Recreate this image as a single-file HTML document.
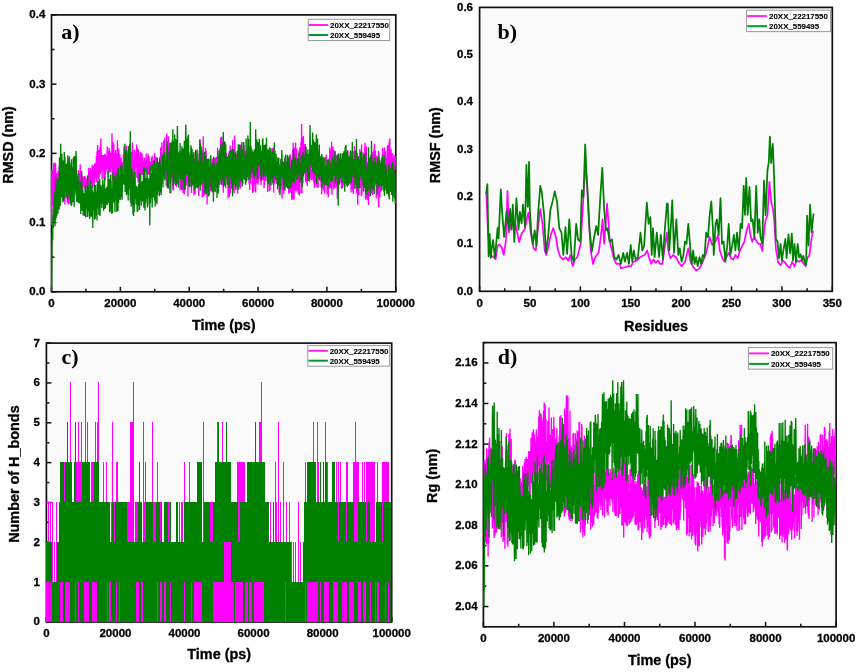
<!DOCTYPE html>
<html><head><meta charset="utf-8"><style>
html,body{margin:0;padding:0;background:#fff;width:858px;height:672px;overflow:hidden}
body{position:relative;font-family:"Liberation Sans",sans-serif}

</style></head><body>
<svg width="858" height="672" viewBox="0 0 858 672" style="position:absolute;left:0;top:0;filter:blur(0.45px)"><rect width="858" height="672" fill="#fff"/><rect x="51.50" y="14.90" width="344.30" height="276.90" fill="#fafafa"/><rect x="479.60" y="7.40" width="352.70" height="283.90" fill="#fafafa"/><rect x="46.40" y="343.10" width="345.30" height="278.90" fill="#fafafa"/><rect x="483.40" y="342.60" width="352.70" height="284.20" fill="#fafafa"/><line x1="51.50" y1="291.80" x2="51.50" y2="286.80" stroke="#111" stroke-width="1.5"/><line x1="120.36" y1="291.80" x2="120.36" y2="286.80" stroke="#111" stroke-width="1.5"/><line x1="189.22" y1="291.80" x2="189.22" y2="286.80" stroke="#111" stroke-width="1.5"/><line x1="258.08" y1="291.80" x2="258.08" y2="286.80" stroke="#111" stroke-width="1.5"/><line x1="326.94" y1="291.80" x2="326.94" y2="286.80" stroke="#111" stroke-width="1.5"/><line x1="395.80" y1="291.80" x2="395.80" y2="286.80" stroke="#111" stroke-width="1.5"/><line x1="85.93" y1="291.80" x2="85.93" y2="288.80" stroke="#111" stroke-width="1.5"/><line x1="154.79" y1="291.80" x2="154.79" y2="288.80" stroke="#111" stroke-width="1.5"/><line x1="223.65" y1="291.80" x2="223.65" y2="288.80" stroke="#111" stroke-width="1.5"/><line x1="292.51" y1="291.80" x2="292.51" y2="288.80" stroke="#111" stroke-width="1.5"/><line x1="361.37" y1="291.80" x2="361.37" y2="288.80" stroke="#111" stroke-width="1.5"/><line x1="51.50" y1="291.80" x2="56.50" y2="291.80" stroke="#111" stroke-width="1.5"/><line x1="51.50" y1="222.57" x2="56.50" y2="222.57" stroke="#111" stroke-width="1.5"/><line x1="51.50" y1="153.35" x2="56.50" y2="153.35" stroke="#111" stroke-width="1.5"/><line x1="51.50" y1="84.13" x2="56.50" y2="84.13" stroke="#111" stroke-width="1.5"/><line x1="51.50" y1="14.90" x2="56.50" y2="14.90" stroke="#111" stroke-width="1.5"/><line x1="51.50" y1="257.19" x2="54.50" y2="257.19" stroke="#111" stroke-width="1.5"/><line x1="51.50" y1="187.96" x2="54.50" y2="187.96" stroke="#111" stroke-width="1.5"/><line x1="51.50" y1="118.74" x2="54.50" y2="118.74" stroke="#111" stroke-width="1.5"/><line x1="51.50" y1="49.51" x2="54.50" y2="49.51" stroke="#111" stroke-width="1.5"/><text x="51.50" y="306.80" text-anchor="middle" font-size="11.5" style="font-family:'Liberation Sans',sans-serif;font-weight:bold;stroke:#000;stroke-width:0.3px">0</text><text x="120.36" y="306.80" text-anchor="middle" font-size="11.5" style="font-family:'Liberation Sans',sans-serif;font-weight:bold;stroke:#000;stroke-width:0.3px">20000</text><text x="189.22" y="306.80" text-anchor="middle" font-size="11.5" style="font-family:'Liberation Sans',sans-serif;font-weight:bold;stroke:#000;stroke-width:0.3px">40000</text><text x="258.08" y="306.80" text-anchor="middle" font-size="11.5" style="font-family:'Liberation Sans',sans-serif;font-weight:bold;stroke:#000;stroke-width:0.3px">60000</text><text x="326.94" y="306.80" text-anchor="middle" font-size="11.5" style="font-family:'Liberation Sans',sans-serif;font-weight:bold;stroke:#000;stroke-width:0.3px">80000</text><text x="395.80" y="306.80" text-anchor="middle" font-size="11.5" style="font-family:'Liberation Sans',sans-serif;font-weight:bold;stroke:#000;stroke-width:0.3px">100000</text><text x="45.30" y="295.20" text-anchor="end" font-size="11.5" style="font-family:'Liberation Sans',sans-serif;font-weight:bold;stroke:#000;stroke-width:0.3px">0.0</text><text x="45.30" y="225.97" text-anchor="end" font-size="11.5" style="font-family:'Liberation Sans',sans-serif;font-weight:bold;stroke:#000;stroke-width:0.3px">0.1</text><text x="45.30" y="156.75" text-anchor="end" font-size="11.5" style="font-family:'Liberation Sans',sans-serif;font-weight:bold;stroke:#000;stroke-width:0.3px">0.2</text><text x="45.30" y="87.53" text-anchor="end" font-size="11.5" style="font-family:'Liberation Sans',sans-serif;font-weight:bold;stroke:#000;stroke-width:0.3px">0.3</text><text x="45.30" y="18.30" text-anchor="end" font-size="11.5" style="font-family:'Liberation Sans',sans-serif;font-weight:bold;stroke:#000;stroke-width:0.3px">0.4</text><text x="223.80" y="329.60" text-anchor="middle" font-size="14.4" style="font-family:'Liberation Sans',sans-serif;font-weight:bold;stroke:#000;stroke-width:0.3px">Time (ps)</text><text transform="translate(13.40,145.00) rotate(-90)" text-anchor="middle" font-size="14.4" style="font-family:'Liberation Sans',sans-serif;font-weight:bold;stroke:#000;stroke-width:0.3px">RMSD (nm)</text><text x="61.30" y="38.60" font-size="22" style="font-family:'Liberation Serif',serif;font-weight:bold">a)</text><rect x="51.50" y="14.90" width="344.30" height="276.90" fill="none" stroke="#111" stroke-width="1.7"/><path d="M51.60 225.0 L51.80 175.0 L52.00 169.2 L52.30 206.0 L52.60 170.9 L52.90 190.3 L53.20 174.2 L53.50 188.9 L53.80 162.9 L54.10 222.3 L54.40 182.6 L54.70 200.9 L55.00 162.5 L55.30 189.0 L55.60 163.5 L55.90 196.9 L56.20 174.2 L56.50 198.0 L56.80 173.3 L57.10 207.7 L57.40 181.3 L57.70 194.2 L58.00 171.0 L58.30 202.6 L58.60 181.8 L58.90 205.9 L59.20 166.0 L59.50 204.7 L59.80 184.0 L60.10 189.1 L60.40 180.2 L60.70 189.2 L61.00 183.4 L61.30 189.5 L61.60 162.4 L61.90 190.4 L62.20 174.0 L62.50 200.0 L62.80 177.6 L63.10 194.6 L63.40 171.3 L63.70 201.3 L64.00 182.2 L64.30 194.3 L64.60 178.2 L64.90 204.5 L65.20 171.9 L65.50 193.3 L65.80 169.1 L66.10 197.6 L66.40 178.2 L66.70 195.5 L67.00 176.2 L67.30 202.7 L67.60 170.4 L67.90 202.2 L68.20 170.7 L68.50 204.6 L68.80 183.9 L69.10 198.9 L69.40 156.3 L69.70 192.5 L70.00 171.1 L70.30 199.2 L70.60 169.3 L70.90 189.5 L71.20 176.2 L71.50 199.1 L71.80 182.5 L72.10 187.6 L72.40 167.2 L72.70 193.5 L73.00 167.3 L73.30 202.5 L73.60 176.5 L73.90 196.3 L74.20 157.4 L74.50 197.9 L74.80 164.5 L75.10 193.3 L75.40 169.2 L75.70 185.2 L76.00 175.7 L76.30 195.5 L76.60 175.9 L76.90 187.9 L77.20 176.8 L77.50 187.9 L77.80 175.4 L78.10 190.2 L78.40 170.1 L78.70 180.5 L79.00 175.8 L79.30 189.8 L79.60 172.2 L79.90 185.5 L80.20 164.2 L80.50 180.1 L80.80 170.8 L81.10 188.8 L81.40 173.6 L81.70 191.8 L82.00 175.4 L82.30 183.0 L82.60 176.2 L82.90 190.2 L83.20 177.2 L83.50 186.0 L83.80 180.2 L84.10 186.1 L84.40 175.9 L84.70 187.4 L85.00 181.0 L85.30 191.4 L85.60 176.5 L85.90 186.6 L86.20 179.1 L86.50 188.6 L86.80 182.9 L87.10 188.8 L87.40 178.2 L87.70 185.9 L88.00 180.3 L88.30 191.5 L88.60 167.7 L88.90 184.9 L89.20 171.4 L89.50 185.7 L89.80 175.1 L90.10 190.2 L90.40 168.1 L90.70 191.0 L91.00 172.0 L91.30 180.6 L91.60 169.9 L91.90 184.1 L92.20 164.7 L92.50 187.4 L92.80 171.1 L93.10 176.0 L93.40 165.8 L93.70 178.7 L94.00 168.4 L94.30 186.3 L94.60 164.0 L94.90 182.4 L95.20 162.9 L95.50 174.0 L95.80 167.0 L96.10 178.2 L96.40 156.0 L96.70 182.6 L97.00 151.3 L97.30 177.1 L97.60 144.9 L97.90 168.7 L98.20 151.0 L98.50 179.7 L98.80 149.7 L99.10 178.0 L99.40 157.6 L99.70 173.6 L100.00 146.8 L100.30 173.9 L100.60 157.7 L100.90 138.5 L101.20 155.2 L101.50 171.6 L101.80 160.9 L102.10 179.2 L102.40 155.1 L102.70 168.9 L103.00 155.0 L103.30 166.3 L103.60 155.4 L103.90 178.4 L104.20 155.2 L104.50 167.0 L104.80 153.8 L105.10 180.3 L105.40 154.5 L105.70 172.6 L106.00 161.0 L106.30 170.6 L106.60 156.3 L106.90 167.5 L107.20 146.4 L107.50 169.0 L107.80 151.0 L108.10 175.4 L108.40 157.4 L108.70 173.3 L109.00 147.7 L109.30 171.6 L109.60 150.5 L109.90 166.4 L110.20 153.5 L110.50 172.4 L110.80 152.5 L111.10 166.7 L111.40 155.3 L111.70 167.7 L112.00 133.3 L112.30 180.0 L112.60 141.6 L112.90 175.0 L113.20 142.4 L113.50 170.0 L113.80 144.5 L114.10 178.8 L114.40 155.3 L114.70 180.1 L115.00 153.6 L115.30 173.0 L115.60 150.0 L115.90 182.0 L116.20 156.3 L116.50 168.9 L116.80 152.9 L117.10 181.6 L117.40 140.3 L117.70 174.5 L118.00 155.3 L118.30 175.9 L118.60 148.2 L118.90 181.3 L119.20 157.9 L119.50 175.3 L119.80 153.9 L120.10 169.9 L120.40 163.9 L120.70 183.4 L121.00 157.8 L121.30 177.8 L121.60 163.3 L121.90 184.4 L122.20 162.0 L122.50 175.7 L122.80 163.0 L123.10 181.9 L123.40 153.7 L123.70 168.9 L124.00 146.1 L124.30 179.3 L124.60 148.2 L124.90 179.7 L125.20 156.4 L125.50 178.3 L125.80 164.7 L126.10 183.1 L126.40 145.5 L126.70 185.4 L127.00 150.0 L127.30 179.7 L127.60 154.3 L127.90 184.6 L128.20 170.1 L128.50 195.0 L128.80 168.4 L129.10 188.6 L129.40 153.3 L129.70 178.5 L130.00 153.7 L130.30 202.5 L130.60 156.8 L130.90 184.2 L131.20 152.0 L131.50 181.8 L131.80 159.1 L132.10 168.5 L132.40 142.6 L132.70 182.9 L133.00 159.2 L133.30 165.8 L133.60 159.3 L133.90 184.3 L134.20 149.5 L134.50 169.9 L134.80 159.6 L135.10 174.6 L135.40 157.3 L135.70 167.3 L136.00 150.4 L136.30 166.1 L136.60 144.4 L136.90 178.1 L137.20 147.6 L137.50 173.2 L137.80 153.4 L138.10 182.8 L138.40 149.2 L138.70 181.4 L139.00 156.8 L139.30 170.9 L139.60 156.7 L139.90 176.7 L140.20 151.8 L140.50 181.7 L140.80 152.2 L141.10 171.4 L141.40 160.1 L141.70 175.1 L142.00 153.3 L142.30 174.9 L142.60 157.1 L142.90 170.3 L143.20 161.8 L143.50 168.4 L143.80 162.5 L144.10 176.9 L144.40 157.6 L144.70 177.2 L145.00 160.4 L145.30 170.9 L145.60 161.4 L145.90 171.9 L146.20 153.5 L146.50 167.5 L146.80 159.1 L147.10 174.5 L147.40 161.5 L147.70 168.7 L148.00 153.4 L148.30 174.4 L148.60 155.7 L148.90 170.0 L149.20 156.6 L149.50 173.7 L149.80 162.7 L150.10 175.8 L150.40 161.6 L150.70 169.5 L151.00 163.3 L151.30 169.0 L151.60 157.3 L151.90 170.9 L152.20 155.8 L152.50 175.7 L152.80 163.1 L153.10 169.1 L153.40 163.9 L153.70 167.7 L154.00 160.5 L154.30 178.4 L154.60 153.1 L154.90 176.8 L155.20 155.5 L155.50 178.3 L155.80 161.8 L156.10 176.9 L156.40 157.3 L156.70 177.4 L157.00 163.5 L157.30 172.6 L157.60 162.5 L157.90 175.2 L158.20 163.0 L158.50 174.2 L158.80 161.8 L159.10 181.6 L159.40 164.6 L159.70 181.0 L160.00 160.9 L160.30 178.5 L160.60 148.2 L160.90 192.6 L161.20 146.6 L161.50 181.3 L161.80 142.6 L162.10 174.3 L162.40 159.7 L162.70 173.1 L163.00 153.3 L163.30 171.8 L163.60 140.5 L163.90 177.3 L164.20 151.8 L164.50 175.4 L164.80 137.7 L165.10 178.9 L165.40 157.0 L165.70 176.9 L166.00 159.4 L166.30 186.0 L166.60 133.3 L166.90 169.6 L167.20 156.1 L167.50 185.1 L167.80 141.6 L168.10 188.8 L168.40 136.3 L168.70 180.6 L169.00 157.8 L169.30 175.1 L169.60 149.4 L169.90 193.1 L170.20 159.0 L170.50 178.6 L170.80 149.9 L171.10 172.9 L171.40 165.3 L171.70 174.4 L172.00 162.5 L172.30 182.5 L172.60 167.5 L172.90 189.8 L173.20 164.1 L173.50 190.4 L173.80 164.8 L174.10 182.4 L174.40 151.9 L174.70 177.6 L175.00 150.7 L175.30 180.3 L175.60 155.7 L175.90 173.4 L176.20 157.4 L176.50 187.1 L176.80 148.5 L177.10 184.8 L177.40 158.9 L177.70 171.2 L178.00 163.3 L178.30 182.9 L178.60 154.7 L178.90 176.6 L179.20 154.8 L179.50 176.0 L179.80 162.0 L180.10 190.4 L180.40 162.2 L180.70 188.6 L181.00 150.7 L181.30 186.1 L181.60 151.8 L181.90 190.0 L182.20 150.3 L182.50 176.5 L182.80 157.1 L183.10 192.9 L183.40 159.7 L183.70 190.1 L184.00 157.3 L184.30 194.2 L184.60 164.2 L184.90 191.2 L185.20 151.4 L185.50 182.1 L185.80 152.4 L186.10 185.9 L186.40 167.8 L186.70 178.9 L187.00 169.7 L187.30 183.2 L187.60 154.0 L187.90 196.4 L188.20 165.9 L188.50 179.7 L188.80 164.0 L189.10 177.2 L189.40 162.9 L189.70 182.0 L190.00 158.4 L190.30 177.7 L190.60 153.9 L190.90 185.9 L191.20 162.4 L191.50 193.0 L191.80 167.4 L192.10 177.4 L192.40 156.9 L192.70 179.9 L193.00 167.9 L193.30 186.4 L193.60 151.7 L193.90 195.6 L194.20 164.6 L194.50 189.4 L194.80 158.9 L195.10 194.3 L195.40 160.8 L195.70 184.0 L196.00 154.1 L196.30 180.8 L196.60 155.5 L196.90 174.8 L197.20 149.2 L197.50 187.0 L197.80 153.6 L198.10 188.7 L198.40 160.2 L198.70 196.0 L199.00 161.4 L199.30 181.0 L199.60 161.3 L199.90 139.6 L200.20 160.7 L200.50 170.3 L200.80 161.4 L201.10 185.5 L201.40 146.5 L201.70 172.1 L202.00 151.3 L202.30 197.6 L202.60 154.4 L202.90 179.4 L203.20 136.3 L203.50 196.3 L203.80 164.8 L204.10 192.7 L204.40 162.8 L204.70 195.3 L205.00 165.0 L205.30 187.1 L205.60 148.1 L205.90 182.3 L206.20 151.0 L206.50 194.2 L206.80 158.9 L207.10 204.4 L207.40 159.3 L207.70 197.3 L208.00 164.0 L208.30 184.8 L208.60 173.1 L208.90 195.0 L209.20 164.6 L209.50 195.3 L209.80 159.3 L210.10 181.6 L210.40 156.4 L210.70 191.2 L211.00 172.2 L211.30 190.4 L211.60 168.2 L211.90 185.0 L212.20 159.6 L212.50 189.2 L212.80 158.6 L213.10 187.8 L213.40 161.3 L213.70 191.1 L214.00 158.2 L214.30 191.2 L214.60 158.5 L214.90 175.9 L215.20 160.7 L215.50 192.3 L215.80 157.4 L216.10 187.3 L216.40 156.8 L216.70 176.8 L217.00 160.0 L217.30 187.9 L217.60 147.7 L217.90 184.5 L218.20 163.4 L218.50 171.8 L218.80 155.4 L219.10 181.2 L219.40 150.4 L219.70 184.9 L220.00 148.2 L220.30 167.9 L220.60 138.5 L220.90 137.5 L221.20 155.2 L221.50 185.1 L221.80 136.5 L222.10 181.3 L222.40 141.4 L222.70 185.7 L223.00 162.7 L223.30 192.7 L223.60 154.5 L223.90 178.1 L224.20 148.3 L224.50 185.8 L224.80 164.8 L225.10 177.1 L225.40 148.8 L225.70 188.2 L226.00 154.3 L226.30 177.0 L226.60 152.9 L226.90 179.2 L227.20 168.0 L227.50 177.6 L227.80 158.3 L228.10 198.3 L228.40 167.5 L228.70 179.9 L229.00 151.1 L229.30 196.8 L229.60 156.2 L229.90 185.4 L230.20 145.6 L230.50 193.6 L230.80 148.8 L231.10 188.0 L231.40 153.3 L231.70 182.5 L232.00 166.3 L232.30 172.9 L232.60 140.3 L232.90 191.3 L233.20 155.8 L233.50 185.0 L233.80 163.8 L234.10 193.3 L234.40 152.3 L234.70 135.4 L235.00 150.4 L235.30 185.5 L235.60 157.8 L235.90 190.3 L236.20 153.9 L236.50 177.3 L236.80 158.4 L237.10 175.6 L237.40 155.1 L237.70 193.8 L238.00 154.0 L238.30 176.4 L238.60 154.8 L238.90 187.7 L239.20 146.3 L239.50 179.4 L239.80 163.9 L240.10 186.9 L240.40 144.6 L240.70 188.4 L241.00 144.5 L241.30 177.9 L241.60 146.3 L241.90 174.1 L242.20 157.8 L242.50 172.7 L242.80 159.0 L243.10 176.1 L243.40 149.9 L243.70 175.0 L244.00 145.0 L244.30 178.8 L244.60 164.5 L244.90 180.3 L245.20 151.1 L245.50 180.5 L245.80 162.7 L246.10 180.4 L246.40 154.5 L246.70 170.0 L247.00 152.4 L247.30 174.5 L247.60 153.7 L247.90 172.6 L248.20 150.2 L248.50 176.5 L248.80 148.1 L249.10 184.3 L249.40 146.3 L249.70 190.1 L250.00 147.2 L250.30 183.2 L250.60 153.7 L250.90 172.3 L251.20 166.1 L251.50 177.9 L251.80 152.6 L252.10 185.7 L252.40 157.0 L252.70 192.9 L253.00 163.2 L253.30 182.9 L253.60 156.6 L253.90 191.7 L254.20 153.6 L254.50 183.9 L254.80 158.2 L255.10 176.7 L255.40 155.6 L255.70 192.4 L256.00 158.7 L256.30 182.2 L256.60 161.4 L256.90 182.9 L257.20 168.7 L257.50 178.6 L257.80 157.0 L258.10 184.8 L258.40 168.5 L258.70 175.3 L259.00 160.2 L259.30 179.0 L259.60 164.7 L259.90 176.7 L260.20 157.2 L260.50 181.6 L260.80 153.7 L261.10 185.0 L261.40 159.5 L261.70 181.0 L262.00 166.9 L262.30 173.6 L262.60 160.6 L262.90 179.9 L263.20 156.0 L263.50 178.9 L263.80 165.3 L264.10 188.3 L264.40 159.1 L264.70 184.8 L265.00 166.2 L265.30 180.5 L265.60 155.7 L265.90 173.9 L266.20 169.1 L266.50 176.4 L266.80 159.3 L267.10 181.6 L267.40 149.2 L267.70 191.9 L268.00 165.4 L268.30 176.7 L268.60 151.7 L268.90 183.9 L269.20 157.3 L269.50 191.2 L269.80 158.9 L270.10 190.0 L270.40 158.4 L270.70 185.5 L271.00 152.6 L271.30 176.2 L271.60 153.9 L271.90 176.1 L272.20 148.0 L272.50 176.2 L272.80 152.7 L273.10 183.5 L273.40 148.8 L273.70 192.7 L274.00 146.5 L274.30 183.3 L274.60 150.4 L274.90 183.6 L275.20 165.2 L275.50 175.0 L275.80 163.2 L276.10 180.2 L276.40 168.6 L276.70 183.9 L277.00 167.1 L277.30 176.7 L277.60 157.6 L277.90 183.2 L278.20 162.7 L278.50 178.0 L278.80 157.7 L279.10 192.5 L279.40 171.1 L279.70 193.6 L280.00 172.3 L280.30 182.0 L280.60 166.2 L280.90 185.7 L281.20 159.4 L281.50 186.1 L281.80 166.4 L282.10 198.5 L282.40 172.1 L282.70 188.6 L283.00 165.7 L283.30 189.7 L283.60 163.2 L283.90 193.9 L284.20 162.2 L284.50 185.6 L284.80 158.6 L285.10 190.8 L285.40 169.0 L285.70 186.6 L286.00 164.3 L286.30 184.5 L286.60 166.3 L286.90 186.5 L287.20 171.3 L287.50 187.0 L287.80 175.7 L288.10 184.3 L288.40 175.8 L288.70 193.4 L289.00 167.6 L289.30 192.3 L289.60 171.4 L289.90 189.3 L290.20 154.3 L290.50 192.7 L290.80 165.6 L291.10 185.4 L291.40 163.0 L291.70 199.8 L292.00 158.2 L292.30 189.7 L292.60 149.8 L292.90 199.4 L293.20 142.7 L293.50 199.4 L293.80 165.4 L294.10 199.6 L294.40 147.5 L294.70 190.4 L295.00 162.5 L295.30 186.6 L295.60 142.6 L295.90 192.2 L296.20 163.4 L296.50 187.7 L296.80 148.5 L297.10 190.6 L297.40 158.7 L297.70 187.0 L298.00 165.6 L298.30 193.9 L298.60 168.9 L298.90 179.5 L299.20 150.2 L299.50 195.7 L299.80 147.1 L300.10 182.6 L300.40 156.4 L300.70 172.4 L301.00 141.7 L301.30 193.4 L301.60 124.0 L301.90 193.4 L302.20 137.5 L302.50 172.6 L302.80 146.3 L303.10 165.7 L303.40 136.1 L303.70 165.2 L304.00 143.8 L304.30 168.8 L304.60 149.0 L304.90 174.3 L305.20 144.0 L305.50 181.8 L305.80 157.4 L306.10 177.7 L306.40 162.4 L306.70 183.2 L307.00 157.3 L307.30 186.1 L307.60 164.7 L307.90 178.5 L308.20 157.8 L308.50 180.9 L308.80 154.0 L309.10 176.0 L309.40 168.6 L309.70 182.1 L310.00 159.6 L310.30 174.5 L310.60 161.1 L310.90 177.5 L311.20 169.6 L311.50 180.0 L311.80 170.8 L312.10 178.4 L312.40 169.3 L312.70 178.7 L313.00 159.2 L313.30 180.6 L313.60 167.1 L313.90 183.5 L314.20 173.4 L314.50 187.9 L314.80 172.1 L315.10 185.0 L315.40 163.4 L315.70 181.9 L316.00 165.3 L316.30 180.0 L316.60 164.1 L316.90 187.2 L317.20 164.1 L317.50 186.1 L317.80 165.0 L318.10 188.1 L318.40 162.9 L318.70 178.3 L319.00 174.6 L319.30 178.7 L319.60 168.5 L319.90 180.2 L320.20 164.7 L320.50 180.6 L320.80 161.4 L321.10 187.2 L321.40 171.7 L321.70 194.3 L322.00 165.8 L322.30 187.0 L322.60 159.1 L322.90 181.7 L323.20 166.4 L323.50 190.6 L323.80 174.5 L324.10 179.2 L324.40 171.5 L324.70 193.6 L325.00 157.0 L325.30 185.4 L325.60 167.4 L325.90 180.1 L326.20 154.7 L326.50 181.7 L326.80 159.7 L327.10 194.3 L327.40 173.6 L327.70 191.1 L328.00 160.3 L328.30 197.3 L328.60 158.7 L328.90 189.5 L329.20 158.4 L329.50 177.4 L329.80 147.6 L330.10 188.1 L330.40 149.7 L330.70 182.2 L331.00 154.5 L331.30 190.1 L331.60 141.7 L331.90 194.7 L332.20 163.1 L332.50 183.2 L332.80 146.6 L333.10 183.1 L333.40 153.3 L333.70 189.4 L334.00 149.9 L334.30 187.6 L334.60 164.5 L334.90 177.3 L335.20 151.2 L335.50 187.8 L335.80 157.8 L336.10 186.8 L336.40 155.8 L336.70 175.1 L337.00 164.7 L337.30 198.4 L337.60 168.0 L337.90 174.7 L338.20 163.1 L338.50 189.5 L338.80 158.3 L339.10 181.4 L339.40 163.0 L339.70 181.5 L340.00 162.5 L340.30 176.2 L340.60 170.1 L340.90 183.2 L341.20 159.8 L341.50 189.0 L341.80 171.2 L342.10 181.1 L342.40 169.8 L342.70 187.9 L343.00 157.5 L343.30 180.4 L343.60 170.8 L343.90 185.1 L344.20 168.3 L344.50 185.9 L344.80 165.1 L345.10 179.8 L345.40 161.2 L345.70 182.6 L346.00 164.6 L346.30 180.2 L346.60 162.9 L346.90 179.9 L347.20 158.6 L347.50 186.8 L347.80 150.0 L348.10 181.0 L348.40 161.5 L348.70 184.3 L349.00 169.7 L349.30 183.2 L349.60 166.4 L349.90 179.8 L350.20 152.0 L350.50 184.8 L350.80 156.6 L351.10 192.6 L351.40 165.3 L351.70 189.5 L352.00 151.6 L352.30 185.9 L352.60 163.0 L352.90 192.6 L353.20 160.6 L353.50 194.1 L353.80 151.6 L354.10 189.2 L354.40 145.9 L354.70 178.8 L355.00 151.9 L355.30 184.4 L355.60 153.2 L355.90 185.3 L356.20 151.0 L356.50 193.4 L356.80 160.1 L357.10 186.6 L357.40 169.0 L357.70 204.7 L358.00 156.3 L358.30 179.6 L358.60 155.9 L358.90 195.2 L359.20 159.7 L359.50 178.8 L359.80 148.9 L360.10 188.1 L360.40 166.3 L360.70 185.6 L361.00 167.9 L361.30 196.2 L361.60 144.6 L361.90 195.1 L362.20 164.5 L362.50 185.1 L362.80 157.0 L363.10 186.0 L363.40 156.5 L363.70 191.1 L364.00 156.3 L364.30 186.5 L364.60 168.9 L364.90 142.7 L365.20 152.7 L365.50 199.8 L365.80 169.1 L366.10 198.2 L366.40 146.3 L366.70 191.4 L367.00 162.8 L367.30 200.0 L367.60 161.9 L367.90 178.9 L368.20 171.3 L368.50 205.0 L368.80 168.5 L369.10 192.2 L369.40 158.3 L369.70 196.8 L370.00 174.0 L370.30 187.3 L370.60 155.5 L370.90 185.0 L371.20 164.4 L371.50 193.3 L371.80 156.0 L372.10 181.2 L372.40 154.4 L372.70 195.0 L373.00 152.1 L373.30 181.5 L373.60 150.5 L373.90 178.6 L374.20 149.9 L374.50 143.8 L374.80 163.7 L375.10 176.5 L375.40 150.7 L375.70 185.6 L376.00 155.0 L376.30 198.4 L376.60 156.5 L376.90 195.8 L377.20 156.4 L377.50 186.3 L377.80 163.5 L378.10 189.1 L378.40 150.9 L378.70 207.2 L379.00 153.3 L379.30 197.1 L379.60 170.7 L379.90 197.4 L380.20 165.1 L380.50 179.8 L380.80 163.6 L381.10 191.0 L381.40 157.9 L381.70 176.6 L382.00 168.0 L382.30 177.3 L382.60 147.7 L382.90 176.6 L383.20 157.9 L383.50 184.5 L383.80 157.5 L384.10 173.4 L384.40 147.4 L384.70 187.6 L385.00 156.3 L385.30 177.8 L385.60 151.5 L385.90 190.9 L386.20 157.7 L386.50 179.6 L386.80 164.4 L387.10 169.7 L387.40 146.1 L387.70 172.1 L388.00 144.9 L388.30 184.8 L388.60 155.8 L388.90 186.7 L389.20 141.7 L389.50 179.7 L389.80 138.5 L390.10 172.4 L390.40 158.4 L390.70 173.9 L391.00 148.9 L391.30 184.7 L391.60 160.3 L391.90 184.0 L392.20 152.9 L392.50 172.4 L392.80 158.4 L393.10 178.4 L393.40 163.7 L393.70 170.2 L394.00 154.5 L394.30 177.5 L394.60 158.8 L394.90 170.1 L395.20 156.0" fill="none" stroke="#ff00ff" stroke-width="1.35" stroke-linejoin="miter" stroke-miterlimit="2"/>
<path d="M51.60 291.0 L51.90 250.0 L52.30 232.0 L52.70 240.0 L53.00 215.0 L53.30 228.0 L53.50 209.3 L53.80 211.8 L54.10 190.8 L54.40 221.1 L54.70 202.5 L55.00 226.5 L55.30 195.7 L55.60 220.5 L55.90 176.7 L56.20 218.0 L56.50 184.6 L56.80 216.1 L57.10 191.5 L57.40 210.2 L57.70 181.0 L58.00 213.8 L58.30 178.2 L58.60 203.0 L58.90 177.7 L59.20 209.6 L59.50 157.3 L59.80 197.1 L60.10 165.2 L60.40 205.8 L60.70 143.8 L61.00 189.6 L61.30 166.1 L61.60 197.5 L61.90 153.8 L62.20 188.6 L62.50 160.3 L62.80 202.5 L63.10 160.5 L63.40 201.1 L63.70 164.3 L64.00 187.6 L64.30 152.0 L64.60 198.7 L64.90 156.6 L65.20 181.2 L65.50 171.6 L65.80 190.9 L66.10 164.1 L66.40 193.8 L66.70 170.0 L67.00 197.5 L67.30 161.9 L67.60 200.3 L67.90 155.3 L68.20 196.6 L68.50 159.5 L68.80 192.8 L69.10 157.4 L69.40 191.6 L69.70 162.3 L70.00 203.7 L70.30 164.5 L70.60 195.5 L70.90 166.7 L71.20 205.9 L71.50 159.3 L71.80 205.1 L72.10 168.9 L72.40 201.9 L72.70 167.9 L73.00 189.8 L73.30 158.0 L73.60 187.9 L73.90 156.7 L74.20 206.8 L74.50 155.9 L74.80 183.7 L75.10 179.0 L75.40 190.3 L75.70 161.6 L76.00 151.0 L76.30 161.7 L76.60 202.1 L76.90 181.4 L77.20 201.5 L77.50 184.5 L77.80 195.7 L78.10 174.0 L78.40 203.2 L78.70 188.4 L79.00 199.1 L79.30 191.3 L79.60 203.2 L79.90 181.0 L80.20 198.4 L80.50 182.5 L80.80 214.0 L81.10 188.6 L81.40 208.6 L81.70 171.1 L82.00 210.7 L82.30 194.5 L82.60 201.6 L82.90 190.3 L83.20 215.4 L83.50 192.8 L83.80 206.8 L84.10 198.0 L84.40 215.9 L84.70 193.8 L85.00 206.6 L85.30 185.0 L85.60 217.2 L85.90 186.0 L86.20 208.0 L86.50 192.0 L86.80 208.7 L87.10 189.7 L87.40 217.1 L87.70 175.4 L88.00 211.5 L88.30 186.7 L88.60 208.4 L88.90 185.2 L89.20 216.6 L89.50 191.9 L89.80 218.9 L90.10 190.0 L90.40 213.0 L90.70 181.3 L91.00 216.8 L91.30 189.2 L91.60 203.4 L91.90 185.4 L92.20 216.6 L92.50 190.6 L92.80 228.1 L93.10 192.4 L93.40 207.3 L93.70 198.4 L94.00 210.2 L94.30 184.5 L94.60 219.7 L94.90 196.2 L95.20 219.0 L95.50 184.9 L95.80 215.6 L96.10 191.7 L96.40 212.9 L96.70 195.0 L97.00 220.6 L97.30 184.0 L97.60 204.3 L97.90 180.3 L98.20 207.4 L98.50 181.5 L98.80 214.7 L99.10 181.3 L99.40 213.2 L99.70 178.7 L100.00 215.9 L100.30 195.9 L100.60 203.4 L100.90 184.9 L101.20 203.4 L101.50 187.1 L101.80 208.2 L102.10 190.5 L102.40 203.8 L102.70 179.4 L103.00 200.5 L103.30 186.9 L103.60 210.7 L103.90 184.5 L104.20 203.0 L104.50 177.3 L104.80 209.0 L105.10 193.0 L105.40 207.9 L105.70 188.6 L106.00 201.0 L106.30 192.7 L106.60 205.1 L106.90 186.8 L107.20 205.0 L107.50 186.4 L107.80 200.6 L108.10 170.4 L108.40 203.2 L108.70 182.8 L109.00 197.3 L109.30 178.7 L109.60 212.2 L109.90 179.4 L110.20 210.8 L110.50 174.6 L110.80 200.6 L111.10 180.4 L111.40 213.7 L111.70 190.2 L112.00 196.0 L112.30 188.2 L112.60 213.2 L112.90 172.3 L113.20 201.4 L113.50 188.0 L113.80 201.9 L114.10 175.7 L114.40 202.9 L114.70 184.0 L115.00 212.1 L115.30 179.1 L115.60 200.9 L115.90 172.7 L116.20 198.4 L116.50 177.1 L116.80 211.7 L117.10 177.1 L117.40 196.6 L117.70 171.5 L118.00 211.3 L118.30 167.8 L118.60 203.1 L118.90 175.0 L119.20 190.5 L119.50 179.7 L119.80 199.8 L120.10 175.4 L120.40 199.7 L120.70 166.2 L121.00 189.2 L121.30 167.1 L121.60 197.3 L121.90 163.0 L122.20 199.8 L122.50 169.5 L122.80 184.2 L123.10 174.3 L123.40 184.5 L123.70 173.4 L124.00 183.2 L124.30 172.7 L124.60 184.9 L124.90 143.8 L125.20 191.9 L125.50 169.6 L125.80 183.4 L126.10 150.1 L126.40 195.2 L126.70 152.1 L127.00 194.1 L127.30 164.1 L127.60 193.8 L127.90 161.5 L128.20 200.4 L128.50 146.0 L128.80 174.6 L129.10 160.9 L129.40 187.5 L129.70 143.9 L130.00 189.1 L130.30 131.2 L130.60 200.0 L130.90 168.1 L131.20 206.8 L131.50 169.8 L131.80 195.6 L132.10 168.7 L132.40 205.3 L132.70 180.2 L133.00 214.5 L133.30 185.0 L133.60 216.1 L133.90 175.5 L134.20 211.9 L134.50 172.1 L134.80 198.4 L135.10 172.5 L135.40 195.9 L135.70 189.7 L136.00 204.6 L136.30 185.8 L136.60 195.7 L136.90 187.4 L137.20 211.8 L137.50 189.6 L137.80 211.7 L138.10 186.3 L138.40 204.4 L138.70 184.1 L139.00 205.5 L139.30 172.7 L139.60 210.0 L139.90 175.9 L140.20 200.6 L140.50 173.9 L140.80 197.7 L141.10 182.0 L141.40 205.8 L141.70 181.6 L142.00 201.0 L142.30 183.1 L142.60 194.2 L142.90 180.9 L143.20 201.5 L143.50 167.4 L143.80 207.8 L144.10 177.5 L144.40 203.6 L144.70 167.9 L145.00 210.6 L145.30 187.0 L145.60 203.7 L145.90 177.6 L146.20 198.2 L146.50 184.6 L146.80 198.9 L147.10 167.0 L147.40 207.6 L147.70 179.7 L148.00 197.5 L148.30 185.5 L148.60 194.1 L148.90 178.0 L149.20 205.3 L149.50 185.1 L149.80 225.5 L150.10 165.6 L150.40 202.9 L150.70 166.4 L151.00 193.7 L151.30 177.9 L151.60 198.2 L151.90 173.3 L152.20 207.6 L152.50 164.5 L152.80 189.8 L153.10 169.1 L153.40 197.5 L153.70 160.3 L154.00 195.5 L154.30 161.3 L154.60 200.8 L154.90 168.1 L155.20 206.4 L155.50 176.2 L155.80 202.5 L156.10 163.6 L156.40 202.3 L156.70 167.0 L157.00 204.3 L157.30 157.5 L157.60 194.9 L157.90 166.8 L158.20 185.8 L158.50 162.3 L158.80 191.6 L159.10 163.0 L159.40 196.2 L159.70 157.5 L160.00 192.6 L160.30 163.9 L160.60 189.4 L160.90 170.3 L161.20 195.0 L161.50 166.1 L161.80 180.1 L162.10 169.0 L162.40 183.8 L162.70 154.8 L163.00 187.6 L163.30 160.8 L163.60 177.5 L163.90 155.6 L164.20 174.0 L164.50 152.1 L164.80 180.6 L165.10 161.4 L165.40 173.5 L165.70 161.1 L166.00 169.6 L166.30 160.1 L166.60 170.3 L166.90 141.5 L167.20 187.7 L167.50 145.6 L167.80 186.1 L168.10 160.4 L168.40 188.2 L168.70 159.2 L169.00 167.9 L169.30 151.4 L169.60 170.6 L169.90 142.5 L170.20 183.9 L170.50 159.3 L170.80 193.5 L171.10 142.6 L171.40 178.3 L171.70 143.1 L172.00 167.3 L172.30 139.7 L172.60 173.3 L172.90 129.2 L173.20 186.5 L173.50 146.3 L173.80 181.6 L174.10 141.2 L174.40 169.8 L174.70 134.6 L175.00 184.3 L175.30 138.8 L175.60 185.6 L175.90 139.6 L176.20 183.6 L176.50 152.4 L176.80 171.0 L177.10 146.8 L177.40 126.0 L177.70 155.2 L178.00 183.4 L178.30 152.6 L178.60 187.5 L178.90 154.9 L179.20 169.4 L179.50 151.6 L179.80 173.8 L180.10 143.0 L180.40 178.9 L180.70 156.7 L181.00 179.8 L181.30 153.1 L181.60 189.7 L181.90 146.3 L182.20 179.2 L182.50 159.8 L182.80 179.3 L183.10 148.6 L183.40 172.9 L183.70 151.8 L184.00 188.6 L184.30 140.7 L184.60 180.5 L184.90 147.7 L185.20 189.6 L185.50 140.8 L185.80 124.6 L186.10 149.8 L186.40 174.4 L186.70 138.6 L187.00 172.2 L187.30 139.7 L187.60 175.3 L187.90 135.7 L188.20 168.4 L188.50 134.4 L188.80 186.2 L189.10 152.5 L189.40 187.2 L189.70 156.3 L190.00 175.0 L190.30 155.9 L190.60 177.2 L190.90 145.3 L191.20 187.2 L191.50 147.3 L191.80 185.0 L192.10 149.0 L192.40 182.2 L192.70 163.0 L193.00 184.9 L193.30 154.8 L193.60 183.0 L193.90 166.0 L194.20 170.9 L194.50 161.1 L194.80 190.5 L195.10 152.5 L195.40 175.7 L195.70 149.8 L196.00 188.1 L196.30 151.3 L196.60 187.4 L196.90 165.5 L197.20 178.8 L197.50 160.7 L197.80 187.8 L198.10 160.7 L198.40 186.8 L198.70 162.2 L199.00 185.2 L199.30 150.9 L199.60 176.7 L199.90 139.6 L200.20 190.7 L200.50 143.5 L200.80 183.9 L201.10 161.1 L201.40 177.0 L201.70 149.4 L202.00 179.9 L202.30 166.7 L202.60 184.0 L202.90 162.1 L203.20 176.5 L203.50 169.3 L203.80 176.7 L204.10 153.7 L204.40 182.5 L204.70 151.8 L205.00 193.7 L205.30 159.7 L205.60 180.8 L205.90 155.9 L206.20 194.0 L206.50 169.8 L206.80 188.8 L207.10 160.4 L207.40 188.2 L207.70 159.0 L208.00 188.0 L208.30 158.5 L208.60 196.5 L208.90 170.5 L209.20 179.6 L209.50 167.9 L209.80 186.9 L210.10 166.3 L210.40 177.8 L210.70 155.3 L211.00 177.5 L211.30 167.0 L211.60 189.7 L211.90 170.4 L212.20 192.2 L212.50 163.1 L212.80 189.2 L213.10 171.4 L213.40 201.8 L213.70 156.7 L214.00 181.6 L214.30 164.7 L214.60 191.5 L214.90 169.0 L215.20 187.4 L215.50 169.5 L215.80 182.8 L216.10 163.2 L216.40 180.6 L216.70 162.6 L217.00 198.1 L217.30 173.5 L217.60 177.5 L217.90 165.3 L218.20 193.5 L218.50 155.6 L218.80 187.7 L219.10 150.7 L219.40 174.4 L219.70 161.0 L220.00 175.6 L220.30 153.3 L220.60 180.4 L220.90 145.8 L221.20 184.0 L221.50 143.7 L221.80 177.2 L222.10 158.5 L222.40 167.9 L222.70 145.2 L223.00 180.9 L223.30 132.0 L223.60 187.0 L223.90 147.7 L224.20 178.4 L224.50 141.2 L224.80 185.4 L225.10 142.2 L225.40 166.4 L225.70 144.2 L226.00 175.4 L226.30 156.8 L226.60 167.7 L226.90 158.2 L227.20 184.6 L227.50 156.4 L227.80 185.0 L228.10 158.4 L228.40 178.4 L228.70 154.4 L229.00 188.0 L229.30 160.7 L229.60 174.5 L229.90 153.8 L230.20 177.4 L230.50 150.6 L230.80 173.6 L231.10 156.2 L231.40 184.3 L231.70 150.4 L232.00 189.2 L232.30 148.7 L232.60 196.6 L232.90 151.9 L233.20 171.4 L233.50 149.0 L233.80 185.0 L234.10 153.5 L234.40 179.7 L234.70 154.5 L235.00 183.0 L235.30 152.2 L235.60 189.2 L235.90 159.1 L236.20 171.4 L236.50 167.5 L236.80 186.6 L237.10 150.7 L237.40 180.4 L237.70 150.2 L238.00 182.5 L238.30 144.3 L238.60 189.8 L238.90 165.4 L239.20 177.6 L239.50 144.4 L239.80 180.2 L240.10 147.1 L240.40 173.2 L240.70 157.0 L241.00 181.8 L241.30 154.4 L241.60 176.0 L241.90 142.1 L242.20 186.4 L242.50 161.1 L242.80 184.1 L243.10 149.7 L243.40 178.8 L243.70 141.9 L244.00 167.0 L244.30 156.1 L244.60 179.6 L244.90 155.0 L245.20 179.9 L245.50 157.5 L245.80 184.7 L246.10 138.4 L246.40 182.1 L246.70 156.4 L247.00 177.2 L247.30 157.8 L247.60 167.1 L247.90 135.6 L248.20 179.9 L248.50 139.1 L248.80 164.5 L249.10 150.9 L249.40 175.5 L249.70 151.0 L250.00 179.8 L250.30 121.9 L250.60 166.6 L250.90 145.5 L251.20 172.8 L251.50 148.0 L251.80 166.1 L252.10 150.0 L252.40 166.5 L252.70 152.7 L253.00 172.8 L253.30 151.9 L253.60 175.1 L253.90 150.6 L254.20 177.8 L254.50 149.3 L254.80 161.9 L255.10 154.2 L255.40 175.9 L255.70 129.2 L256.00 162.1 L256.30 149.4 L256.60 171.8 L256.90 139.6 L257.20 179.5 L257.50 145.8 L257.80 166.2 L258.10 141.9 L258.40 165.7 L258.70 147.5 L259.00 163.1 L259.30 139.0 L259.60 162.1 L259.90 147.4 L260.20 167.1 L260.50 145.5 L260.80 176.5 L261.10 150.7 L261.40 179.7 L261.70 156.5 L262.00 163.7 L262.30 156.6 L262.60 138.5 L262.90 139.2 L263.20 177.2 L263.50 153.8 L263.80 176.5 L264.10 144.9 L264.40 175.9 L264.70 155.3 L265.00 168.2 L265.30 144.5 L265.60 169.9 L265.90 147.0 L266.20 175.6 L266.50 137.7 L266.80 176.6 L267.10 159.2 L267.40 181.5 L267.70 161.5 L268.00 184.5 L268.30 149.4 L268.60 184.3 L268.90 157.7 L269.20 169.4 L269.50 147.2 L269.80 176.3 L270.10 158.6 L270.40 182.0 L270.70 148.2 L271.00 185.4 L271.30 163.1 L271.60 172.2 L271.90 164.5 L272.20 178.8 L272.50 151.2 L272.80 182.8 L273.10 165.6 L273.40 184.9 L273.70 158.8 L274.00 174.6 L274.30 142.5 L274.60 175.0 L274.90 151.0 L275.20 175.0 L275.50 166.6 L275.80 178.1 L276.10 154.0 L276.40 180.7 L276.70 166.4 L277.00 177.0 L277.30 161.4 L277.60 189.2 L277.90 162.8 L278.20 184.3 L278.50 157.7 L278.80 186.1 L279.10 164.3 L279.40 175.3 L279.70 166.5 L280.00 195.3 L280.30 169.8 L280.60 188.8 L280.90 158.7 L281.20 175.9 L281.50 171.8 L281.80 150.0 L282.10 156.7 L282.40 178.6 L282.70 166.8 L283.00 178.0 L283.30 161.7 L283.60 185.1 L283.90 166.8 L284.20 190.0 L284.50 164.4 L284.80 179.8 L285.10 156.4 L285.40 184.3 L285.70 154.4 L286.00 186.7 L286.30 168.2 L286.60 183.6 L286.90 161.3 L287.20 188.3 L287.50 154.9 L287.80 188.0 L288.10 166.0 L288.40 188.8 L288.70 158.1 L289.00 188.2 L289.30 155.7 L289.60 176.3 L289.90 170.6 L290.20 187.8 L290.50 169.0 L290.80 179.1 L291.10 167.3 L291.40 187.6 L291.70 159.9 L292.00 176.3 L292.30 165.1 L292.60 181.6 L292.90 158.9 L293.20 182.0 L293.50 149.0 L293.80 175.2 L294.10 156.2 L294.40 183.6 L294.70 164.3 L295.00 178.8 L295.30 158.0 L295.60 174.2 L295.90 164.8 L296.20 174.9 L296.50 166.2 L296.80 180.1 L297.10 158.7 L297.40 174.5 L297.70 158.3 L298.00 172.3 L298.30 165.4 L298.60 172.9 L298.90 152.6 L299.20 179.5 L299.50 164.7 L299.80 182.7 L300.10 162.4 L300.40 171.2 L300.70 166.0 L301.00 171.4 L301.30 154.7 L301.60 180.5 L301.90 155.3 L302.20 187.5 L302.50 161.7 L302.80 183.6 L303.10 152.0 L303.40 176.4 L303.70 154.0 L304.00 172.4 L304.30 158.1 L304.60 168.9 L304.90 162.5 L305.20 173.2 L305.50 146.1 L305.80 167.3 L306.10 146.9 L306.40 165.1 L306.70 154.0 L307.00 172.5 L307.30 154.6 L307.60 176.9 L307.90 149.4 L308.20 181.0 L308.50 154.8 L308.80 172.7 L309.10 154.0 L309.40 179.0 L309.70 156.0 L310.00 125.0 L310.30 141.3 L310.60 163.9 L310.90 144.6 L311.20 165.7 L311.50 144.9 L311.80 168.3 L312.10 154.1 L312.40 171.7 L312.70 132.4 L313.00 160.8 L313.30 139.7 L313.60 173.2 L313.90 146.4 L314.20 164.2 L314.50 141.7 L314.80 173.8 L315.10 147.1 L315.40 160.6 L315.70 142.9 L316.00 175.7 L316.30 134.4 L316.60 184.1 L316.90 154.3 L317.20 174.3 L317.50 138.5 L317.80 175.8 L318.10 152.3 L318.40 178.0 L318.70 150.8 L319.00 163.7 L319.30 144.6 L319.60 180.4 L319.90 156.5 L320.20 170.5 L320.50 156.3 L320.80 175.2 L321.10 158.5 L321.40 182.6 L321.70 154.0 L322.00 188.1 L322.30 165.3 L322.60 174.1 L322.90 156.5 L323.20 182.0 L323.50 163.4 L323.80 184.2 L324.10 157.9 L324.40 181.9 L324.70 167.0 L325.00 185.2 L325.30 166.4 L325.60 181.6 L325.90 166.0 L326.20 180.2 L326.50 164.9 L326.80 185.7 L327.10 159.4 L327.40 178.5 L327.70 166.5 L328.00 181.7 L328.30 160.0 L328.60 186.4 L328.90 168.8 L329.20 174.9 L329.50 167.9 L329.80 177.0 L330.10 161.5 L330.40 181.5 L330.70 171.2 L331.00 181.8 L331.30 170.9 L331.60 179.2 L331.90 164.1 L332.20 181.3 L332.50 158.6 L332.80 176.4 L333.10 156.4 L333.40 175.1 L333.70 168.5 L334.00 175.5 L334.30 159.4 L334.60 173.4 L334.90 151.4 L335.20 183.3 L335.50 165.5 L335.80 175.8 L336.10 161.8 L336.40 174.9 L336.70 166.9 L337.00 181.7 L337.30 154.5 L337.60 184.2 L337.90 158.7 L338.20 205.7 L338.50 153.6 L338.80 178.1 L339.10 165.1 L339.40 184.6 L339.70 157.8 L340.00 175.3 L340.30 153.2 L340.60 178.3 L340.90 162.2 L341.20 170.7 L341.50 158.5 L341.80 176.9 L342.10 153.5 L342.40 182.4 L342.70 162.8 L343.00 179.8 L343.30 152.9 L343.60 178.5 L343.90 151.3 L344.20 182.9 L344.50 162.2 L344.80 191.8 L345.10 147.0 L345.40 183.6 L345.70 147.0 L346.00 144.8 L346.30 163.5 L346.60 184.8 L346.90 154.6 L347.20 186.5 L347.50 151.5 L347.80 175.8 L348.10 155.4 L348.40 185.6 L348.70 157.4 L349.00 180.3 L349.30 163.0 L349.60 178.0 L349.90 156.3 L350.20 183.5 L350.50 150.6 L350.80 171.1 L351.10 162.9 L351.40 182.7 L351.70 158.9 L352.00 171.4 L352.30 141.9 L352.60 175.3 L352.90 164.1 L353.20 177.4 L353.50 159.2 L353.80 171.6 L354.10 159.2 L354.40 173.4 L354.70 161.0 L355.00 188.7 L355.30 150.4 L355.60 172.3 L355.90 166.0 L356.20 179.0 L356.50 138.9 L356.80 188.1 L357.10 152.9 L357.40 181.8 L357.70 160.7 L358.00 190.9 L358.30 158.1 L358.60 185.6 L358.90 160.6 L359.20 188.0 L359.50 168.2 L359.80 180.4 L360.10 159.4 L360.40 175.9 L360.70 151.6 L361.00 175.5 L361.30 151.6 L361.60 174.2 L361.90 163.9 L362.20 180.3 L362.50 160.1 L362.80 181.2 L363.10 152.4 L363.40 191.5 L363.70 166.6 L364.00 182.7 L364.30 154.8 L364.60 187.9 L364.90 171.4 L365.20 186.7 L365.50 152.4 L365.80 192.0 L366.10 171.8 L366.40 194.7 L366.70 170.8 L367.00 191.8 L367.30 164.9 L367.60 190.7 L367.90 169.7 L368.20 190.4 L368.50 147.2 L368.80 179.4 L369.10 158.6 L369.40 180.8 L369.70 157.7 L370.00 189.2 L370.30 159.1 L370.60 195.9 L370.90 155.4 L371.20 188.4 L371.50 141.1 L371.80 179.0 L372.10 164.1 L372.40 185.6 L372.70 160.9 L373.00 190.5 L373.30 161.9 L373.60 179.0 L373.90 170.4 L374.20 194.1 L374.50 157.6 L374.80 183.0 L375.10 171.0 L375.40 183.2 L375.70 161.9 L376.00 178.8 L376.30 167.4 L376.60 182.7 L376.90 168.8 L377.20 194.6 L377.50 159.0 L377.80 185.7 L378.10 157.6 L378.40 183.2 L378.70 155.9 L379.00 188.0 L379.30 168.9 L379.60 185.4 L379.90 160.3 L380.20 179.2 L380.50 173.6 L380.80 185.3 L381.10 163.2 L381.40 186.9 L381.70 164.6 L382.00 190.0 L382.30 155.5 L382.60 186.3 L382.90 170.4 L383.20 183.1 L383.50 160.9 L383.80 191.8 L384.10 154.8 L384.40 195.8 L384.70 165.9 L385.00 189.0 L385.30 166.2 L385.60 184.2 L385.90 164.8 L386.20 180.0 L386.50 173.8 L386.80 194.3 L387.10 175.0 L387.40 181.7 L387.70 175.4 L388.00 193.3 L388.30 169.8 L388.60 196.6 L388.90 163.9 L389.20 199.5 L389.50 174.9 L389.80 192.0 L390.10 167.8 L390.40 192.0 L390.70 168.5 L391.00 189.0 L391.30 177.6 L391.60 195.0 L391.90 162.7 L392.20 186.3 L392.50 161.5 L392.80 201.7 L393.10 163.7 L393.40 196.7 L393.70 165.4 L394.00 192.8 L394.30 178.8 L394.60 198.7 L394.90 171.0 L395.20 203.7" fill="none" stroke="#008000" stroke-width="1.35" stroke-linejoin="miter" stroke-miterlimit="2"/><line x1="479.60" y1="291.30" x2="479.60" y2="286.30" stroke="#111" stroke-width="1.5"/><line x1="529.99" y1="291.30" x2="529.99" y2="286.30" stroke="#111" stroke-width="1.5"/><line x1="580.37" y1="291.30" x2="580.37" y2="286.30" stroke="#111" stroke-width="1.5"/><line x1="630.76" y1="291.30" x2="630.76" y2="286.30" stroke="#111" stroke-width="1.5"/><line x1="681.14" y1="291.30" x2="681.14" y2="286.30" stroke="#111" stroke-width="1.5"/><line x1="731.53" y1="291.30" x2="731.53" y2="286.30" stroke="#111" stroke-width="1.5"/><line x1="781.91" y1="291.30" x2="781.91" y2="286.30" stroke="#111" stroke-width="1.5"/><line x1="832.30" y1="291.30" x2="832.30" y2="286.30" stroke="#111" stroke-width="1.5"/><line x1="504.79" y1="291.30" x2="504.79" y2="288.30" stroke="#111" stroke-width="1.5"/><line x1="555.18" y1="291.30" x2="555.18" y2="288.30" stroke="#111" stroke-width="1.5"/><line x1="605.56" y1="291.30" x2="605.56" y2="288.30" stroke="#111" stroke-width="1.5"/><line x1="655.95" y1="291.30" x2="655.95" y2="288.30" stroke="#111" stroke-width="1.5"/><line x1="706.34" y1="291.30" x2="706.34" y2="288.30" stroke="#111" stroke-width="1.5"/><line x1="756.72" y1="291.30" x2="756.72" y2="288.30" stroke="#111" stroke-width="1.5"/><line x1="807.11" y1="291.30" x2="807.11" y2="288.30" stroke="#111" stroke-width="1.5"/><text x="479.60" y="306.80" text-anchor="middle" font-size="11.5" style="font-family:'Liberation Sans',sans-serif;font-weight:bold;stroke:#000;stroke-width:0.3px">0</text><text x="529.99" y="306.80" text-anchor="middle" font-size="11.5" style="font-family:'Liberation Sans',sans-serif;font-weight:bold;stroke:#000;stroke-width:0.3px">50</text><text x="580.37" y="306.80" text-anchor="middle" font-size="11.5" style="font-family:'Liberation Sans',sans-serif;font-weight:bold;stroke:#000;stroke-width:0.3px">100</text><text x="630.76" y="306.80" text-anchor="middle" font-size="11.5" style="font-family:'Liberation Sans',sans-serif;font-weight:bold;stroke:#000;stroke-width:0.3px">150</text><text x="681.14" y="306.80" text-anchor="middle" font-size="11.5" style="font-family:'Liberation Sans',sans-serif;font-weight:bold;stroke:#000;stroke-width:0.3px">200</text><text x="731.53" y="306.80" text-anchor="middle" font-size="11.5" style="font-family:'Liberation Sans',sans-serif;font-weight:bold;stroke:#000;stroke-width:0.3px">250</text><text x="781.91" y="306.80" text-anchor="middle" font-size="11.5" style="font-family:'Liberation Sans',sans-serif;font-weight:bold;stroke:#000;stroke-width:0.3px">300</text><text x="832.30" y="306.80" text-anchor="middle" font-size="11.5" style="font-family:'Liberation Sans',sans-serif;font-weight:bold;stroke:#000;stroke-width:0.3px">350</text><text x="473.00" y="294.70" text-anchor="end" font-size="11.5" style="font-family:'Liberation Sans',sans-serif;font-weight:bold;stroke:#000;stroke-width:0.3px">0.0</text><text x="473.00" y="247.38" text-anchor="end" font-size="11.5" style="font-family:'Liberation Sans',sans-serif;font-weight:bold;stroke:#000;stroke-width:0.3px">0.1</text><text x="473.00" y="200.07" text-anchor="end" font-size="11.5" style="font-family:'Liberation Sans',sans-serif;font-weight:bold;stroke:#000;stroke-width:0.3px">0.2</text><text x="473.00" y="152.75" text-anchor="end" font-size="11.5" style="font-family:'Liberation Sans',sans-serif;font-weight:bold;stroke:#000;stroke-width:0.3px">0.3</text><text x="473.00" y="105.43" text-anchor="end" font-size="11.5" style="font-family:'Liberation Sans',sans-serif;font-weight:bold;stroke:#000;stroke-width:0.3px">0.4</text><text x="473.00" y="58.12" text-anchor="end" font-size="11.5" style="font-family:'Liberation Sans',sans-serif;font-weight:bold;stroke:#000;stroke-width:0.3px">0.5</text><text x="473.00" y="10.80" text-anchor="end" font-size="11.5" style="font-family:'Liberation Sans',sans-serif;font-weight:bold;stroke:#000;stroke-width:0.3px">0.6</text><text x="656.00" y="330.60" text-anchor="middle" font-size="14.4" style="font-family:'Liberation Sans',sans-serif;font-weight:bold;stroke:#000;stroke-width:0.3px">Residues</text><text transform="translate(439.60,145.20) rotate(-90)" text-anchor="middle" font-size="14.4" style="font-family:'Liberation Sans',sans-serif;font-weight:bold;stroke:#000;stroke-width:0.3px">RMSF (nm)</text><text x="497.60" y="38.60" font-size="22" style="font-family:'Liberation Serif',serif;font-weight:bold">b)</text><rect x="479.60" y="7.40" width="352.70" height="283.90" fill="none" stroke="#111" stroke-width="1.7"/><path d="M486.25 192.3 L488.20 237.0 L490.40 253.3 L491.40 256.7 L493.40 256.3 L495.60 259.3 L497.60 245.9 L499.30 244.4 L501.60 247.3 L503.80 254.8 L506.00 240.0 L507.50 190.8 L509.00 232.5 L512.20 219.2 L515.30 223.3 L519.10 242.0 L521.60 233.8 L524.70 229.6 L527.80 215.0 L528.50 212.6 L530.70 232.7 L533.60 248.3 L535.80 250.5 L538.00 228.2 L540.30 209.2 L542.50 223.8 L544.70 250.5 L546.30 255.0 L548.50 246.0 L550.80 234.9 L553.20 228.2 L555.90 237.1 L558.10 250.5 L560.40 257.2 L563.30 259.5 L565.90 257.2 L568.20 260.6 L570.40 255.0 L572.60 266.2 L575.00 259.5 L577.30 257.2 L580.70 243.8 L582.90 205.9 L585.20 169.1 L586.70 176.9 L588.50 214.8 L590.70 250.5 L593.00 263.9 L595.20 257.2 L598.60 252.8 L600.80 237.1 L602.60 219.3 L604.10 243.8 L605.70 223.8 L607.00 203.7 L608.60 223.8 L609.70 241.6 L612.00 250.5 L614.20 259.5 L616.40 263.9 L619.80 263.9 L621.00 268.5 L624.50 267.3 L627.80 266.2 L631.20 266.2 L633.40 261.7 L636.70 260.6 L640.10 257.2 L642.30 256.1 L644.60 255.0 L647.20 250.5 L649.00 257.2 L651.25 263.9 L653.50 259.5 L655.70 262.8 L657.90 260.6 L660.20 263.9 L662.40 263.9 L664.60 248.3 L666.90 232.7 L668.20 250.5 L670.50 258.3 L673.10 255.0 L676.00 257.2 L678.30 261.7 L681.60 266.2 L685.00 261.7 L688.30 248.3 L690.60 261.7 L692.80 266.2 L696.10 270.6 L699.50 268.4 L702.80 261.7 L706.20 252.8 L709.50 237.1 L712.20 245.0 L715.30 241.6 L718.25 234.9 L719.80 250.5 L722.00 257.2 L724.30 261.7 L726.50 257.2 L728.70 252.8 L731.00 258.3 L733.20 259.5 L735.40 255.0 L737.70 258.3 L739.90 250.5 L742.10 246.0 L744.40 241.6 L746.60 230.4 L748.80 223.8 L750.40 234.9 L752.20 241.6 L754.40 237.1 L756.60 241.6 L758.90 243.8 L760.40 243.8 L762.30 251.0 L764.00 231.9 L765.60 220.0 L767.50 215.2 L769.40 181.9 L771.10 201.0 L772.80 208.1 L774.20 220.0 L775.90 248.6 L778.20 262.9 L780.60 265.2 L783.00 260.5 L785.40 262.9 L787.80 266.4 L790.00 267.8 L792.20 261.8 L794.50 266.3 L796.70 260.4 L798.90 261.8 L801.20 260.4 L803.40 263.3 L805.60 266.3 L807.60 257.4 L809.30 255.9 L811.60 238.0 L813.10 230.6" fill="none" stroke="#ff00ff" stroke-width="1.7" stroke-linejoin="round" stroke-miterlimit="2"/>
<path d="M486.25 193.8 L487.40 184.1 L488.60 256.3 L489.70 234.0 L490.70 257.8 L491.90 247.4 L493.10 240.0 L494.10 250.4 L494.90 257.8 L496.40 241.4 L497.60 228.0 L498.60 238.5 L500.80 189.3 L502.30 214.6 L504.10 237.0 L505.60 222.1 L506.60 210.8 L508.70 229.6 L510.10 208.8 L511.60 229.6 L512.80 204.6 L514.30 242.0 L516.40 198.3 L518.50 229.6 L519.90 211.9 L521.60 223.3 L523.00 204.6 L525.10 227.5 L526.40 165.0 L527.80 206.7 L529.10 161.9 L529.80 208.0 L531.30 232.7 L532.90 243.8 L534.70 230.4 L536.50 246.0 L538.00 214.8 L540.30 185.8 L541.80 192.5 L544.10 214.8 L545.90 252.8 L548.10 237.1 L550.30 210.4 L552.60 201.4 L554.80 191.4 L557.00 201.4 L559.25 228.2 L561.50 232.7 L563.30 255.0 L565.50 227.1 L567.10 253.9 L569.30 219.3 L571.50 255.0 L573.80 261.7 L576.20 223.8 L578.00 239.4 L580.25 241.6 L581.80 190.3 L583.40 197.0 L585.20 144.5 L586.70 179.1 L587.80 194.7 L589.60 230.4 L591.90 251.7 L594.10 237.1 L596.30 226.0 L598.10 234.9 L600.30 197.0 L602.30 167.9 L604.10 208.1 L605.90 230.4 L607.50 228.2 L609.70 241.6 L612.00 239.4 L614.20 257.2 L616.40 259.5 L618.60 255.0 L620.90 263.9 L623.30 252.8 L624.90 261.7 L627.10 252.8 L628.90 263.9 L630.70 245.0 L632.30 261.7 L633.80 250.5 L635.60 259.5 L637.90 257.2 L640.50 232.7 L642.30 250.5 L644.10 246.0 L646.80 202.5 L648.60 223.8 L650.40 217.0 L651.70 255.0 L653.00 228.2 L654.60 257.2 L656.80 232.7 L659.10 257.2 L660.80 234.9 L662.90 259.5 L664.60 232.7 L666.90 203.7 L667.80 203.7 L669.30 250.5 L670.90 226.0 L672.25 200.3 L674.00 252.8 L676.30 219.3 L678.30 255.0 L679.80 248.3 L681.60 261.7 L683.40 255.0 L685.00 241.6 L686.50 243.8 L688.30 223.8 L690.10 246.0 L691.70 263.9 L693.20 250.5 L694.60 263.9 L696.10 257.2 L697.70 266.2 L699.50 257.2 L701.30 263.9 L702.80 255.0 L704.40 257.2 L706.20 232.7 L708.00 237.1 L709.50 217.0 L711.30 201.4 L712.90 228.2 L713.80 255.0 L715.60 223.8 L716.90 219.3 L718.70 234.9 L720.50 198.1 L722.00 243.8 L723.60 241.6 L725.40 261.7 L727.20 246.0 L728.70 223.8 L730.30 255.0 L732.10 246.0 L733.90 234.9 L735.40 250.5 L737.00 232.7 L738.80 250.5 L740.60 223.8 L742.10 228.2 L743.70 185.8 L745.00 214.8 L746.20 178.0 L747.70 214.8 L749.50 186.9 L751.10 221.5 L752.60 219.3 L754.40 237.1 L756.20 185.8 L757.80 232.7 L759.30 219.3 L760.40 236.7 L762.30 243.8 L764.00 180.7 L765.60 215.2 L767.50 170.0 L768.70 162.9 L769.90 136.7 L771.10 162.9 L772.80 143.8 L774.20 179.5 L775.90 239.0 L777.50 241.4 L779.00 258.1 L780.60 243.8 L781.80 260.5 L783.70 248.6 L785.40 239.0 L786.60 258.1 L788.50 234.3 L790.10 253.3 L791.80 233.6 L793.00 260.4 L794.50 244.0 L796.00 261.8 L797.70 244.0 L799.20 257.4 L800.70 254.4 L801.90 260.4 L803.40 255.9 L804.90 263.3 L806.10 264.8 L807.10 215.7 L808.60 245.5 L810.10 204.6 L811.60 232.1 L813.50 213.5" fill="none" stroke="#008000" stroke-width="1.75" stroke-linejoin="round" stroke-miterlimit="2"/><line x1="46.40" y1="622.00" x2="46.40" y2="617.00" stroke="#111" stroke-width="1.5"/><line x1="115.46" y1="622.00" x2="115.46" y2="617.00" stroke="#111" stroke-width="1.5"/><line x1="184.52" y1="622.00" x2="184.52" y2="617.00" stroke="#111" stroke-width="1.5"/><line x1="253.58" y1="622.00" x2="253.58" y2="617.00" stroke="#111" stroke-width="1.5"/><line x1="322.64" y1="622.00" x2="322.64" y2="617.00" stroke="#111" stroke-width="1.5"/><line x1="391.70" y1="622.00" x2="391.70" y2="617.00" stroke="#111" stroke-width="1.5"/><line x1="80.93" y1="622.00" x2="80.93" y2="619.00" stroke="#111" stroke-width="1.5"/><line x1="149.99" y1="622.00" x2="149.99" y2="619.00" stroke="#111" stroke-width="1.5"/><line x1="219.05" y1="622.00" x2="219.05" y2="619.00" stroke="#111" stroke-width="1.5"/><line x1="288.11" y1="622.00" x2="288.11" y2="619.00" stroke="#111" stroke-width="1.5"/><line x1="357.17" y1="622.00" x2="357.17" y2="619.00" stroke="#111" stroke-width="1.5"/><line x1="46.40" y1="622.00" x2="51.40" y2="622.00" stroke="#111" stroke-width="1.5"/><line x1="46.40" y1="582.16" x2="51.40" y2="582.16" stroke="#111" stroke-width="1.5"/><line x1="46.40" y1="542.31" x2="51.40" y2="542.31" stroke="#111" stroke-width="1.5"/><line x1="46.40" y1="502.47" x2="51.40" y2="502.47" stroke="#111" stroke-width="1.5"/><line x1="46.40" y1="462.63" x2="51.40" y2="462.63" stroke="#111" stroke-width="1.5"/><line x1="46.40" y1="422.79" x2="51.40" y2="422.79" stroke="#111" stroke-width="1.5"/><line x1="46.40" y1="382.94" x2="51.40" y2="382.94" stroke="#111" stroke-width="1.5"/><line x1="46.40" y1="343.10" x2="51.40" y2="343.10" stroke="#111" stroke-width="1.5"/><line x1="46.40" y1="602.08" x2="49.40" y2="602.08" stroke="#111" stroke-width="1.5"/><line x1="46.40" y1="562.24" x2="49.40" y2="562.24" stroke="#111" stroke-width="1.5"/><line x1="46.40" y1="522.39" x2="49.40" y2="522.39" stroke="#111" stroke-width="1.5"/><line x1="46.40" y1="482.55" x2="49.40" y2="482.55" stroke="#111" stroke-width="1.5"/><line x1="46.40" y1="442.71" x2="49.40" y2="442.71" stroke="#111" stroke-width="1.5"/><line x1="46.40" y1="402.86" x2="49.40" y2="402.86" stroke="#111" stroke-width="1.5"/><line x1="46.40" y1="363.02" x2="49.40" y2="363.02" stroke="#111" stroke-width="1.5"/><text x="46.40" y="636.60" text-anchor="middle" font-size="11.5" style="font-family:'Liberation Sans',sans-serif;font-weight:bold;stroke:#000;stroke-width:0.3px">0</text><text x="115.46" y="636.60" text-anchor="middle" font-size="11.5" style="font-family:'Liberation Sans',sans-serif;font-weight:bold;stroke:#000;stroke-width:0.3px">20000</text><text x="184.52" y="636.60" text-anchor="middle" font-size="11.5" style="font-family:'Liberation Sans',sans-serif;font-weight:bold;stroke:#000;stroke-width:0.3px">40000</text><text x="253.58" y="636.60" text-anchor="middle" font-size="11.5" style="font-family:'Liberation Sans',sans-serif;font-weight:bold;stroke:#000;stroke-width:0.3px">60000</text><text x="322.64" y="636.60" text-anchor="middle" font-size="11.5" style="font-family:'Liberation Sans',sans-serif;font-weight:bold;stroke:#000;stroke-width:0.3px">80000</text><text x="391.70" y="636.60" text-anchor="middle" font-size="11.5" style="font-family:'Liberation Sans',sans-serif;font-weight:bold;stroke:#000;stroke-width:0.3px">100000</text><text x="40.00" y="625.40" text-anchor="end" font-size="11.5" style="font-family:'Liberation Sans',sans-serif;font-weight:bold;stroke:#000;stroke-width:0.3px">0</text><text x="40.00" y="585.56" text-anchor="end" font-size="11.5" style="font-family:'Liberation Sans',sans-serif;font-weight:bold;stroke:#000;stroke-width:0.3px">1</text><text x="40.00" y="545.71" text-anchor="end" font-size="11.5" style="font-family:'Liberation Sans',sans-serif;font-weight:bold;stroke:#000;stroke-width:0.3px">2</text><text x="40.00" y="505.87" text-anchor="end" font-size="11.5" style="font-family:'Liberation Sans',sans-serif;font-weight:bold;stroke:#000;stroke-width:0.3px">3</text><text x="40.00" y="466.03" text-anchor="end" font-size="11.5" style="font-family:'Liberation Sans',sans-serif;font-weight:bold;stroke:#000;stroke-width:0.3px">4</text><text x="40.00" y="426.19" text-anchor="end" font-size="11.5" style="font-family:'Liberation Sans',sans-serif;font-weight:bold;stroke:#000;stroke-width:0.3px">5</text><text x="40.00" y="386.34" text-anchor="end" font-size="11.5" style="font-family:'Liberation Sans',sans-serif;font-weight:bold;stroke:#000;stroke-width:0.3px">6</text><text x="40.00" y="346.50" text-anchor="end" font-size="11.5" style="font-family:'Liberation Sans',sans-serif;font-weight:bold;stroke:#000;stroke-width:0.3px">7</text><text x="219.20" y="659.40" text-anchor="middle" font-size="14.4" style="font-family:'Liberation Sans',sans-serif;font-weight:bold;stroke:#000;stroke-width:0.3px">Time (ps)</text><text transform="translate(19.20,474.10) rotate(-90)" text-anchor="middle" font-size="14.4" style="font-family:'Liberation Sans',sans-serif;font-weight:bold;stroke:#000;stroke-width:0.3px">Number of H_bonds</text><text x="61.50" y="363.50" font-size="22" style="font-family:'Liberation Serif',serif;font-weight:bold">c)</text><rect x="46.40" y="343.10" width="345.30" height="278.90" fill="none" stroke="#111" stroke-width="1.7"/><g shape-rendering="crispEdges"><rect x="46.40" y="581.66" width="1.00" height="40.34" fill="#ff00ff"/>
<rect x="47.40" y="581.66" width="1.00" height="40.34" fill="#ff00ff"/>
<rect x="48.40" y="581.66" width="1.00" height="40.34" fill="#ff00ff"/>
<rect x="49.40" y="581.66" width="1.00" height="40.34" fill="#ff00ff"/>
<rect x="50.40" y="581.66" width="1.00" height="40.34" fill="#ff00ff"/>
<rect x="51.40" y="581.66" width="1.00" height="40.34" fill="#ff00ff"/>
<rect x="52.40" y="581.66" width="1.00" height="40.34" fill="#ff00ff"/>
<rect x="53.40" y="581.66" width="1.00" height="40.34" fill="#ff00ff"/>
<rect x="54.40" y="581.66" width="1.00" height="40.34" fill="#ff00ff"/>
<rect x="55.40" y="581.66" width="1.00" height="40.34" fill="#ff00ff"/>
<rect x="56.40" y="581.66" width="1.00" height="40.34" fill="#ff00ff"/>
<rect x="57.40" y="581.66" width="1.00" height="40.34" fill="#ff00ff"/>
<rect x="58.40" y="581.66" width="1.00" height="40.34" fill="#ff00ff"/>
<rect x="59.40" y="541.81" width="1.00" height="80.19" fill="#ff00ff"/>
<rect x="60.40" y="541.81" width="1.00" height="80.19" fill="#ff00ff"/>
<rect x="61.40" y="541.81" width="1.00" height="80.19" fill="#ff00ff"/>
<rect x="62.40" y="541.81" width="1.00" height="80.19" fill="#ff00ff"/>
<rect x="63.40" y="541.81" width="1.00" height="80.19" fill="#ff00ff"/>
<rect x="64.40" y="541.81" width="1.00" height="80.19" fill="#ff00ff"/>
<rect x="65.40" y="541.81" width="1.00" height="80.19" fill="#ff00ff"/>
<rect x="66.40" y="541.81" width="1.00" height="80.19" fill="#ff00ff"/>
<rect x="67.40" y="541.81" width="1.00" height="80.19" fill="#ff00ff"/>
<rect x="68.40" y="541.81" width="1.00" height="80.19" fill="#ff00ff"/>
<rect x="69.40" y="541.81" width="1.00" height="80.19" fill="#ff00ff"/>
<rect x="70.40" y="541.81" width="1.00" height="80.19" fill="#ff00ff"/>
<rect x="71.40" y="541.81" width="1.00" height="80.19" fill="#ff00ff"/>
<rect x="72.40" y="541.81" width="1.00" height="80.19" fill="#ff00ff"/>
<rect x="73.40" y="541.81" width="1.00" height="80.19" fill="#ff00ff"/>
<rect x="74.40" y="541.81" width="1.00" height="80.19" fill="#ff00ff"/>
<rect x="75.40" y="541.81" width="1.00" height="80.19" fill="#ff00ff"/>
<rect x="76.40" y="541.81" width="1.00" height="80.19" fill="#ff00ff"/>
<rect x="77.40" y="541.81" width="1.00" height="80.19" fill="#ff00ff"/>
<rect x="78.40" y="541.81" width="1.00" height="80.19" fill="#ff00ff"/>
<rect x="79.40" y="541.81" width="1.00" height="80.19" fill="#ff00ff"/>
<rect x="80.40" y="541.81" width="1.00" height="80.19" fill="#ff00ff"/>
<rect x="81.40" y="541.81" width="1.00" height="80.19" fill="#ff00ff"/>
<rect x="82.40" y="541.81" width="1.00" height="80.19" fill="#ff00ff"/>
<rect x="83.40" y="541.81" width="1.00" height="80.19" fill="#ff00ff"/>
<rect x="84.40" y="541.81" width="1.00" height="80.19" fill="#ff00ff"/>
<rect x="85.40" y="541.81" width="1.00" height="80.19" fill="#ff00ff"/>
<rect x="86.40" y="541.81" width="1.00" height="80.19" fill="#ff00ff"/>
<rect x="87.40" y="541.81" width="1.00" height="80.19" fill="#ff00ff"/>
<rect x="88.40" y="541.81" width="1.00" height="80.19" fill="#ff00ff"/>
<rect x="89.40" y="541.81" width="1.00" height="80.19" fill="#ff00ff"/>
<rect x="90.40" y="541.81" width="1.00" height="80.19" fill="#ff00ff"/>
<rect x="91.40" y="541.81" width="1.00" height="80.19" fill="#ff00ff"/>
<rect x="92.40" y="541.81" width="1.00" height="80.19" fill="#ff00ff"/>
<rect x="93.40" y="541.81" width="1.00" height="80.19" fill="#ff00ff"/>
<rect x="94.40" y="541.81" width="1.00" height="80.19" fill="#ff00ff"/>
<rect x="95.40" y="541.81" width="1.00" height="80.19" fill="#ff00ff"/>
<rect x="96.40" y="541.81" width="1.00" height="80.19" fill="#ff00ff"/>
<rect x="97.40" y="541.81" width="1.00" height="80.19" fill="#ff00ff"/>
<rect x="98.40" y="541.81" width="1.00" height="80.19" fill="#ff00ff"/>
<rect x="99.40" y="541.81" width="1.00" height="80.19" fill="#ff00ff"/>
<rect x="100.40" y="501.97" width="1.00" height="120.03" fill="#ff00ff"/>
<rect x="101.40" y="501.97" width="1.00" height="120.03" fill="#ff00ff"/>
<rect x="102.40" y="501.97" width="1.00" height="120.03" fill="#ff00ff"/>
<rect x="103.40" y="501.97" width="1.00" height="120.03" fill="#ff00ff"/>
<rect x="104.40" y="501.97" width="1.00" height="120.03" fill="#ff00ff"/>
<rect x="105.40" y="501.97" width="1.00" height="120.03" fill="#ff00ff"/>
<rect x="106.40" y="501.97" width="1.00" height="120.03" fill="#ff00ff"/>
<rect x="107.40" y="501.97" width="1.00" height="120.03" fill="#ff00ff"/>
<rect x="108.40" y="501.97" width="1.00" height="120.03" fill="#ff00ff"/>
<rect x="109.40" y="501.97" width="1.00" height="120.03" fill="#ff00ff"/>
<rect x="110.40" y="541.81" width="1.00" height="80.19" fill="#ff00ff"/>
<rect x="111.40" y="501.97" width="1.00" height="120.03" fill="#ff00ff"/>
<rect x="112.40" y="501.97" width="1.00" height="120.03" fill="#ff00ff"/>
<rect x="113.40" y="501.97" width="1.00" height="120.03" fill="#ff00ff"/>
<rect x="114.40" y="501.97" width="1.00" height="120.03" fill="#ff00ff"/>
<rect x="115.40" y="501.97" width="1.00" height="120.03" fill="#ff00ff"/>
<rect x="116.40" y="501.97" width="1.00" height="120.03" fill="#ff00ff"/>
<rect x="117.40" y="501.97" width="1.00" height="120.03" fill="#ff00ff"/>
<rect x="118.40" y="501.97" width="1.00" height="120.03" fill="#ff00ff"/>
<rect x="119.40" y="541.81" width="1.00" height="80.19" fill="#ff00ff"/>
<rect x="120.40" y="541.81" width="1.00" height="80.19" fill="#ff00ff"/>
<rect x="121.40" y="541.81" width="1.00" height="80.19" fill="#ff00ff"/>
<rect x="122.40" y="541.81" width="1.00" height="80.19" fill="#ff00ff"/>
<rect x="123.40" y="501.97" width="1.00" height="120.03" fill="#ff00ff"/>
<rect x="124.40" y="501.97" width="1.00" height="120.03" fill="#ff00ff"/>
<rect x="125.40" y="501.97" width="1.00" height="120.03" fill="#ff00ff"/>
<rect x="126.40" y="501.97" width="1.00" height="120.03" fill="#ff00ff"/>
<rect x="127.40" y="501.97" width="1.00" height="120.03" fill="#ff00ff"/>
<rect x="128.40" y="501.97" width="1.00" height="120.03" fill="#ff00ff"/>
<rect x="129.40" y="501.97" width="1.00" height="120.03" fill="#ff00ff"/>
<rect x="130.40" y="501.97" width="1.00" height="120.03" fill="#ff00ff"/>
<rect x="131.40" y="501.97" width="1.00" height="120.03" fill="#ff00ff"/>
<rect x="132.40" y="501.97" width="1.00" height="120.03" fill="#ff00ff"/>
<rect x="133.40" y="501.97" width="1.00" height="120.03" fill="#ff00ff"/>
<rect x="134.40" y="541.81" width="1.00" height="80.19" fill="#ff00ff"/>
<rect x="135.40" y="501.97" width="1.00" height="120.03" fill="#ff00ff"/>
<rect x="136.40" y="501.97" width="1.00" height="120.03" fill="#ff00ff"/>
<rect x="137.40" y="501.97" width="1.00" height="120.03" fill="#ff00ff"/>
<rect x="138.40" y="501.97" width="1.00" height="120.03" fill="#ff00ff"/>
<rect x="139.40" y="501.97" width="1.00" height="120.03" fill="#ff00ff"/>
<rect x="140.40" y="501.97" width="1.00" height="120.03" fill="#ff00ff"/>
<rect x="141.40" y="501.97" width="1.00" height="120.03" fill="#ff00ff"/>
<rect x="142.40" y="541.81" width="1.00" height="80.19" fill="#ff00ff"/>
<rect x="143.40" y="501.97" width="1.00" height="120.03" fill="#ff00ff"/>
<rect x="144.40" y="501.97" width="1.00" height="120.03" fill="#ff00ff"/>
<rect x="145.40" y="501.97" width="1.00" height="120.03" fill="#ff00ff"/>
<rect x="146.40" y="501.97" width="1.00" height="120.03" fill="#ff00ff"/>
<rect x="147.40" y="501.97" width="1.00" height="120.03" fill="#ff00ff"/>
<rect x="148.40" y="501.97" width="1.00" height="120.03" fill="#ff00ff"/>
<rect x="149.40" y="501.97" width="1.00" height="120.03" fill="#ff00ff"/>
<rect x="150.40" y="501.97" width="1.00" height="120.03" fill="#ff00ff"/>
<rect x="151.40" y="501.97" width="1.00" height="120.03" fill="#ff00ff"/>
<rect x="152.40" y="501.97" width="1.00" height="120.03" fill="#ff00ff"/>
<rect x="153.40" y="501.97" width="1.00" height="120.03" fill="#ff00ff"/>
<rect x="154.40" y="501.97" width="1.00" height="120.03" fill="#ff00ff"/>
<rect x="155.40" y="501.97" width="1.00" height="120.03" fill="#ff00ff"/>
<rect x="156.40" y="501.97" width="1.00" height="120.03" fill="#ff00ff"/>
<rect x="157.40" y="501.97" width="1.00" height="120.03" fill="#ff00ff"/>
<rect x="158.40" y="501.97" width="1.00" height="120.03" fill="#ff00ff"/>
<rect x="159.40" y="501.97" width="1.00" height="120.03" fill="#ff00ff"/>
<rect x="160.40" y="501.97" width="1.00" height="120.03" fill="#ff00ff"/>
<rect x="161.40" y="501.97" width="1.00" height="120.03" fill="#ff00ff"/>
<rect x="162.40" y="541.81" width="1.00" height="80.19" fill="#ff00ff"/>
<rect x="163.40" y="541.81" width="1.00" height="80.19" fill="#ff00ff"/>
<rect x="164.40" y="541.81" width="1.00" height="80.19" fill="#ff00ff"/>
<rect x="165.40" y="541.81" width="1.00" height="80.19" fill="#ff00ff"/>
<rect x="166.40" y="541.81" width="1.00" height="80.19" fill="#ff00ff"/>
<rect x="167.40" y="501.97" width="1.00" height="120.03" fill="#ff00ff"/>
<rect x="168.40" y="501.97" width="1.00" height="120.03" fill="#ff00ff"/>
<rect x="169.40" y="501.97" width="1.00" height="120.03" fill="#ff00ff"/>
<rect x="170.40" y="541.81" width="1.00" height="80.19" fill="#ff00ff"/>
<rect x="171.40" y="541.81" width="1.00" height="80.19" fill="#ff00ff"/>
<rect x="172.40" y="541.81" width="1.00" height="80.19" fill="#ff00ff"/>
<rect x="173.40" y="541.81" width="1.00" height="80.19" fill="#ff00ff"/>
<rect x="174.40" y="541.81" width="1.00" height="80.19" fill="#ff00ff"/>
<rect x="175.40" y="541.81" width="1.00" height="80.19" fill="#ff00ff"/>
<rect x="176.40" y="541.81" width="1.00" height="80.19" fill="#ff00ff"/>
<rect x="177.40" y="541.81" width="1.00" height="80.19" fill="#ff00ff"/>
<rect x="178.40" y="541.81" width="1.00" height="80.19" fill="#ff00ff"/>
<rect x="179.40" y="541.81" width="1.00" height="80.19" fill="#ff00ff"/>
<rect x="180.40" y="541.81" width="1.00" height="80.19" fill="#ff00ff"/>
<rect x="181.40" y="501.97" width="1.00" height="120.03" fill="#ff00ff"/>
<rect x="182.40" y="501.97" width="1.00" height="120.03" fill="#ff00ff"/>
<rect x="183.40" y="541.81" width="1.00" height="80.19" fill="#ff00ff"/>
<rect x="184.40" y="541.81" width="1.00" height="80.19" fill="#ff00ff"/>
<rect x="185.40" y="541.81" width="1.00" height="80.19" fill="#ff00ff"/>
<rect x="186.40" y="541.81" width="1.00" height="80.19" fill="#ff00ff"/>
<rect x="187.40" y="541.81" width="1.00" height="80.19" fill="#ff00ff"/>
<rect x="188.40" y="541.81" width="1.00" height="80.19" fill="#ff00ff"/>
<rect x="189.40" y="541.81" width="1.00" height="80.19" fill="#ff00ff"/>
<rect x="190.40" y="541.81" width="1.00" height="80.19" fill="#ff00ff"/>
<rect x="191.40" y="541.81" width="1.00" height="80.19" fill="#ff00ff"/>
<rect x="192.40" y="541.81" width="1.00" height="80.19" fill="#ff00ff"/>
<rect x="193.40" y="541.81" width="1.00" height="80.19" fill="#ff00ff"/>
<rect x="194.40" y="541.81" width="1.00" height="80.19" fill="#ff00ff"/>
<rect x="195.40" y="541.81" width="1.00" height="80.19" fill="#ff00ff"/>
<rect x="196.40" y="541.81" width="1.00" height="80.19" fill="#ff00ff"/>
<rect x="197.40" y="541.81" width="1.00" height="80.19" fill="#ff00ff"/>
<rect x="198.40" y="541.81" width="1.00" height="80.19" fill="#ff00ff"/>
<rect x="199.40" y="541.81" width="1.00" height="80.19" fill="#ff00ff"/>
<rect x="200.40" y="541.81" width="1.00" height="80.19" fill="#ff00ff"/>
<rect x="201.40" y="541.81" width="1.00" height="80.19" fill="#ff00ff"/>
<rect x="202.40" y="541.81" width="1.00" height="80.19" fill="#ff00ff"/>
<rect x="203.40" y="541.81" width="1.00" height="80.19" fill="#ff00ff"/>
<rect x="204.40" y="541.81" width="1.00" height="80.19" fill="#ff00ff"/>
<rect x="205.40" y="541.81" width="1.00" height="80.19" fill="#ff00ff"/>
<rect x="206.40" y="541.81" width="1.00" height="80.19" fill="#ff00ff"/>
<rect x="207.40" y="541.81" width="1.00" height="80.19" fill="#ff00ff"/>
<rect x="208.40" y="541.81" width="1.00" height="80.19" fill="#ff00ff"/>
<rect x="209.40" y="501.97" width="1.00" height="120.03" fill="#ff00ff"/>
<rect x="210.40" y="501.97" width="1.00" height="120.03" fill="#ff00ff"/>
<rect x="211.40" y="501.97" width="1.00" height="120.03" fill="#ff00ff"/>
<rect x="212.40" y="501.97" width="1.00" height="120.03" fill="#ff00ff"/>
<rect x="213.40" y="541.81" width="1.00" height="80.19" fill="#ff00ff"/>
<rect x="214.40" y="541.81" width="1.00" height="80.19" fill="#ff00ff"/>
<rect x="215.40" y="541.81" width="1.00" height="80.19" fill="#ff00ff"/>
<rect x="216.40" y="541.81" width="1.00" height="80.19" fill="#ff00ff"/>
<rect x="217.40" y="541.81" width="1.00" height="80.19" fill="#ff00ff"/>
<rect x="218.40" y="541.81" width="1.00" height="80.19" fill="#ff00ff"/>
<rect x="219.40" y="541.81" width="1.00" height="80.19" fill="#ff00ff"/>
<rect x="220.40" y="541.81" width="1.00" height="80.19" fill="#ff00ff"/>
<rect x="221.40" y="541.81" width="1.00" height="80.19" fill="#ff00ff"/>
<rect x="222.40" y="541.81" width="1.00" height="80.19" fill="#ff00ff"/>
<rect x="223.40" y="541.81" width="1.00" height="80.19" fill="#ff00ff"/>
<rect x="224.40" y="541.81" width="1.00" height="80.19" fill="#ff00ff"/>
<rect x="225.40" y="541.81" width="1.00" height="80.19" fill="#ff00ff"/>
<rect x="226.40" y="541.81" width="1.00" height="80.19" fill="#ff00ff"/>
<rect x="227.40" y="541.81" width="1.00" height="80.19" fill="#ff00ff"/>
<rect x="228.40" y="541.81" width="1.00" height="80.19" fill="#ff00ff"/>
<rect x="229.40" y="541.81" width="1.00" height="80.19" fill="#ff00ff"/>
<rect x="230.40" y="541.81" width="1.00" height="80.19" fill="#ff00ff"/>
<rect x="231.40" y="541.81" width="1.00" height="80.19" fill="#ff00ff"/>
<rect x="232.40" y="541.81" width="1.00" height="80.19" fill="#ff00ff"/>
<rect x="233.40" y="541.81" width="1.00" height="80.19" fill="#ff00ff"/>
<rect x="234.40" y="541.81" width="1.00" height="80.19" fill="#ff00ff"/>
<rect x="235.40" y="541.81" width="1.00" height="80.19" fill="#ff00ff"/>
<rect x="236.40" y="541.81" width="1.00" height="80.19" fill="#ff00ff"/>
<rect x="237.40" y="462.13" width="1.00" height="159.87" fill="#ff00ff"/>
<rect x="238.40" y="462.13" width="1.00" height="159.87" fill="#ff00ff"/>
<rect x="239.40" y="462.13" width="1.00" height="159.87" fill="#ff00ff"/>
<rect x="240.40" y="462.13" width="1.00" height="159.87" fill="#ff00ff"/>
<rect x="241.40" y="462.13" width="1.00" height="159.87" fill="#ff00ff"/>
<rect x="242.40" y="462.13" width="1.00" height="159.87" fill="#ff00ff"/>
<rect x="243.40" y="462.13" width="1.00" height="159.87" fill="#ff00ff"/>
<rect x="244.40" y="462.13" width="1.00" height="159.87" fill="#ff00ff"/>
<rect x="245.40" y="541.81" width="1.00" height="80.19" fill="#ff00ff"/>
<rect x="246.40" y="541.81" width="1.00" height="80.19" fill="#ff00ff"/>
<rect x="247.40" y="541.81" width="1.00" height="80.19" fill="#ff00ff"/>
<rect x="248.40" y="541.81" width="1.00" height="80.19" fill="#ff00ff"/>
<rect x="249.40" y="541.81" width="1.00" height="80.19" fill="#ff00ff"/>
<rect x="250.40" y="541.81" width="1.00" height="80.19" fill="#ff00ff"/>
<rect x="251.40" y="541.81" width="1.00" height="80.19" fill="#ff00ff"/>
<rect x="252.40" y="541.81" width="1.00" height="80.19" fill="#ff00ff"/>
<rect x="253.40" y="541.81" width="1.00" height="80.19" fill="#ff00ff"/>
<rect x="254.40" y="541.81" width="1.00" height="80.19" fill="#ff00ff"/>
<rect x="255.40" y="541.81" width="1.00" height="80.19" fill="#ff00ff"/>
<rect x="256.40" y="541.81" width="1.00" height="80.19" fill="#ff00ff"/>
<rect x="257.40" y="541.81" width="1.00" height="80.19" fill="#ff00ff"/>
<rect x="258.40" y="541.81" width="1.00" height="80.19" fill="#ff00ff"/>
<rect x="259.40" y="541.81" width="1.00" height="80.19" fill="#ff00ff"/>
<rect x="260.40" y="541.81" width="1.00" height="80.19" fill="#ff00ff"/>
<rect x="261.40" y="541.81" width="1.00" height="80.19" fill="#ff00ff"/>
<rect x="262.40" y="541.81" width="1.00" height="80.19" fill="#ff00ff"/>
<rect x="263.40" y="541.81" width="1.00" height="80.19" fill="#ff00ff"/>
<rect x="264.40" y="541.81" width="1.00" height="80.19" fill="#ff00ff"/>
<rect x="265.40" y="541.81" width="1.00" height="80.19" fill="#ff00ff"/>
<rect x="266.40" y="541.81" width="1.00" height="80.19" fill="#ff00ff"/>
<rect x="267.40" y="541.81" width="1.00" height="80.19" fill="#ff00ff"/>
<rect x="268.40" y="541.81" width="1.00" height="80.19" fill="#ff00ff"/>
<rect x="269.40" y="541.81" width="1.00" height="80.19" fill="#ff00ff"/>
<rect x="270.40" y="541.81" width="1.00" height="80.19" fill="#ff00ff"/>
<rect x="271.40" y="541.81" width="1.00" height="80.19" fill="#ff00ff"/>
<rect x="272.40" y="541.81" width="1.00" height="80.19" fill="#ff00ff"/>
<rect x="273.40" y="541.81" width="1.00" height="80.19" fill="#ff00ff"/>
<rect x="274.40" y="541.81" width="1.00" height="80.19" fill="#ff00ff"/>
<rect x="275.40" y="541.81" width="1.00" height="80.19" fill="#ff00ff"/>
<rect x="276.40" y="541.81" width="1.00" height="80.19" fill="#ff00ff"/>
<rect x="277.40" y="541.81" width="1.00" height="80.19" fill="#ff00ff"/>
<rect x="278.40" y="541.81" width="1.00" height="80.19" fill="#ff00ff"/>
<rect x="279.40" y="541.81" width="1.00" height="80.19" fill="#ff00ff"/>
<rect x="280.40" y="541.81" width="1.00" height="80.19" fill="#ff00ff"/>
<rect x="281.40" y="541.81" width="1.00" height="80.19" fill="#ff00ff"/>
<rect x="282.40" y="541.81" width="1.00" height="80.19" fill="#ff00ff"/>
<rect x="283.40" y="541.81" width="1.00" height="80.19" fill="#ff00ff"/>
<rect x="284.40" y="541.81" width="1.00" height="80.19" fill="#ff00ff"/>
<rect x="285.40" y="541.81" width="1.00" height="80.19" fill="#ff00ff"/>
<rect x="286.40" y="541.81" width="1.00" height="80.19" fill="#ff00ff"/>
<rect x="287.40" y="541.81" width="1.00" height="80.19" fill="#ff00ff"/>
<rect x="288.40" y="541.81" width="1.00" height="80.19" fill="#ff00ff"/>
<rect x="289.40" y="541.81" width="1.00" height="80.19" fill="#ff00ff"/>
<rect x="290.40" y="541.81" width="1.00" height="80.19" fill="#ff00ff"/>
<rect x="291.40" y="541.81" width="1.00" height="80.19" fill="#ff00ff"/>
<rect x="292.40" y="581.66" width="1.00" height="40.34" fill="#ff00ff"/>
<rect x="293.40" y="581.66" width="1.00" height="40.34" fill="#ff00ff"/>
<rect x="294.40" y="581.66" width="1.00" height="40.34" fill="#ff00ff"/>
<rect x="295.40" y="581.66" width="1.00" height="40.34" fill="#ff00ff"/>
<rect x="296.40" y="581.66" width="1.00" height="40.34" fill="#ff00ff"/>
<rect x="297.40" y="581.66" width="1.00" height="40.34" fill="#ff00ff"/>
<rect x="298.40" y="581.66" width="1.00" height="40.34" fill="#ff00ff"/>
<rect x="299.40" y="581.66" width="1.00" height="40.34" fill="#ff00ff"/>
<rect x="300.40" y="581.66" width="1.00" height="40.34" fill="#ff00ff"/>
<rect x="301.40" y="581.66" width="1.00" height="40.34" fill="#ff00ff"/>
<rect x="302.40" y="581.66" width="1.00" height="40.34" fill="#ff00ff"/>
<rect x="303.40" y="541.81" width="1.00" height="80.19" fill="#ff00ff"/>
<rect x="304.40" y="541.81" width="1.00" height="80.19" fill="#ff00ff"/>
<rect x="305.40" y="541.81" width="1.00" height="80.19" fill="#ff00ff"/>
<rect x="306.40" y="541.81" width="1.00" height="80.19" fill="#ff00ff"/>
<rect x="307.40" y="541.81" width="1.00" height="80.19" fill="#ff00ff"/>
<rect x="308.40" y="541.81" width="1.00" height="80.19" fill="#ff00ff"/>
<rect x="309.40" y="541.81" width="1.00" height="80.19" fill="#ff00ff"/>
<rect x="310.40" y="541.81" width="1.00" height="80.19" fill="#ff00ff"/>
<rect x="311.40" y="541.81" width="1.00" height="80.19" fill="#ff00ff"/>
<rect x="312.40" y="541.81" width="1.00" height="80.19" fill="#ff00ff"/>
<rect x="313.40" y="541.81" width="1.00" height="80.19" fill="#ff00ff"/>
<rect x="314.40" y="541.81" width="1.00" height="80.19" fill="#ff00ff"/>
<rect x="315.40" y="541.81" width="1.00" height="80.19" fill="#ff00ff"/>
<rect x="316.40" y="541.81" width="1.00" height="80.19" fill="#ff00ff"/>
<rect x="317.40" y="541.81" width="1.00" height="80.19" fill="#ff00ff"/>
<rect x="318.40" y="541.81" width="1.00" height="80.19" fill="#ff00ff"/>
<rect x="319.40" y="541.81" width="1.00" height="80.19" fill="#ff00ff"/>
<rect x="320.40" y="541.81" width="1.00" height="80.19" fill="#ff00ff"/>
<rect x="321.40" y="541.81" width="1.00" height="80.19" fill="#ff00ff"/>
<rect x="322.40" y="541.81" width="1.00" height="80.19" fill="#ff00ff"/>
<rect x="323.40" y="541.81" width="1.00" height="80.19" fill="#ff00ff"/>
<rect x="324.40" y="541.81" width="1.00" height="80.19" fill="#ff00ff"/>
<rect x="325.40" y="541.81" width="1.00" height="80.19" fill="#ff00ff"/>
<rect x="326.40" y="541.81" width="1.00" height="80.19" fill="#ff00ff"/>
<rect x="327.40" y="541.81" width="1.00" height="80.19" fill="#ff00ff"/>
<rect x="328.40" y="541.81" width="1.00" height="80.19" fill="#ff00ff"/>
<rect x="329.40" y="541.81" width="1.00" height="80.19" fill="#ff00ff"/>
<rect x="330.40" y="541.81" width="1.00" height="80.19" fill="#ff00ff"/>
<rect x="331.40" y="541.81" width="1.00" height="80.19" fill="#ff00ff"/>
<rect x="332.40" y="541.81" width="1.00" height="80.19" fill="#ff00ff"/>
<rect x="333.40" y="541.81" width="1.00" height="80.19" fill="#ff00ff"/>
<rect x="334.40" y="541.81" width="1.00" height="80.19" fill="#ff00ff"/>
<rect x="335.40" y="541.81" width="1.00" height="80.19" fill="#ff00ff"/>
<rect x="336.40" y="541.81" width="1.00" height="80.19" fill="#ff00ff"/>
<rect x="337.40" y="541.81" width="1.00" height="80.19" fill="#ff00ff"/>
<rect x="338.40" y="541.81" width="1.00" height="80.19" fill="#ff00ff"/>
<rect x="339.40" y="541.81" width="1.00" height="80.19" fill="#ff00ff"/>
<rect x="340.40" y="541.81" width="1.00" height="80.19" fill="#ff00ff"/>
<rect x="341.40" y="541.81" width="1.00" height="80.19" fill="#ff00ff"/>
<rect x="342.40" y="541.81" width="1.00" height="80.19" fill="#ff00ff"/>
<rect x="343.40" y="541.81" width="1.00" height="80.19" fill="#ff00ff"/>
<rect x="344.40" y="541.81" width="1.00" height="80.19" fill="#ff00ff"/>
<rect x="345.40" y="541.81" width="1.00" height="80.19" fill="#ff00ff"/>
<rect x="346.40" y="541.81" width="1.00" height="80.19" fill="#ff00ff"/>
<rect x="347.40" y="541.81" width="1.00" height="80.19" fill="#ff00ff"/>
<rect x="348.40" y="541.81" width="1.00" height="80.19" fill="#ff00ff"/>
<rect x="349.40" y="541.81" width="1.00" height="80.19" fill="#ff00ff"/>
<rect x="350.40" y="541.81" width="1.00" height="80.19" fill="#ff00ff"/>
<rect x="351.40" y="541.81" width="1.00" height="80.19" fill="#ff00ff"/>
<rect x="352.40" y="541.81" width="1.00" height="80.19" fill="#ff00ff"/>
<rect x="353.40" y="541.81" width="1.00" height="80.19" fill="#ff00ff"/>
<rect x="354.40" y="541.81" width="1.00" height="80.19" fill="#ff00ff"/>
<rect x="355.40" y="541.81" width="1.00" height="80.19" fill="#ff00ff"/>
<rect x="356.40" y="541.81" width="1.00" height="80.19" fill="#ff00ff"/>
<rect x="357.40" y="541.81" width="1.00" height="80.19" fill="#ff00ff"/>
<rect x="358.40" y="541.81" width="1.00" height="80.19" fill="#ff00ff"/>
<rect x="359.40" y="541.81" width="1.00" height="80.19" fill="#ff00ff"/>
<rect x="360.40" y="541.81" width="1.00" height="80.19" fill="#ff00ff"/>
<rect x="361.40" y="541.81" width="1.00" height="80.19" fill="#ff00ff"/>
<rect x="362.40" y="541.81" width="1.00" height="80.19" fill="#ff00ff"/>
<rect x="363.40" y="541.81" width="1.00" height="80.19" fill="#ff00ff"/>
<rect x="364.40" y="541.81" width="1.00" height="80.19" fill="#ff00ff"/>
<rect x="365.40" y="541.81" width="1.00" height="80.19" fill="#ff00ff"/>
<rect x="366.40" y="541.81" width="1.00" height="80.19" fill="#ff00ff"/>
<rect x="367.40" y="541.81" width="1.00" height="80.19" fill="#ff00ff"/>
<rect x="368.40" y="541.81" width="1.00" height="80.19" fill="#ff00ff"/>
<rect x="369.40" y="541.81" width="1.00" height="80.19" fill="#ff00ff"/>
<rect x="370.40" y="541.81" width="1.00" height="80.19" fill="#ff00ff"/>
<rect x="371.40" y="541.81" width="1.00" height="80.19" fill="#ff00ff"/>
<rect x="372.40" y="541.81" width="1.00" height="80.19" fill="#ff00ff"/>
<rect x="373.40" y="541.81" width="1.00" height="80.19" fill="#ff00ff"/>
<rect x="374.40" y="541.81" width="1.00" height="80.19" fill="#ff00ff"/>
<rect x="375.40" y="541.81" width="1.00" height="80.19" fill="#ff00ff"/>
<rect x="376.40" y="541.81" width="1.00" height="80.19" fill="#ff00ff"/>
<rect x="377.40" y="541.81" width="1.00" height="80.19" fill="#ff00ff"/>
<rect x="378.40" y="541.81" width="1.00" height="80.19" fill="#ff00ff"/>
<rect x="379.40" y="541.81" width="1.00" height="80.19" fill="#ff00ff"/>
<rect x="380.40" y="541.81" width="1.00" height="80.19" fill="#ff00ff"/>
<rect x="381.40" y="541.81" width="1.00" height="80.19" fill="#ff00ff"/>
<rect x="382.40" y="541.81" width="1.00" height="80.19" fill="#ff00ff"/>
<rect x="383.40" y="541.81" width="1.00" height="80.19" fill="#ff00ff"/>
<rect x="384.40" y="541.81" width="1.00" height="80.19" fill="#ff00ff"/>
<rect x="385.40" y="541.81" width="1.00" height="80.19" fill="#ff00ff"/>
<rect x="386.40" y="541.81" width="1.00" height="80.19" fill="#ff00ff"/>
<rect x="387.40" y="541.81" width="1.00" height="80.19" fill="#ff00ff"/>
<rect x="388.40" y="541.81" width="1.00" height="80.19" fill="#ff00ff"/>
<rect x="389.40" y="541.81" width="1.00" height="80.19" fill="#ff00ff"/>
<rect x="390.40" y="541.81" width="0.10" height="80.19" fill="#ff00ff"/>
<rect x="76.00" y="462.13" width="6.00" height="79.69" fill="#ff00ff"/>
<rect x="91.00" y="462.13" width="3.60" height="79.69" fill="#ff00ff"/>
<rect x="345.50" y="462.13" width="2.50" height="79.69" fill="#ff00ff"/>
<rect x="352.75" y="462.13" width="6.25" height="79.69" fill="#ff00ff"/>
<rect x="367.00" y="462.13" width="7.60" height="79.69" fill="#ff00ff"/>
<rect x="382.00" y="462.13" width="7.00" height="79.69" fill="#ff00ff"/>
<rect x="46.40" y="501.87" width="6" height="1.2" fill="#ff00ff"/>
<rect x="47.50" y="501.97" width="1" height="79.69" fill="#ff00ff"/>
<rect x="49.50" y="501.97" width="1" height="79.69" fill="#ff00ff"/>
<rect x="51.70" y="501.97" width="1" height="79.69" fill="#ff00ff"/>
<rect x="53.50" y="541.81" width="1" height="39.84" fill="#ff00ff"/>
<rect x="55.50" y="501.97" width="1" height="79.69" fill="#ff00ff"/>
<rect x="57.50" y="541.81" width="1" height="39.84" fill="#ff00ff"/>
<rect x="64.30" y="462.13" width="1" height="119.53" fill="#ff00ff"/>
<rect x="69.50" y="422.29" width="1" height="159.37" fill="#ff00ff"/>
<rect x="77.50" y="422.29" width="1" height="159.37" fill="#ff00ff"/>
<rect x="80.50" y="422.29" width="1" height="159.37" fill="#ff00ff"/>
<rect x="84.50" y="422.29" width="1" height="159.37" fill="#ff00ff"/>
<rect x="87.00" y="422.29" width="1" height="159.37" fill="#ff00ff"/>
<rect x="95.00" y="422.29" width="1" height="159.37" fill="#ff00ff"/>
<rect x="97.00" y="422.29" width="1" height="159.37" fill="#ff00ff"/>
<rect x="70.00" y="382.44" width="1" height="199.21" fill="#ff00ff"/>
<rect x="85.00" y="382.44" width="1" height="199.21" fill="#ff00ff"/>
<rect x="97.50" y="382.44" width="1" height="199.21" fill="#ff00ff"/>
<rect x="132.50" y="382.44" width="1" height="199.21" fill="#ff00ff"/>
<rect x="261.00" y="382.44" width="1" height="199.21" fill="#ff00ff"/>
<rect x="102.50" y="462.13" width="1" height="119.53" fill="#ff00ff"/>
<rect x="105.80" y="462.13" width="1" height="119.53" fill="#ff00ff"/>
<rect x="111.50" y="422.29" width="1" height="159.37" fill="#ff00ff"/>
<rect x="115.60" y="462.13" width="1" height="119.53" fill="#ff00ff"/>
<rect x="116.50" y="462.13" width="1" height="119.53" fill="#ff00ff"/>
<rect x="117.00" y="462.13" width="1" height="119.53" fill="#ff00ff"/>
<rect x="129.60" y="422.29" width="1" height="159.37" fill="#ff00ff"/>
<rect x="130.50" y="422.29" width="1" height="159.37" fill="#ff00ff"/>
<rect x="131.70" y="422.29" width="1" height="159.37" fill="#ff00ff"/>
<rect x="133.00" y="462.13" width="1" height="119.53" fill="#ff00ff"/>
<rect x="142.70" y="422.29" width="1" height="159.37" fill="#ff00ff"/>
<rect x="152.00" y="422.29" width="1" height="159.37" fill="#ff00ff"/>
<rect x="157.00" y="462.13" width="1" height="119.53" fill="#ff00ff"/>
<rect x="145.00" y="462.13" width="1" height="119.53" fill="#ff00ff"/>
<rect x="164.00" y="501.97" width="1" height="79.69" fill="#ff00ff"/>
<rect x="176.20" y="501.97" width="1" height="79.69" fill="#ff00ff"/>
<rect x="178.50" y="501.97" width="1" height="79.69" fill="#ff00ff"/>
<rect x="181.00" y="501.97" width="1" height="79.69" fill="#ff00ff"/>
<rect x="184.00" y="462.13" width="1" height="119.53" fill="#ff00ff"/>
<rect x="189.00" y="462.13" width="1" height="119.53" fill="#ff00ff"/>
<rect x="203.00" y="422.29" width="1" height="159.37" fill="#ff00ff"/>
<rect x="206.00" y="501.97" width="1" height="79.69" fill="#ff00ff"/>
<rect x="217.00" y="422.29" width="1" height="159.37" fill="#ff00ff"/>
<rect x="222.00" y="422.29" width="1" height="159.37" fill="#ff00ff"/>
<rect x="239.80" y="501.97" width="1" height="79.69" fill="#ff00ff"/>
<rect x="258.50" y="422.29" width="1" height="159.37" fill="#ff00ff"/>
<rect x="259.50" y="422.29" width="1" height="159.37" fill="#ff00ff"/>
<rect x="260.60" y="422.29" width="1" height="159.37" fill="#ff00ff"/>
<rect x="275.00" y="462.13" width="1" height="119.53" fill="#ff00ff"/>
<rect x="278.00" y="422.29" width="1" height="159.37" fill="#ff00ff"/>
<rect x="270.00" y="501.97" width="1" height="79.69" fill="#ff00ff"/>
<rect x="276.00" y="501.97" width="1" height="79.69" fill="#ff00ff"/>
<rect x="280.00" y="501.97" width="1" height="79.69" fill="#ff00ff"/>
<rect x="283.00" y="462.13" width="1" height="119.53" fill="#ff00ff"/>
<rect x="286.00" y="501.97" width="1" height="79.69" fill="#ff00ff"/>
<rect x="289.00" y="501.97" width="1" height="79.69" fill="#ff00ff"/>
<rect x="293.00" y="541.81" width="1" height="39.84" fill="#ff00ff"/>
<rect x="295.00" y="541.81" width="1" height="39.84" fill="#ff00ff"/>
<rect x="297.70" y="501.97" width="1" height="79.69" fill="#ff00ff"/>
<rect x="300.00" y="541.81" width="1" height="39.84" fill="#ff00ff"/>
<rect x="305.00" y="462.13" width="1" height="119.53" fill="#ff00ff"/>
<rect x="312.70" y="422.29" width="1" height="159.37" fill="#ff00ff"/>
<rect x="316.90" y="422.29" width="1" height="159.37" fill="#ff00ff"/>
<rect x="317.50" y="462.13" width="1" height="119.53" fill="#ff00ff"/>
<rect x="326.90" y="462.13" width="1" height="119.53" fill="#ff00ff"/>
<rect x="336.00" y="462.13" width="1" height="119.53" fill="#ff00ff"/>
<rect x="340.25" y="462.13" width="1" height="119.53" fill="#ff00ff"/>
<rect x="362.00" y="462.13" width="1" height="119.53" fill="#ff00ff"/>
<rect x="338.00" y="462.13" width="1" height="119.53" fill="#ff00ff"/>
<rect x="346.50" y="462.13" width="1" height="119.53" fill="#ff00ff"/>
<rect x="366.00" y="462.13" width="1" height="119.53" fill="#ff00ff"/>
<rect x="382.00" y="462.13" width="1" height="119.53" fill="#ff00ff"/>
<rect x="364.00" y="462.13" width="1" height="119.53" fill="#ff00ff"/>
<rect x="377.00" y="462.13" width="1" height="119.53" fill="#ff00ff"/>
<rect x="354.80" y="422.29" width="1" height="159.37" fill="#ff00ff"/>
<rect x="325.00" y="422.29" width="1" height="159.37" fill="#ff00ff"/>
<rect x="355.00" y="422.29" width="1" height="159.37" fill="#ff00ff"/>
<rect x="46.40" y="541.81" width="1.00" height="40.34" fill="#008000"/>
<rect x="47.40" y="541.81" width="1.00" height="40.34" fill="#008000"/>
<rect x="48.40" y="541.81" width="1.00" height="40.34" fill="#008000"/>
<rect x="49.40" y="541.81" width="1.00" height="80.19" fill="#008000"/>
<rect x="50.40" y="541.81" width="1.00" height="40.34" fill="#008000"/>
<rect x="51.40" y="541.81" width="1.00" height="40.34" fill="#008000"/>
<rect x="52.40" y="581.66" width="1.00" height="40.34" fill="#008000"/>
<rect x="53.40" y="581.66" width="1.00" height="40.34" fill="#008000"/>
<rect x="54.40" y="581.66" width="1.00" height="40.34" fill="#008000"/>
<rect x="55.40" y="581.66" width="1.00" height="40.34" fill="#008000"/>
<rect x="56.40" y="581.66" width="1.00" height="40.34" fill="#008000"/>
<rect x="57.40" y="541.81" width="1.00" height="80.19" fill="#008000"/>
<rect x="58.40" y="541.81" width="1.00" height="80.19" fill="#008000"/>
<rect x="59.40" y="501.97" width="1.00" height="120.03" fill="#008000"/>
<rect x="60.40" y="462.13" width="1.00" height="120.03" fill="#008000"/>
<rect x="61.40" y="462.13" width="1.00" height="120.03" fill="#008000"/>
<rect x="62.40" y="462.13" width="1.00" height="120.03" fill="#008000"/>
<rect x="63.40" y="462.13" width="1.00" height="159.87" fill="#008000"/>
<rect x="64.40" y="501.97" width="1.00" height="120.03" fill="#008000"/>
<rect x="65.40" y="462.13" width="1.00" height="120.03" fill="#008000"/>
<rect x="66.40" y="462.13" width="1.00" height="120.03" fill="#008000"/>
<rect x="67.40" y="462.13" width="1.00" height="120.03" fill="#008000"/>
<rect x="68.40" y="462.13" width="1.00" height="120.03" fill="#008000"/>
<rect x="69.40" y="462.13" width="1.00" height="120.03" fill="#008000"/>
<rect x="70.40" y="462.13" width="1.00" height="159.87" fill="#008000"/>
<rect x="71.40" y="462.13" width="1.00" height="159.87" fill="#008000"/>
<rect x="72.40" y="501.97" width="1.00" height="120.03" fill="#008000"/>
<rect x="73.40" y="501.97" width="1.00" height="120.03" fill="#008000"/>
<rect x="74.40" y="462.13" width="1.00" height="159.87" fill="#008000"/>
<rect x="75.40" y="462.13" width="1.00" height="120.03" fill="#008000"/>
<rect x="76.40" y="501.97" width="1.00" height="120.03" fill="#008000"/>
<rect x="77.40" y="501.97" width="1.00" height="120.03" fill="#008000"/>
<rect x="78.40" y="501.97" width="1.00" height="80.19" fill="#008000"/>
<rect x="79.40" y="501.97" width="1.00" height="120.03" fill="#008000"/>
<rect x="80.40" y="501.97" width="1.00" height="120.03" fill="#008000"/>
<rect x="81.40" y="501.97" width="1.00" height="120.03" fill="#008000"/>
<rect x="82.40" y="462.13" width="1.00" height="159.87" fill="#008000"/>
<rect x="83.40" y="462.13" width="1.00" height="159.87" fill="#008000"/>
<rect x="84.40" y="462.13" width="1.00" height="120.03" fill="#008000"/>
<rect x="85.40" y="462.13" width="1.00" height="120.03" fill="#008000"/>
<rect x="86.40" y="462.13" width="1.00" height="120.03" fill="#008000"/>
<rect x="87.40" y="462.13" width="1.00" height="120.03" fill="#008000"/>
<rect x="88.40" y="462.13" width="1.00" height="120.03" fill="#008000"/>
<rect x="89.40" y="462.13" width="1.00" height="159.87" fill="#008000"/>
<rect x="90.40" y="501.97" width="1.00" height="120.03" fill="#008000"/>
<rect x="91.40" y="501.97" width="1.00" height="120.03" fill="#008000"/>
<rect x="92.40" y="501.97" width="1.00" height="80.19" fill="#008000"/>
<rect x="93.40" y="501.97" width="1.00" height="80.19" fill="#008000"/>
<rect x="94.40" y="462.13" width="1.00" height="120.03" fill="#008000"/>
<rect x="95.40" y="462.13" width="1.00" height="120.03" fill="#008000"/>
<rect x="96.40" y="462.13" width="1.00" height="120.03" fill="#008000"/>
<rect x="97.40" y="462.13" width="1.00" height="159.87" fill="#008000"/>
<rect x="98.40" y="462.13" width="1.00" height="159.87" fill="#008000"/>
<rect x="99.40" y="501.97" width="1.00" height="120.03" fill="#008000"/>
<rect x="100.40" y="501.97" width="1.00" height="120.03" fill="#008000"/>
<rect x="101.40" y="501.97" width="1.00" height="120.03" fill="#008000"/>
<rect x="102.40" y="501.97" width="1.00" height="120.03" fill="#008000"/>
<rect x="103.40" y="501.97" width="1.00" height="120.03" fill="#008000"/>
<rect x="104.40" y="501.97" width="1.00" height="120.03" fill="#008000"/>
<rect x="105.40" y="501.97" width="1.00" height="120.03" fill="#008000"/>
<rect x="106.40" y="501.97" width="1.00" height="120.03" fill="#008000"/>
<rect x="107.40" y="501.97" width="1.00" height="80.19" fill="#008000"/>
<rect x="108.40" y="501.97" width="1.00" height="120.03" fill="#008000"/>
<rect x="109.40" y="501.97" width="1.00" height="80.19" fill="#008000"/>
<rect x="110.40" y="541.81" width="1.00" height="40.34" fill="#008000"/>
<rect x="111.40" y="541.81" width="1.00" height="80.19" fill="#008000"/>
<rect x="112.40" y="501.97" width="1.00" height="120.03" fill="#008000"/>
<rect x="113.40" y="501.97" width="1.00" height="120.03" fill="#008000"/>
<rect x="114.40" y="541.81" width="1.00" height="80.19" fill="#008000"/>
<rect x="115.40" y="501.97" width="1.00" height="120.03" fill="#008000"/>
<rect x="116.40" y="501.97" width="1.00" height="80.19" fill="#008000"/>
<rect x="117.40" y="501.97" width="1.00" height="120.03" fill="#008000"/>
<rect x="118.40" y="501.97" width="1.00" height="120.03" fill="#008000"/>
<rect x="119.40" y="501.97" width="1.00" height="80.19" fill="#008000"/>
<rect x="120.40" y="501.97" width="1.00" height="120.03" fill="#008000"/>
<rect x="121.40" y="501.97" width="1.00" height="120.03" fill="#008000"/>
<rect x="122.40" y="501.97" width="1.00" height="120.03" fill="#008000"/>
<rect x="123.40" y="501.97" width="1.00" height="120.03" fill="#008000"/>
<rect x="124.40" y="501.97" width="1.00" height="120.03" fill="#008000"/>
<rect x="125.40" y="501.97" width="1.00" height="120.03" fill="#008000"/>
<rect x="126.40" y="501.97" width="1.00" height="120.03" fill="#008000"/>
<rect x="127.40" y="541.81" width="1.00" height="80.19" fill="#008000"/>
<rect x="128.40" y="541.81" width="1.00" height="80.19" fill="#008000"/>
<rect x="129.40" y="541.81" width="1.00" height="80.19" fill="#008000"/>
<rect x="130.40" y="541.81" width="1.00" height="80.19" fill="#008000"/>
<rect x="131.40" y="541.81" width="1.00" height="80.19" fill="#008000"/>
<rect x="132.40" y="541.81" width="1.00" height="80.19" fill="#008000"/>
<rect x="133.40" y="541.81" width="1.00" height="80.19" fill="#008000"/>
<rect x="134.40" y="541.81" width="1.00" height="80.19" fill="#008000"/>
<rect x="135.40" y="541.81" width="1.00" height="80.19" fill="#008000"/>
<rect x="136.40" y="541.81" width="1.00" height="40.34" fill="#008000"/>
<rect x="137.40" y="541.81" width="1.00" height="40.34" fill="#008000"/>
<rect x="138.40" y="501.97" width="1.00" height="80.19" fill="#008000"/>
<rect x="139.40" y="501.97" width="1.00" height="120.03" fill="#008000"/>
<rect x="140.40" y="501.97" width="1.00" height="120.03" fill="#008000"/>
<rect x="141.40" y="501.97" width="1.00" height="80.19" fill="#008000"/>
<rect x="142.40" y="541.81" width="1.00" height="40.34" fill="#008000"/>
<rect x="143.40" y="541.81" width="1.00" height="80.19" fill="#008000"/>
<rect x="144.40" y="541.81" width="1.00" height="80.19" fill="#008000"/>
<rect x="145.40" y="541.81" width="1.00" height="80.19" fill="#008000"/>
<rect x="146.40" y="501.97" width="1.00" height="120.03" fill="#008000"/>
<rect x="147.40" y="501.97" width="1.00" height="120.03" fill="#008000"/>
<rect x="148.40" y="501.97" width="1.00" height="120.03" fill="#008000"/>
<rect x="149.40" y="501.97" width="1.00" height="120.03" fill="#008000"/>
<rect x="150.40" y="501.97" width="1.00" height="120.03" fill="#008000"/>
<rect x="151.40" y="501.97" width="1.00" height="120.03" fill="#008000"/>
<rect x="152.40" y="501.97" width="1.00" height="120.03" fill="#008000"/>
<rect x="153.40" y="541.81" width="1.00" height="80.19" fill="#008000"/>
<rect x="154.40" y="541.81" width="1.00" height="80.19" fill="#008000"/>
<rect x="155.40" y="541.81" width="1.00" height="80.19" fill="#008000"/>
<rect x="156.40" y="501.97" width="1.00" height="120.03" fill="#008000"/>
<rect x="157.40" y="501.97" width="1.00" height="80.19" fill="#008000"/>
<rect x="158.40" y="501.97" width="1.00" height="120.03" fill="#008000"/>
<rect x="159.40" y="501.97" width="1.00" height="120.03" fill="#008000"/>
<rect x="160.40" y="541.81" width="1.00" height="40.34" fill="#008000"/>
<rect x="161.40" y="541.81" width="1.00" height="40.34" fill="#008000"/>
<rect x="162.40" y="541.81" width="1.00" height="80.19" fill="#008000"/>
<rect x="163.40" y="541.81" width="1.00" height="80.19" fill="#008000"/>
<rect x="164.40" y="501.97" width="1.00" height="80.19" fill="#008000"/>
<rect x="165.40" y="501.97" width="1.00" height="80.19" fill="#008000"/>
<rect x="166.40" y="501.97" width="1.00" height="120.03" fill="#008000"/>
<rect x="167.40" y="501.97" width="1.00" height="120.03" fill="#008000"/>
<rect x="168.40" y="541.81" width="1.00" height="80.19" fill="#008000"/>
<rect x="169.40" y="541.81" width="1.00" height="80.19" fill="#008000"/>
<rect x="170.40" y="541.81" width="1.00" height="40.34" fill="#008000"/>
<rect x="171.40" y="541.81" width="1.00" height="80.19" fill="#008000"/>
<rect x="172.40" y="541.81" width="1.00" height="80.19" fill="#008000"/>
<rect x="173.40" y="541.81" width="1.00" height="80.19" fill="#008000"/>
<rect x="174.40" y="541.81" width="1.00" height="80.19" fill="#008000"/>
<rect x="175.40" y="541.81" width="1.00" height="80.19" fill="#008000"/>
<rect x="176.40" y="501.97" width="1.00" height="120.03" fill="#008000"/>
<rect x="177.40" y="501.97" width="1.00" height="120.03" fill="#008000"/>
<rect x="178.40" y="541.81" width="1.00" height="80.19" fill="#008000"/>
<rect x="179.40" y="541.81" width="1.00" height="80.19" fill="#008000"/>
<rect x="180.40" y="541.81" width="1.00" height="80.19" fill="#008000"/>
<rect x="181.40" y="541.81" width="1.00" height="80.19" fill="#008000"/>
<rect x="182.40" y="541.81" width="1.00" height="80.19" fill="#008000"/>
<rect x="183.40" y="541.81" width="1.00" height="80.19" fill="#008000"/>
<rect x="184.40" y="501.97" width="1.00" height="80.19" fill="#008000"/>
<rect x="185.40" y="501.97" width="1.00" height="120.03" fill="#008000"/>
<rect x="186.40" y="501.97" width="1.00" height="120.03" fill="#008000"/>
<rect x="187.40" y="501.97" width="1.00" height="120.03" fill="#008000"/>
<rect x="188.40" y="501.97" width="1.00" height="120.03" fill="#008000"/>
<rect x="189.40" y="501.97" width="1.00" height="120.03" fill="#008000"/>
<rect x="190.40" y="501.97" width="1.00" height="120.03" fill="#008000"/>
<rect x="191.40" y="501.97" width="1.00" height="80.19" fill="#008000"/>
<rect x="192.40" y="501.97" width="1.00" height="120.03" fill="#008000"/>
<rect x="193.40" y="501.97" width="1.00" height="120.03" fill="#008000"/>
<rect x="194.40" y="501.97" width="1.00" height="80.19" fill="#008000"/>
<rect x="195.40" y="501.97" width="1.00" height="80.19" fill="#008000"/>
<rect x="196.40" y="501.97" width="1.00" height="80.19" fill="#008000"/>
<rect x="197.40" y="462.13" width="1.00" height="120.03" fill="#008000"/>
<rect x="198.40" y="462.13" width="1.00" height="120.03" fill="#008000"/>
<rect x="199.40" y="462.13" width="1.00" height="120.03" fill="#008000"/>
<rect x="200.40" y="462.13" width="1.00" height="120.03" fill="#008000"/>
<rect x="201.40" y="462.13" width="1.00" height="120.03" fill="#008000"/>
<rect x="202.40" y="541.81" width="1.00" height="80.19" fill="#008000"/>
<rect x="203.40" y="541.81" width="1.00" height="80.19" fill="#008000"/>
<rect x="204.40" y="501.97" width="1.00" height="120.03" fill="#008000"/>
<rect x="205.40" y="501.97" width="1.00" height="120.03" fill="#008000"/>
<rect x="206.40" y="501.97" width="1.00" height="120.03" fill="#008000"/>
<rect x="207.40" y="501.97" width="1.00" height="120.03" fill="#008000"/>
<rect x="208.40" y="501.97" width="1.00" height="120.03" fill="#008000"/>
<rect x="209.40" y="501.97" width="1.00" height="120.03" fill="#008000"/>
<rect x="210.40" y="541.81" width="1.00" height="80.19" fill="#008000"/>
<rect x="211.40" y="541.81" width="1.00" height="80.19" fill="#008000"/>
<rect x="212.40" y="541.81" width="1.00" height="80.19" fill="#008000"/>
<rect x="213.40" y="501.97" width="1.00" height="80.19" fill="#008000"/>
<rect x="214.40" y="501.97" width="1.00" height="80.19" fill="#008000"/>
<rect x="215.40" y="462.13" width="1.00" height="120.03" fill="#008000"/>
<rect x="216.40" y="462.13" width="1.00" height="120.03" fill="#008000"/>
<rect x="217.40" y="462.13" width="1.00" height="120.03" fill="#008000"/>
<rect x="218.40" y="462.13" width="1.00" height="120.03" fill="#008000"/>
<rect x="219.40" y="462.13" width="1.00" height="120.03" fill="#008000"/>
<rect x="220.40" y="462.13" width="1.00" height="120.03" fill="#008000"/>
<rect x="221.40" y="462.13" width="1.00" height="120.03" fill="#008000"/>
<rect x="222.40" y="462.13" width="1.00" height="120.03" fill="#008000"/>
<rect x="223.40" y="462.13" width="1.00" height="120.03" fill="#008000"/>
<rect x="224.40" y="462.13" width="1.00" height="80.19" fill="#008000"/>
<rect x="225.40" y="462.13" width="1.00" height="80.19" fill="#008000"/>
<rect x="226.40" y="462.13" width="1.00" height="80.19" fill="#008000"/>
<rect x="227.40" y="462.13" width="1.00" height="80.19" fill="#008000"/>
<rect x="228.40" y="462.13" width="1.00" height="80.19" fill="#008000"/>
<rect x="229.40" y="462.13" width="1.00" height="80.19" fill="#008000"/>
<rect x="230.40" y="462.13" width="1.00" height="80.19" fill="#008000"/>
<rect x="231.40" y="501.97" width="1.00" height="80.19" fill="#008000"/>
<rect x="232.40" y="501.97" width="1.00" height="80.19" fill="#008000"/>
<rect x="233.40" y="501.97" width="1.00" height="80.19" fill="#008000"/>
<rect x="234.40" y="501.97" width="1.00" height="120.03" fill="#008000"/>
<rect x="235.40" y="501.97" width="1.00" height="80.19" fill="#008000"/>
<rect x="236.40" y="501.97" width="1.00" height="80.19" fill="#008000"/>
<rect x="237.40" y="501.97" width="1.00" height="80.19" fill="#008000"/>
<rect x="238.40" y="541.81" width="1.00" height="40.34" fill="#008000"/>
<rect x="239.40" y="541.81" width="1.00" height="40.34" fill="#008000"/>
<rect x="240.40" y="501.97" width="1.00" height="80.19" fill="#008000"/>
<rect x="241.40" y="501.97" width="1.00" height="80.19" fill="#008000"/>
<rect x="242.40" y="501.97" width="1.00" height="80.19" fill="#008000"/>
<rect x="243.40" y="501.97" width="1.00" height="120.03" fill="#008000"/>
<rect x="244.40" y="501.97" width="1.00" height="120.03" fill="#008000"/>
<rect x="245.40" y="501.97" width="1.00" height="80.19" fill="#008000"/>
<rect x="246.40" y="501.97" width="1.00" height="80.19" fill="#008000"/>
<rect x="247.40" y="462.13" width="1.00" height="120.03" fill="#008000"/>
<rect x="248.40" y="462.13" width="1.00" height="159.87" fill="#008000"/>
<rect x="249.40" y="462.13" width="1.00" height="120.03" fill="#008000"/>
<rect x="250.40" y="462.13" width="1.00" height="120.03" fill="#008000"/>
<rect x="251.40" y="462.13" width="1.00" height="120.03" fill="#008000"/>
<rect x="252.40" y="462.13" width="1.00" height="159.87" fill="#008000"/>
<rect x="253.40" y="462.13" width="1.00" height="159.87" fill="#008000"/>
<rect x="254.40" y="462.13" width="1.00" height="120.03" fill="#008000"/>
<rect x="255.40" y="462.13" width="1.00" height="120.03" fill="#008000"/>
<rect x="256.40" y="462.13" width="1.00" height="120.03" fill="#008000"/>
<rect x="257.40" y="462.13" width="1.00" height="120.03" fill="#008000"/>
<rect x="258.40" y="462.13" width="1.00" height="120.03" fill="#008000"/>
<rect x="259.40" y="462.13" width="1.00" height="120.03" fill="#008000"/>
<rect x="260.40" y="462.13" width="1.00" height="120.03" fill="#008000"/>
<rect x="261.40" y="462.13" width="1.00" height="120.03" fill="#008000"/>
<rect x="262.40" y="462.13" width="1.00" height="120.03" fill="#008000"/>
<rect x="263.40" y="462.13" width="1.00" height="120.03" fill="#008000"/>
<rect x="264.40" y="462.13" width="1.00" height="159.87" fill="#008000"/>
<rect x="265.40" y="501.97" width="1.00" height="120.03" fill="#008000"/>
<rect x="266.40" y="501.97" width="1.00" height="120.03" fill="#008000"/>
<rect x="267.40" y="501.97" width="1.00" height="120.03" fill="#008000"/>
<rect x="268.40" y="501.97" width="1.00" height="120.03" fill="#008000"/>
<rect x="269.40" y="541.81" width="1.00" height="80.19" fill="#008000"/>
<rect x="270.40" y="541.81" width="1.00" height="80.19" fill="#008000"/>
<rect x="271.40" y="541.81" width="1.00" height="80.19" fill="#008000"/>
<rect x="272.40" y="541.81" width="1.00" height="80.19" fill="#008000"/>
<rect x="273.40" y="541.81" width="1.00" height="80.19" fill="#008000"/>
<rect x="274.40" y="541.81" width="1.00" height="80.19" fill="#008000"/>
<rect x="275.40" y="541.81" width="1.00" height="80.19" fill="#008000"/>
<rect x="276.40" y="541.81" width="1.00" height="80.19" fill="#008000"/>
<rect x="277.40" y="541.81" width="1.00" height="80.19" fill="#008000"/>
<rect x="278.40" y="541.81" width="1.00" height="80.19" fill="#008000"/>
<rect x="279.40" y="541.81" width="1.00" height="80.19" fill="#008000"/>
<rect x="280.40" y="541.81" width="1.00" height="80.19" fill="#008000"/>
<rect x="281.40" y="541.81" width="1.00" height="80.19" fill="#008000"/>
<rect x="282.40" y="541.81" width="1.00" height="80.19" fill="#008000"/>
<rect x="283.40" y="541.81" width="1.00" height="80.19" fill="#008000"/>
<rect x="284.40" y="541.81" width="1.00" height="80.19" fill="#008000"/>
<rect x="285.40" y="541.81" width="1.00" height="40.34" fill="#008000"/>
<rect x="286.40" y="541.81" width="1.00" height="80.19" fill="#008000"/>
<rect x="287.40" y="541.81" width="1.00" height="80.19" fill="#008000"/>
<rect x="288.40" y="541.81" width="1.00" height="80.19" fill="#008000"/>
<rect x="289.40" y="541.81" width="1.00" height="80.19" fill="#008000"/>
<rect x="290.40" y="541.81" width="1.00" height="80.19" fill="#008000"/>
<rect x="291.40" y="581.66" width="1.00" height="40.34" fill="#008000"/>
<rect x="292.40" y="581.66" width="1.00" height="40.34" fill="#008000"/>
<rect x="293.40" y="581.66" width="1.00" height="40.34" fill="#008000"/>
<rect x="294.40" y="581.66" width="1.00" height="40.34" fill="#008000"/>
<rect x="295.40" y="581.66" width="1.00" height="40.34" fill="#008000"/>
<rect x="296.40" y="581.66" width="1.00" height="40.34" fill="#008000"/>
<rect x="297.40" y="581.66" width="1.00" height="40.34" fill="#008000"/>
<rect x="298.40" y="581.66" width="1.00" height="40.34" fill="#008000"/>
<rect x="299.40" y="581.66" width="1.00" height="40.34" fill="#008000"/>
<rect x="300.40" y="581.66" width="1.00" height="40.34" fill="#008000"/>
<rect x="301.40" y="581.66" width="1.00" height="40.34" fill="#008000"/>
<rect x="302.40" y="581.66" width="1.00" height="40.34" fill="#008000"/>
<rect x="303.40" y="541.81" width="1.00" height="80.19" fill="#008000"/>
<rect x="304.40" y="501.97" width="1.00" height="120.03" fill="#008000"/>
<rect x="305.40" y="501.97" width="1.00" height="80.19" fill="#008000"/>
<rect x="306.40" y="501.97" width="1.00" height="120.03" fill="#008000"/>
<rect x="307.40" y="462.13" width="1.00" height="120.03" fill="#008000"/>
<rect x="308.40" y="462.13" width="1.00" height="120.03" fill="#008000"/>
<rect x="309.40" y="462.13" width="1.00" height="120.03" fill="#008000"/>
<rect x="310.40" y="462.13" width="1.00" height="120.03" fill="#008000"/>
<rect x="311.40" y="462.13" width="1.00" height="120.03" fill="#008000"/>
<rect x="312.40" y="462.13" width="1.00" height="120.03" fill="#008000"/>
<rect x="313.40" y="462.13" width="1.00" height="120.03" fill="#008000"/>
<rect x="314.40" y="462.13" width="1.00" height="120.03" fill="#008000"/>
<rect x="315.40" y="462.13" width="1.00" height="120.03" fill="#008000"/>
<rect x="316.40" y="501.97" width="1.00" height="80.19" fill="#008000"/>
<rect x="317.40" y="501.97" width="1.00" height="80.19" fill="#008000"/>
<rect x="318.40" y="501.97" width="1.00" height="120.03" fill="#008000"/>
<rect x="319.40" y="501.97" width="1.00" height="120.03" fill="#008000"/>
<rect x="320.40" y="501.97" width="1.00" height="80.19" fill="#008000"/>
<rect x="321.40" y="501.97" width="1.00" height="120.03" fill="#008000"/>
<rect x="322.40" y="501.97" width="1.00" height="120.03" fill="#008000"/>
<rect x="323.40" y="501.97" width="1.00" height="120.03" fill="#008000"/>
<rect x="324.40" y="501.97" width="1.00" height="80.19" fill="#008000"/>
<rect x="325.40" y="462.13" width="1.00" height="120.03" fill="#008000"/>
<rect x="326.40" y="462.13" width="1.00" height="120.03" fill="#008000"/>
<rect x="327.40" y="501.97" width="1.00" height="80.19" fill="#008000"/>
<rect x="328.40" y="501.97" width="1.00" height="80.19" fill="#008000"/>
<rect x="329.40" y="501.97" width="1.00" height="120.03" fill="#008000"/>
<rect x="330.40" y="501.97" width="1.00" height="120.03" fill="#008000"/>
<rect x="331.40" y="501.97" width="1.00" height="120.03" fill="#008000"/>
<rect x="332.40" y="462.13" width="1.00" height="159.87" fill="#008000"/>
<rect x="333.40" y="462.13" width="1.00" height="120.03" fill="#008000"/>
<rect x="334.40" y="501.97" width="1.00" height="80.19" fill="#008000"/>
<rect x="335.40" y="501.97" width="1.00" height="80.19" fill="#008000"/>
<rect x="336.40" y="501.97" width="1.00" height="80.19" fill="#008000"/>
<rect x="337.40" y="501.97" width="1.00" height="80.19" fill="#008000"/>
<rect x="338.40" y="541.81" width="1.00" height="80.19" fill="#008000"/>
<rect x="339.40" y="501.97" width="1.00" height="120.03" fill="#008000"/>
<rect x="340.40" y="501.97" width="1.00" height="120.03" fill="#008000"/>
<rect x="341.40" y="501.97" width="1.00" height="120.03" fill="#008000"/>
<rect x="342.40" y="501.97" width="1.00" height="80.19" fill="#008000"/>
<rect x="343.40" y="501.97" width="1.00" height="120.03" fill="#008000"/>
<rect x="344.40" y="501.97" width="1.00" height="80.19" fill="#008000"/>
<rect x="345.40" y="501.97" width="1.00" height="80.19" fill="#008000"/>
<rect x="346.40" y="541.81" width="1.00" height="40.34" fill="#008000"/>
<rect x="347.40" y="501.97" width="1.00" height="120.03" fill="#008000"/>
<rect x="348.40" y="501.97" width="1.00" height="120.03" fill="#008000"/>
<rect x="349.40" y="501.97" width="1.00" height="80.19" fill="#008000"/>
<rect x="350.40" y="501.97" width="1.00" height="80.19" fill="#008000"/>
<rect x="351.40" y="501.97" width="1.00" height="80.19" fill="#008000"/>
<rect x="352.40" y="501.97" width="1.00" height="80.19" fill="#008000"/>
<rect x="353.40" y="501.97" width="1.00" height="80.19" fill="#008000"/>
<rect x="354.40" y="541.81" width="1.00" height="80.19" fill="#008000"/>
<rect x="355.40" y="541.81" width="1.00" height="80.19" fill="#008000"/>
<rect x="356.40" y="541.81" width="1.00" height="80.19" fill="#008000"/>
<rect x="357.40" y="541.81" width="1.00" height="80.19" fill="#008000"/>
<rect x="358.40" y="501.97" width="1.00" height="80.19" fill="#008000"/>
<rect x="359.40" y="501.97" width="1.00" height="80.19" fill="#008000"/>
<rect x="360.40" y="501.97" width="1.00" height="80.19" fill="#008000"/>
<rect x="361.40" y="501.97" width="1.00" height="120.03" fill="#008000"/>
<rect x="362.40" y="501.97" width="1.00" height="120.03" fill="#008000"/>
<rect x="363.40" y="501.97" width="1.00" height="80.19" fill="#008000"/>
<rect x="364.40" y="501.97" width="1.00" height="80.19" fill="#008000"/>
<rect x="365.40" y="501.97" width="1.00" height="80.19" fill="#008000"/>
<rect x="366.40" y="541.81" width="1.00" height="80.19" fill="#008000"/>
<rect x="367.40" y="501.97" width="1.00" height="120.03" fill="#008000"/>
<rect x="368.40" y="501.97" width="1.00" height="120.03" fill="#008000"/>
<rect x="369.40" y="501.97" width="1.00" height="120.03" fill="#008000"/>
<rect x="370.40" y="541.81" width="1.00" height="40.34" fill="#008000"/>
<rect x="371.40" y="541.81" width="1.00" height="80.19" fill="#008000"/>
<rect x="372.40" y="541.81" width="1.00" height="80.19" fill="#008000"/>
<rect x="373.40" y="541.81" width="1.00" height="80.19" fill="#008000"/>
<rect x="374.40" y="541.81" width="1.00" height="80.19" fill="#008000"/>
<rect x="375.40" y="541.81" width="1.00" height="40.34" fill="#008000"/>
<rect x="376.40" y="501.97" width="1.00" height="120.03" fill="#008000"/>
<rect x="377.40" y="501.97" width="1.00" height="80.19" fill="#008000"/>
<rect x="378.40" y="501.97" width="1.00" height="80.19" fill="#008000"/>
<rect x="379.40" y="501.97" width="1.00" height="120.03" fill="#008000"/>
<rect x="380.40" y="501.97" width="1.00" height="120.03" fill="#008000"/>
<rect x="381.40" y="501.97" width="1.00" height="120.03" fill="#008000"/>
<rect x="382.40" y="541.81" width="1.00" height="80.19" fill="#008000"/>
<rect x="383.40" y="501.97" width="1.00" height="120.03" fill="#008000"/>
<rect x="384.40" y="501.97" width="1.00" height="120.03" fill="#008000"/>
<rect x="385.40" y="501.97" width="1.00" height="80.19" fill="#008000"/>
<rect x="386.40" y="501.97" width="1.00" height="120.03" fill="#008000"/>
<rect x="387.40" y="501.97" width="1.00" height="120.03" fill="#008000"/>
<rect x="388.40" y="501.97" width="1.00" height="80.19" fill="#008000"/>
<rect x="389.40" y="501.97" width="1.00" height="120.03" fill="#008000"/>
<rect x="390.40" y="501.97" width="0.10" height="120.03" fill="#008000"/>
<rect x="67.00" y="422.29" width="1" height="119.53" fill="#008000"/>
<rect x="74.50" y="422.29" width="1" height="119.53" fill="#008000"/>
<rect x="138.50" y="462.13" width="1" height="79.69" fill="#008000"/>
<rect x="170.40" y="501.97" width="1" height="39.84" fill="#008000"/>
<rect x="160.50" y="501.97" width="1" height="39.84" fill="#008000"/>
<rect x="226.00" y="422.29" width="1" height="119.53" fill="#008000"/>
<rect x="255.40" y="422.29" width="1" height="119.53" fill="#008000"/>
<rect x="273.00" y="501.97" width="1" height="39.84" fill="#008000"/>
<rect x="319.60" y="462.13" width="1" height="79.69" fill="#008000"/>
<rect x="322.70" y="462.13" width="1" height="79.69" fill="#008000"/>
<rect x="334.20" y="462.13" width="1" height="79.69" fill="#008000"/>
<rect x="218.00" y="422.29" width="1" height="119.53" fill="#008000"/></g><line x1="483.40" y1="626.80" x2="483.40" y2="621.80" stroke="#111" stroke-width="1.5"/><line x1="553.94" y1="626.80" x2="553.94" y2="621.80" stroke="#111" stroke-width="1.5"/><line x1="624.48" y1="626.80" x2="624.48" y2="621.80" stroke="#111" stroke-width="1.5"/><line x1="695.02" y1="626.80" x2="695.02" y2="621.80" stroke="#111" stroke-width="1.5"/><line x1="765.56" y1="626.80" x2="765.56" y2="621.80" stroke="#111" stroke-width="1.5"/><line x1="836.10" y1="626.80" x2="836.10" y2="621.80" stroke="#111" stroke-width="1.5"/><line x1="518.67" y1="626.80" x2="518.67" y2="623.80" stroke="#111" stroke-width="1.5"/><line x1="589.21" y1="626.80" x2="589.21" y2="623.80" stroke="#111" stroke-width="1.5"/><line x1="659.75" y1="626.80" x2="659.75" y2="623.80" stroke="#111" stroke-width="1.5"/><line x1="730.29" y1="626.80" x2="730.29" y2="623.80" stroke="#111" stroke-width="1.5"/><line x1="800.83" y1="626.80" x2="800.83" y2="623.80" stroke="#111" stroke-width="1.5"/><line x1="483.40" y1="606.50" x2="488.40" y2="606.50" stroke="#111" stroke-width="1.5"/><line x1="483.40" y1="565.90" x2="488.40" y2="565.90" stroke="#111" stroke-width="1.5"/><line x1="483.40" y1="525.30" x2="488.40" y2="525.30" stroke="#111" stroke-width="1.5"/><line x1="483.40" y1="484.70" x2="488.40" y2="484.70" stroke="#111" stroke-width="1.5"/><line x1="483.40" y1="444.10" x2="488.40" y2="444.10" stroke="#111" stroke-width="1.5"/><line x1="483.40" y1="403.50" x2="488.40" y2="403.50" stroke="#111" stroke-width="1.5"/><line x1="483.40" y1="362.90" x2="488.40" y2="362.90" stroke="#111" stroke-width="1.5"/><line x1="483.40" y1="626.80" x2="486.40" y2="626.80" stroke="#111" stroke-width="1.5"/><line x1="483.40" y1="586.20" x2="486.40" y2="586.20" stroke="#111" stroke-width="1.5"/><line x1="483.40" y1="545.60" x2="486.40" y2="545.60" stroke="#111" stroke-width="1.5"/><line x1="483.40" y1="505.00" x2="486.40" y2="505.00" stroke="#111" stroke-width="1.5"/><line x1="483.40" y1="464.40" x2="486.40" y2="464.40" stroke="#111" stroke-width="1.5"/><line x1="483.40" y1="423.80" x2="486.40" y2="423.80" stroke="#111" stroke-width="1.5"/><line x1="483.40" y1="383.20" x2="486.40" y2="383.20" stroke="#111" stroke-width="1.5"/><line x1="483.40" y1="342.60" x2="486.40" y2="342.60" stroke="#111" stroke-width="1.5"/><text x="483.40" y="642.40" text-anchor="middle" font-size="11.5" style="font-family:'Liberation Sans',sans-serif;font-weight:bold;stroke:#000;stroke-width:0.3px">0</text><text x="553.94" y="642.40" text-anchor="middle" font-size="11.5" style="font-family:'Liberation Sans',sans-serif;font-weight:bold;stroke:#000;stroke-width:0.3px">20000</text><text x="624.48" y="642.40" text-anchor="middle" font-size="11.5" style="font-family:'Liberation Sans',sans-serif;font-weight:bold;stroke:#000;stroke-width:0.3px">40000</text><text x="695.02" y="642.40" text-anchor="middle" font-size="11.5" style="font-family:'Liberation Sans',sans-serif;font-weight:bold;stroke:#000;stroke-width:0.3px">60000</text><text x="765.56" y="642.40" text-anchor="middle" font-size="11.5" style="font-family:'Liberation Sans',sans-serif;font-weight:bold;stroke:#000;stroke-width:0.3px">80000</text><text x="836.10" y="642.40" text-anchor="middle" font-size="11.5" style="font-family:'Liberation Sans',sans-serif;font-weight:bold;stroke:#000;stroke-width:0.3px">100000</text><text x="477.60" y="609.90" text-anchor="end" font-size="11.5" style="font-family:'Liberation Sans',sans-serif;font-weight:bold;stroke:#000;stroke-width:0.3px">2.04</text><text x="477.60" y="569.30" text-anchor="end" font-size="11.5" style="font-family:'Liberation Sans',sans-serif;font-weight:bold;stroke:#000;stroke-width:0.3px">2.06</text><text x="477.60" y="528.70" text-anchor="end" font-size="11.5" style="font-family:'Liberation Sans',sans-serif;font-weight:bold;stroke:#000;stroke-width:0.3px">2.08</text><text x="477.60" y="488.10" text-anchor="end" font-size="11.5" style="font-family:'Liberation Sans',sans-serif;font-weight:bold;stroke:#000;stroke-width:0.3px">2.10</text><text x="477.60" y="447.50" text-anchor="end" font-size="11.5" style="font-family:'Liberation Sans',sans-serif;font-weight:bold;stroke:#000;stroke-width:0.3px">2.12</text><text x="477.60" y="406.90" text-anchor="end" font-size="11.5" style="font-family:'Liberation Sans',sans-serif;font-weight:bold;stroke:#000;stroke-width:0.3px">2.14</text><text x="477.60" y="366.30" text-anchor="end" font-size="11.5" style="font-family:'Liberation Sans',sans-serif;font-weight:bold;stroke:#000;stroke-width:0.3px">2.16</text><text x="659.80" y="665.20" text-anchor="middle" font-size="14.4" style="font-family:'Liberation Sans',sans-serif;font-weight:bold;stroke:#000;stroke-width:0.3px">Time (ps)</text><text transform="translate(437.20,475.80) rotate(-90)" text-anchor="middle" font-size="14.4" style="font-family:'Liberation Sans',sans-serif;font-weight:bold;stroke:#000;stroke-width:0.3px">Rg (nm)</text><text x="497.70" y="363.50" font-size="22" style="font-family:'Liberation Serif',serif;font-weight:bold">d)</text><rect x="483.40" y="342.60" width="352.70" height="284.20" fill="none" stroke="#111" stroke-width="1.7"/><path d="M484.20 460.1 L484.50 536.7 L484.80 464.7 L485.10 541.9 L485.40 465.4 L485.70 520.8 L486.00 459.6 L486.30 544.5 L486.60 448.3 L486.90 543.7 L487.20 471.9 L487.50 540.2 L487.80 463.1 L488.10 556.4 L488.40 449.8 L488.70 543.6 L489.00 442.2 L489.30 510.1 L489.60 437.7 L489.90 513.1 L490.20 448.3 L490.50 499.7 L490.80 477.0 L491.10 504.3 L491.40 448.3 L491.70 501.4 L492.00 453.8 L492.30 528.4 L492.60 467.3 L492.90 522.9 L493.20 461.4 L493.50 520.0 L493.80 482.5 L494.10 538.0 L494.40 469.3 L494.70 535.6 L495.00 459.0 L495.30 533.6 L495.60 477.2 L495.90 517.7 L496.20 474.4 L496.50 532.7 L496.80 460.1 L497.10 529.2 L497.40 461.7 L497.70 525.2 L498.00 469.2 L498.30 526.2 L498.60 488.0 L498.90 528.6 L499.20 488.9 L499.50 521.4 L499.80 487.8 L500.10 526.9 L500.40 458.8 L500.70 522.3 L501.00 461.6 L501.30 537.2 L501.60 489.4 L501.90 522.9 L502.20 446.2 L502.50 516.8 L502.80 483.9 L503.10 542.0 L503.40 481.6 L503.70 504.0 L504.00 480.4 L504.30 540.0 L504.60 476.6 L504.90 548.7 L505.20 467.9 L505.50 504.0 L505.80 450.7 L506.10 521.7 L506.40 433.3 L506.70 503.5 L507.00 449.7 L507.30 544.1 L507.60 450.9 L507.90 546.7 L508.20 445.1 L508.50 510.1 L508.80 433.7 L509.10 516.9 L509.40 469.8 L509.70 497.7 L510.00 428.6 L510.30 501.6 L510.60 467.5 L510.90 512.2 L511.20 438.7 L511.50 534.1 L511.80 476.5 L512.10 536.6 L512.40 470.5 L512.70 506.1 L513.00 464.3 L513.30 510.9 L513.60 487.3 L513.90 509.8 L514.20 491.0 L514.50 519.2 L514.80 459.6 L515.10 508.9 L515.40 460.4 L515.70 518.3 L516.00 468.9 L516.30 532.2 L516.60 470.7 L516.90 536.8 L517.20 485.6 L517.50 535.0 L517.80 496.5 L518.10 518.2 L518.40 493.0 L518.70 521.3 L519.00 477.9 L519.30 522.2 L519.60 482.7 L519.90 512.3 L520.20 478.3 L520.50 513.9 L520.80 497.0 L521.10 528.0 L521.40 482.3 L521.70 510.2 L522.00 492.8 L522.30 511.5 L522.60 466.0 L522.90 515.7 L523.20 487.7 L523.50 516.2 L523.80 470.9 L524.10 506.4 L524.40 462.5 L524.70 524.9 L525.00 458.9 L525.30 502.0 L525.60 468.2 L525.90 501.2 L526.20 456.7 L526.50 504.3 L526.80 469.7 L527.10 515.1 L527.40 459.1 L527.70 486.9 L528.00 464.9 L528.30 483.9 L528.60 450.9 L528.90 484.8 L529.20 454.7 L529.50 502.6 L529.80 451.4 L530.10 497.4 L530.40 450.9 L530.70 472.9 L531.00 437.8 L531.30 483.5 L531.60 447.9 L531.90 465.5 L532.20 432.2 L532.50 487.3 L532.80 435.0 L533.10 473.9 L533.40 429.3 L533.70 464.2 L534.00 446.5 L534.30 485.0 L534.60 434.2 L534.90 480.1 L535.20 443.2 L535.50 488.6 L535.80 447.4 L536.10 469.6 L536.40 429.6 L536.70 485.1 L537.00 446.4 L537.30 471.7 L537.60 436.4 L537.90 466.2 L538.20 439.2 L538.50 460.1 L538.80 416.4 L539.10 480.4 L539.40 410.3 L539.70 470.1 L540.00 427.2 L540.30 463.4 L540.60 413.2 L540.90 462.8 L541.20 414.6 L541.50 485.5 L541.80 421.2 L542.10 475.5 L542.40 425.6 L542.70 452.3 L543.00 418.4 L543.30 462.0 L543.60 410.9 L543.90 460.5 L544.20 402.4 L544.50 484.0 L544.80 409.1 L545.10 404.2 L545.40 418.6 L545.70 468.8 L546.00 419.5 L546.30 480.6 L546.60 443.1 L546.90 478.5 L547.20 441.4 L547.50 485.9 L547.80 421.0 L548.10 457.5 L548.40 421.5 L548.70 460.8 L549.00 407.4 L549.30 491.2 L549.60 435.3 L549.90 463.8 L550.20 434.4 L550.50 487.9 L550.80 439.6 L551.10 479.5 L551.40 417.4 L551.70 489.5 L552.00 448.9 L552.30 474.1 L552.60 429.3 L552.90 492.2 L553.20 430.9 L553.50 494.2 L553.80 417.0 L554.10 490.9 L554.40 427.5 L554.70 462.3 L555.00 450.2 L555.30 496.9 L555.60 438.5 L555.90 468.4 L556.20 456.0 L556.50 494.1 L556.80 428.3 L557.10 495.1 L557.40 457.5 L557.70 504.7 L558.00 442.2 L558.30 469.0 L558.60 450.7 L558.90 472.9 L559.20 436.0 L559.50 506.8 L559.80 416.6 L560.10 471.9 L560.40 438.0 L560.70 505.2 L561.00 415.3 L561.30 486.6 L561.60 433.3 L561.90 499.1 L562.20 435.2 L562.50 497.0 L562.80 431.9 L563.10 498.0 L563.40 425.3 L563.70 499.4 L564.00 432.5 L564.30 516.5 L564.60 408.6 L564.90 481.0 L565.20 443.5 L565.50 512.7 L565.80 414.3 L566.10 510.3 L566.40 395.8 L566.70 480.4 L567.00 394.9 L567.30 479.7 L567.60 450.8 L567.90 396.5 L568.20 446.2 L568.50 516.8 L568.80 441.7 L569.10 519.5 L569.40 438.4 L569.70 509.7 L570.00 410.8 L570.30 520.9 L570.60 452.2 L570.90 495.3 L571.20 445.8 L571.50 495.8 L571.80 464.9 L572.10 521.2 L572.40 448.3 L572.70 497.7 L573.00 433.7 L573.30 498.1 L573.60 432.9 L573.90 490.9 L574.20 444.6 L574.50 494.6 L574.80 460.9 L575.10 487.9 L575.40 433.2 L575.70 494.9 L576.00 442.5 L576.30 523.6 L576.60 439.3 L576.90 513.2 L577.20 430.6 L577.50 483.9 L577.80 431.7 L578.10 507.3 L578.40 455.2 L578.70 489.0 L579.00 421.9 L579.30 496.1 L579.60 422.2 L579.90 508.4 L580.20 464.7 L580.50 532.4 L580.80 472.4 L581.10 520.5 L581.40 458.7 L581.70 424.0 L582.00 427.3 L582.30 529.0 L582.60 464.2 L582.90 537.6 L583.20 474.8 L583.50 498.7 L583.80 452.9 L584.10 531.7 L584.40 435.8 L584.70 535.7 L585.00 479.9 L585.30 525.4 L585.60 451.8 L585.90 507.1 L586.20 454.6 L586.50 495.0 L586.80 453.9 L587.10 494.6 L587.40 478.6 L587.70 523.7 L588.00 447.0 L588.30 518.2 L588.60 483.4 L588.90 515.8 L589.20 447.2 L589.50 515.0 L589.80 461.3 L590.10 499.4 L590.40 468.3 L590.70 529.4 L591.00 459.4 L591.30 517.7 L591.60 478.3 L591.90 523.1 L592.20 478.3 L592.50 526.8 L592.80 464.9 L593.10 509.7 L593.40 478.0 L593.70 525.1 L594.00 468.3 L594.30 516.2 L594.60 485.0 L594.90 514.8 L595.20 491.2 L595.50 497.4 L595.80 466.3 L596.10 512.6 L596.40 461.2 L596.70 506.8 L597.00 465.6 L597.30 518.2 L597.60 472.4 L597.90 518.7 L598.20 448.6 L598.50 512.9 L598.80 454.7 L599.10 506.5 L599.40 432.9 L599.70 491.3 L600.00 428.2 L600.30 501.3 L600.60 458.7 L600.90 509.9 L601.20 451.1 L601.50 504.7 L601.80 467.1 L602.10 491.2 L602.40 454.6 L602.70 515.6 L603.00 442.6 L603.30 497.1 L603.60 470.6 L603.90 490.2 L604.20 468.9 L604.50 517.4 L604.80 480.6 L605.10 500.9 L605.40 471.8 L605.70 498.0 L606.00 485.3 L606.30 492.2 L606.60 445.2 L606.90 512.4 L607.20 474.4 L607.50 501.4 L607.80 474.6 L608.10 515.4 L608.40 468.7 L608.70 494.4 L609.00 474.2 L609.30 501.8 L609.60 472.7 L609.90 506.3 L610.20 469.1 L610.50 497.1 L610.80 472.1 L611.10 499.1 L611.40 478.2 L611.70 498.9 L612.00 480.7 L612.30 501.8 L612.60 485.5 L612.90 512.1 L613.20 467.4 L613.50 498.4 L613.80 470.8 L614.10 493.3 L614.40 477.9 L614.70 513.5 L615.00 472.9 L615.30 515.9 L615.60 462.6 L615.90 514.4 L616.20 472.6 L616.50 516.3 L616.80 466.6 L617.10 493.9 L617.40 481.6 L617.70 496.5 L618.00 475.4 L618.30 517.9 L618.60 465.2 L618.90 494.0 L619.20 458.9 L619.50 514.1 L619.80 478.3 L620.10 513.8 L620.40 475.0 L620.70 507.5 L621.00 455.3 L621.30 499.9 L621.60 480.9 L621.90 525.7 L622.20 468.2 L622.50 504.8 L622.80 456.2 L623.10 525.2 L623.40 460.1 L623.70 537.5 L624.00 457.9 L624.30 522.6 L624.60 471.0 L624.90 516.8 L625.20 462.7 L625.50 521.9 L625.80 484.9 L626.10 525.3 L626.40 461.2 L626.70 501.7 L627.00 464.2 L627.30 526.3 L627.60 483.0 L627.90 509.7 L628.20 474.5 L628.50 519.6 L628.80 492.6 L629.10 524.4 L629.40 493.5 L629.70 510.5 L630.00 469.6 L630.30 522.5 L630.60 468.9 L630.90 521.5 L631.20 487.1 L631.50 519.5 L631.80 483.2 L632.10 518.9 L632.40 471.7 L632.70 515.9 L633.00 477.8 L633.30 517.2 L633.60 475.0 L633.90 509.4 L634.20 481.8 L634.50 511.3 L634.80 497.2 L635.10 524.8 L635.40 484.0 L635.70 514.9 L636.00 481.0 L636.30 524.7 L636.60 483.7 L636.90 518.1 L637.20 489.4 L637.50 522.6 L637.80 474.4 L638.10 530.3 L638.40 471.0 L638.70 530.2 L639.00 499.4 L639.30 512.3 L639.60 469.7 L639.90 522.0 L640.20 485.0 L640.50 520.5 L640.80 497.4 L641.10 527.8 L641.40 487.3 L641.70 540.0 L642.00 497.4 L642.30 519.8 L642.60 490.2 L642.90 532.6 L643.20 492.9 L643.50 512.5 L643.80 484.2 L644.10 521.1 L644.40 494.8 L644.70 528.6 L645.00 480.7 L645.30 511.7 L645.60 495.2 L645.90 516.6 L646.20 502.0 L646.50 519.8 L646.80 486.5 L647.10 532.1 L647.40 497.0 L647.70 526.7 L648.00 472.4 L648.30 509.9 L648.60 465.1 L648.90 534.6 L649.20 479.9 L649.50 538.5 L649.80 451.2 L650.10 516.1 L650.40 452.3 L650.70 536.8 L651.00 462.4 L651.30 514.6 L651.60 466.5 L651.90 499.0 L652.20 467.3 L652.50 504.4 L652.80 463.2 L653.10 438.5 L653.40 464.7 L653.70 507.7 L654.00 467.4 L654.30 510.1 L654.60 459.6 L654.90 527.9 L655.20 474.7 L655.50 520.0 L655.80 463.9 L656.10 511.0 L656.40 467.6 L656.70 517.8 L657.00 473.3 L657.30 519.9 L657.60 485.9 L657.90 510.4 L658.20 484.6 L658.50 526.0 L658.80 473.5 L659.10 509.3 L659.40 481.3 L659.70 512.7 L660.00 474.5 L660.30 508.1 L660.60 477.8 L660.90 530.0 L661.20 491.0 L661.50 516.5 L661.80 476.1 L662.10 527.0 L662.40 478.8 L662.70 525.3 L663.00 478.7 L663.30 517.4 L663.60 497.0 L663.90 525.1 L664.20 498.9 L664.50 517.2 L664.80 496.8 L665.10 518.2 L665.40 497.2 L665.70 528.2 L666.00 478.0 L666.30 516.2 L666.60 493.2 L666.90 525.8 L667.20 478.7 L667.50 522.2 L667.80 488.4 L668.10 523.0 L668.40 473.5 L668.70 520.4 L669.00 466.6 L669.30 499.2 L669.60 472.9 L669.90 524.3 L670.20 459.5 L670.50 524.6 L670.80 454.4 L671.10 522.7 L671.40 475.4 L671.70 525.7 L672.00 452.4 L672.30 509.0 L672.60 461.9 L672.90 491.6 L673.20 474.5 L673.50 523.5 L673.80 462.2 L674.10 513.5 L674.40 455.5 L674.70 520.0 L675.00 462.1 L675.30 525.1 L675.60 459.7 L675.90 502.5 L676.20 491.0 L676.50 530.3 L676.80 464.4 L677.10 524.6 L677.40 463.2 L677.70 528.3 L678.00 486.7 L678.30 505.7 L678.60 454.0 L678.90 530.0 L679.20 463.7 L679.50 518.2 L679.80 468.6 L680.10 520.0 L680.40 454.8 L680.70 511.7 L681.00 482.0 L681.30 490.9 L681.60 479.5 L681.90 495.2 L682.20 474.6 L682.50 499.4 L682.80 456.4 L683.10 499.5 L683.40 435.1 L683.70 520.6 L684.00 460.9 L684.30 499.8 L684.60 478.5 L684.90 501.1 L685.20 483.3 L685.50 508.6 L685.80 456.8 L686.10 499.6 L686.40 462.0 L686.70 535.0 L687.00 481.2 L687.30 533.4 L687.60 477.1 L687.90 512.9 L688.20 460.5 L688.50 518.1 L688.80 466.5 L689.10 536.3 L689.40 485.2 L689.70 517.1 L690.00 464.7 L690.30 532.4 L690.60 491.3 L690.90 530.5 L691.20 486.8 L691.50 539.5 L691.80 464.2 L692.10 525.9 L692.40 465.9 L692.70 535.9 L693.00 499.3 L693.30 524.9 L693.60 474.1 L693.90 514.3 L694.20 488.1 L694.50 535.6 L694.80 487.3 L695.10 543.8 L695.40 502.3 L695.70 545.5 L696.00 500.3 L696.30 531.1 L696.60 487.3 L696.90 533.2 L697.20 481.6 L697.50 542.3 L697.80 551.5 L698.10 531.6 L698.40 482.5 L698.70 520.9 L699.00 493.7 L699.30 546.1 L699.60 486.1 L699.90 527.1 L700.20 503.1 L700.50 518.2 L700.80 492.7 L701.10 521.0 L701.40 485.8 L701.70 544.5 L702.00 505.0 L702.30 518.1 L702.60 490.8 L702.90 536.9 L703.20 495.9 L703.50 519.4 L703.80 493.7 L704.10 528.5 L704.40 468.2 L704.70 527.5 L705.00 475.6 L705.30 535.3 L705.60 498.2 L705.90 529.5 L706.20 479.8 L706.50 523.1 L706.80 477.9 L707.10 514.1 L707.40 495.2 L707.70 513.9 L708.00 500.1 L708.30 532.0 L708.60 486.7 L708.90 512.2 L709.20 497.2 L709.50 525.6 L709.80 493.5 L710.10 531.8 L710.40 473.5 L710.70 526.2 L711.00 492.9 L711.30 516.8 L711.60 471.9 L711.90 509.4 L712.20 495.1 L712.50 505.4 L712.80 480.1 L713.10 526.2 L713.40 489.0 L713.70 514.7 L714.00 484.9 L714.30 522.9 L714.60 490.3 L714.90 514.9 L715.20 481.4 L715.50 503.4 L715.80 493.9 L716.10 516.2 L716.40 476.0 L716.70 505.4 L717.00 487.8 L717.30 510.8 L717.60 487.0 L717.90 511.3 L718.20 487.2 L718.50 516.6 L718.80 472.8 L719.10 524.3 L719.40 477.9 L719.70 528.1 L720.00 478.9 L720.30 505.7 L720.60 467.4 L720.90 507.3 L721.20 479.5 L721.50 517.1 L721.80 472.8 L722.10 526.1 L722.40 468.7 L722.70 535.3 L723.00 492.5 L723.30 528.8 L723.60 489.7 L723.90 526.9 L724.20 489.0 L724.50 558.4 L724.80 493.3 L725.10 560.5 L725.40 495.2 L725.70 522.6 L726.00 462.3 L726.30 520.2 L726.60 448.4 L726.90 542.5 L727.20 442.5 L727.50 516.5 L727.80 468.5 L728.10 544.0 L728.40 443.8 L728.70 509.2 L729.00 446.2 L729.30 540.5 L729.60 474.8 L729.90 531.5 L730.20 446.5 L730.50 506.5 L730.80 443.9 L731.10 435.1 L731.40 439.6 L731.70 518.9 L732.00 480.3 L732.30 527.8 L732.60 451.9 L732.90 493.4 L733.20 462.7 L733.50 505.9 L733.80 484.3 L734.10 526.1 L734.40 484.9 L734.70 519.6 L735.00 468.8 L735.30 523.2 L735.60 470.8 L735.90 526.2 L736.20 458.4 L736.50 505.2 L736.80 460.9 L737.10 530.5 L737.40 457.5 L737.70 503.3 L738.00 469.8 L738.30 496.3 L738.60 440.2 L738.90 531.0 L739.20 452.5 L739.50 529.2 L739.80 475.5 L740.10 424.8 L740.40 458.7 L740.70 517.2 L741.00 435.1 L741.30 505.9 L741.60 425.1 L741.90 530.1 L742.20 470.7 L742.50 504.0 L742.80 454.9 L743.10 507.3 L743.40 482.4 L743.70 518.6 L744.00 484.6 L744.30 524.2 L744.60 471.6 L744.90 510.5 L745.20 470.5 L745.50 524.4 L745.80 488.6 L746.10 506.6 L746.40 487.9 L746.70 504.4 L747.00 484.6 L747.30 514.6 L747.60 474.6 L747.90 517.2 L748.20 471.5 L748.50 513.1 L748.80 473.6 L749.10 512.4 L749.40 477.8 L749.70 509.6 L750.00 470.7 L750.30 513.8 L750.60 473.0 L750.90 498.1 L751.20 467.1 L751.50 503.8 L751.80 472.7 L752.10 498.5 L752.40 468.6 L752.70 504.0 L753.00 472.2 L753.30 512.3 L753.60 474.0 L753.90 506.6 L754.20 484.4 L754.50 502.9 L754.80 492.5 L755.10 509.4 L755.40 482.6 L755.70 524.0 L756.00 483.9 L756.30 515.8 L756.60 481.5 L756.90 502.7 L757.20 463.9 L757.50 519.5 L757.80 485.6 L758.10 520.6 L758.40 496.9 L758.70 536.4 L759.00 491.0 L759.30 519.7 L759.60 502.7 L759.90 517.7 L760.20 496.7 L760.50 521.6 L760.80 486.7 L761.10 522.6 L761.40 486.2 L761.70 542.0 L762.00 495.6 L762.30 546.4 L762.60 477.5 L762.90 527.4 L763.20 478.9 L763.50 539.4 L763.80 493.7 L764.10 538.8 L764.40 499.3 L764.70 531.1 L765.00 493.9 L765.30 536.4 L765.60 501.0 L765.90 513.7 L766.20 471.9 L766.50 526.5 L766.80 494.5 L767.10 535.5 L767.40 462.4 L767.70 515.4 L768.00 483.1 L768.30 539.4 L768.60 457.8 L768.90 536.0 L769.20 486.3 L769.50 537.1 L769.80 462.9 L770.10 513.7 L770.40 436.2 L770.70 497.6 L771.00 433.4 L771.30 532.5 L771.60 461.5 L771.90 530.3 L772.20 430.8 L772.50 511.9 L772.80 446.5 L773.10 514.0 L773.40 470.7 L773.70 527.4 L774.00 477.4 L774.30 528.2 L774.60 464.7 L774.90 534.0 L775.20 483.9 L775.50 527.8 L775.80 479.5 L776.10 533.2 L776.40 486.0 L776.70 516.8 L777.00 478.6 L777.30 534.4 L777.60 482.6 L777.90 511.3 L778.20 473.7 L778.50 517.8 L778.80 484.7 L779.10 510.9 L779.40 477.3 L779.70 539.2 L780.00 481.0 L780.30 535.8 L780.60 499.6 L780.90 535.1 L781.20 501.3 L781.50 520.0 L781.80 481.3 L782.10 542.5 L782.40 485.8 L782.70 534.2 L783.00 502.3 L783.30 522.0 L783.60 480.0 L783.90 537.0 L784.20 490.2 L784.50 542.8 L784.80 507.4 L785.10 523.4 L785.40 495.4 L785.70 539.4 L786.00 482.1 L786.30 526.9 L786.60 483.5 L786.90 521.3 L787.20 548.1 L787.50 550.5 L787.80 497.4 L788.10 519.1 L788.40 492.3 L788.70 534.8 L789.00 504.5 L789.30 525.9 L789.60 462.6 L789.90 527.1 L790.20 492.4 L790.50 530.4 L790.80 506.7 L791.10 524.0 L791.40 504.1 L791.70 539.7 L792.00 503.0 L792.30 529.6 L792.60 493.9 L792.90 522.5 L793.20 488.2 L793.50 519.1 L793.80 495.3 L794.10 531.1 L794.40 504.2 L794.70 538.6 L795.00 493.8 L795.30 510.3 L795.60 476.6 L795.90 515.0 L796.20 477.4 L796.50 531.2 L796.80 500.6 L797.10 535.9 L797.40 485.9 L797.70 531.7 L798.00 497.7 L798.30 522.2 L798.60 480.0 L798.90 511.5 L799.20 469.4 L799.50 539.8 L799.80 465.0 L800.10 502.0 L800.40 480.7 L800.70 502.3 L801.00 475.6 L801.30 529.1 L801.60 456.5 L801.90 515.0 L802.20 453.5 L802.50 500.0 L802.80 479.8 L803.10 502.1 L803.40 467.8 L803.70 507.9 L804.00 445.0 L804.30 490.1 L804.60 466.5 L804.90 507.0 L805.20 424.8 L805.50 513.7 L805.80 470.0 L806.10 506.5 L806.40 458.0 L806.70 487.7 L807.00 453.8 L807.30 479.2 L807.60 423.8 L807.90 513.2 L808.20 439.2 L808.50 516.6 L808.80 436.7 L809.10 519.0 L809.40 439.1 L809.70 482.8 L810.00 462.4 L810.30 486.5 L810.60 450.9 L810.90 483.0 L811.20 452.5 L811.50 497.9 L811.80 452.4 L812.10 522.1 L812.40 462.4 L812.70 504.1 L813.00 469.6 L813.30 497.9 L813.60 466.8 L813.90 517.6 L814.20 453.5 L814.50 495.4 L814.80 447.9 L815.10 489.3 L815.40 471.6 L815.70 505.1 L816.00 450.7 L816.30 506.2 L816.60 450.1 L816.90 507.0 L817.20 446.3 L817.50 484.1 L817.80 455.4 L818.10 515.2 L818.40 441.9 L818.70 509.3 L819.00 452.9 L819.30 509.5 L819.60 453.4 L819.90 497.1 L820.20 435.2 L820.50 492.6 L820.80 433.8 L821.10 502.7 L821.40 459.1 L821.70 507.0 L822.00 460.0 L822.30 482.3 L822.60 434.8 L822.90 496.9 L823.20 447.4 L823.50 510.7 L823.80 445.4 L824.10 507.2 L824.40 427.1 L824.70 492.4 L825.00 428.1 L825.30 471.2 L825.60 457.6 L825.90 469.2 L826.20 440.2 L826.50 501.8 L826.80 439.3 L827.10 474.3 L827.40 441.0 L827.70 464.4 L828.00 447.1 L828.30 468.1 L828.60 449.3 L828.90 472.3 L829.20 431.6 L829.50 479.9 L829.80 423.1 L830.10 482.3 L830.40 450.8 L830.70 470.0 L831.00 442.9 L831.30 473.3 L831.60 435.9 L831.90 492.5 L832.20 452.3 L832.50 490.1 L832.80 429.0 L833.10 484.4 L833.40 439.6 L833.70 468.8 L834.00 436.3 L834.30 466.9 L834.60 443.8 L834.90 475.1 L835.20 428.7 L835.50 484.7" fill="none" stroke="#ff00ff" stroke-width="1.35" stroke-linejoin="miter" stroke-miterlimit="2"/>
<path d="M483.90 606.0 L484.10 560.0 L484.30 590.0 L484.60 477.8 L484.90 536.5 L485.20 466.4 L485.50 504.6 L485.80 478.7 L486.10 529.4 L486.40 473.1 L486.70 514.8 L487.00 488.4 L487.30 505.7 L487.60 457.9 L487.90 504.6 L488.20 456.4 L488.50 518.6 L488.80 458.2 L489.10 537.7 L489.40 481.9 L489.70 496.9 L490.00 473.4 L490.30 506.0 L490.60 463.3 L490.90 512.7 L491.20 449.4 L491.50 516.9 L491.80 462.1 L492.10 481.1 L492.40 416.0 L492.70 405.7 L493.00 461.9 L493.30 481.8 L493.60 419.5 L493.90 519.5 L494.20 402.5 L494.50 476.2 L494.80 438.3 L495.10 505.7 L495.40 439.9 L495.70 471.8 L496.00 443.7 L496.30 483.4 L496.60 453.0 L496.90 527.5 L497.20 411.7 L497.50 522.9 L497.80 439.9 L498.10 491.7 L498.40 433.7 L498.70 529.0 L499.00 428.1 L499.30 514.8 L499.60 440.9 L499.90 529.6 L500.20 467.5 L500.50 497.9 L500.80 465.8 L501.10 521.2 L501.40 429.9 L501.70 508.0 L502.00 476.1 L502.30 500.7 L502.60 457.9 L502.90 506.9 L503.20 477.8 L503.50 535.7 L503.80 467.2 L504.10 510.4 L504.40 470.5 L504.70 514.1 L505.00 468.4 L505.30 493.0 L505.60 461.2 L505.90 499.4 L506.20 436.4 L506.50 512.5 L506.80 467.0 L507.10 500.1 L507.40 467.1 L507.70 527.9 L508.00 467.1 L508.30 527.2 L508.60 442.1 L508.90 537.6 L509.20 469.7 L509.50 541.5 L509.80 465.8 L510.10 540.6 L510.40 459.9 L510.70 508.9 L511.00 469.0 L511.30 532.3 L511.60 461.6 L511.90 543.0 L512.20 489.3 L512.50 544.5 L512.80 472.9 L513.10 543.7 L513.40 465.8 L513.70 531.7 L514.00 463.7 L514.30 551.8 L514.60 561.3 L514.90 514.0 L515.20 473.4 L515.50 545.4 L515.80 475.3 L516.10 559.0 L516.40 464.4 L516.70 532.6 L517.00 497.7 L517.30 549.3 L517.60 470.4 L517.90 539.3 L518.20 466.8 L518.50 524.1 L518.80 503.6 L519.10 531.9 L519.40 466.1 L519.70 539.3 L520.00 487.0 L520.30 528.9 L520.60 502.9 L520.90 548.4 L521.20 496.8 L521.50 518.8 L521.80 498.6 L522.10 536.1 L522.40 495.4 L522.70 548.4 L523.00 494.8 L523.30 549.6 L523.60 474.5 L523.90 546.4 L524.20 480.0 L524.50 521.3 L524.80 490.2 L525.10 530.6 L525.40 472.9 L525.70 513.1 L526.00 475.9 L526.30 519.8 L526.60 486.1 L526.90 546.1 L527.20 493.3 L527.50 536.2 L527.80 470.5 L528.10 542.4 L528.40 505.9 L528.70 555.2 L529.00 491.3 L529.30 534.6 L529.60 507.5 L529.90 526.4 L530.20 494.1 L530.50 553.6 L530.80 506.4 L531.10 548.5 L531.40 499.0 L531.70 551.1 L532.00 501.0 L532.30 518.1 L532.60 473.2 L532.90 534.0 L533.20 481.3 L533.50 545.5 L533.80 496.2 L534.10 508.6 L534.40 483.6 L534.70 544.7 L535.00 461.4 L535.30 525.9 L535.60 472.8 L535.90 542.1 L536.20 481.6 L536.50 511.8 L536.80 473.6 L537.10 542.7 L537.40 455.6 L537.70 520.6 L538.00 471.6 L538.30 514.5 L538.60 484.2 L538.90 527.4 L539.20 484.5 L539.50 508.8 L539.80 468.0 L540.10 502.8 L540.40 474.4 L540.70 519.2 L541.00 462.8 L541.30 515.9 L541.60 494.2 L541.90 543.0 L542.20 472.4 L542.50 546.9 L542.80 475.5 L543.10 513.0 L543.40 458.5 L543.70 548.2 L544.00 454.7 L544.30 552.4 L544.60 463.8 L544.90 549.1 L545.20 470.4 L545.50 547.4 L545.80 463.8 L546.10 542.3 L546.40 495.3 L546.70 507.0 L547.00 491.1 L547.30 521.5 L547.60 475.3 L547.90 515.5 L548.20 464.6 L548.50 515.6 L548.80 464.7 L549.10 528.4 L549.40 483.5 L549.70 525.0 L550.00 495.3 L550.30 530.5 L550.60 489.7 L550.90 510.8 L551.20 478.7 L551.50 529.6 L551.80 460.1 L552.10 533.2 L552.40 472.8 L552.70 505.6 L553.00 469.4 L553.30 510.5 L553.60 460.2 L553.90 530.5 L554.20 483.5 L554.50 531.0 L554.80 480.0 L555.10 497.3 L555.40 451.5 L555.70 502.0 L556.00 444.6 L556.30 490.9 L556.60 468.0 L556.90 517.7 L557.20 444.3 L557.50 516.2 L557.80 464.6 L558.10 511.2 L558.40 457.5 L558.70 515.9 L559.00 442.1 L559.30 520.2 L559.60 445.7 L559.90 495.4 L560.20 451.6 L560.50 517.2 L560.80 440.3 L561.10 476.9 L561.40 440.0 L561.70 513.2 L562.00 437.1 L562.30 417.9 L562.60 447.5 L562.90 511.3 L563.20 424.1 L563.50 477.8 L563.80 443.8 L564.10 502.3 L564.40 465.0 L564.70 508.1 L565.00 447.2 L565.30 496.0 L565.60 460.2 L565.90 493.6 L566.20 434.6 L566.50 496.9 L566.80 441.0 L567.10 510.1 L567.40 440.3 L567.70 480.9 L568.00 466.5 L568.30 510.3 L568.60 468.7 L568.90 505.8 L569.20 454.5 L569.50 512.9 L569.80 448.7 L570.10 513.1 L570.40 462.4 L570.70 512.8 L571.00 468.8 L571.30 518.6 L571.60 452.5 L571.90 514.1 L572.20 466.7 L572.50 518.9 L572.80 469.7 L573.10 513.4 L573.40 459.8 L573.70 495.4 L574.00 449.5 L574.30 504.9 L574.60 466.2 L574.90 513.9 L575.20 458.0 L575.50 523.4 L575.80 455.0 L576.10 519.5 L576.40 469.3 L576.70 523.2 L577.00 441.6 L577.30 524.1 L577.60 445.9 L577.90 509.1 L578.20 463.7 L578.50 521.6 L578.80 463.4 L579.10 521.3 L579.40 464.5 L579.70 504.8 L580.00 473.2 L580.30 496.0 L580.60 437.5 L580.90 507.3 L581.20 453.5 L581.50 490.4 L581.80 461.3 L582.10 492.7 L582.40 464.8 L582.70 519.7 L583.00 440.3 L583.30 484.3 L583.60 452.6 L583.90 510.8 L584.20 447.5 L584.50 490.5 L584.80 451.0 L585.10 519.7 L585.40 438.5 L585.70 520.4 L586.00 466.8 L586.30 512.7 L586.60 428.0 L586.90 500.6 L587.20 455.4 L587.50 501.1 L587.80 434.9 L588.10 520.1 L588.40 430.4 L588.70 508.3 L589.00 471.4 L589.30 510.6 L589.60 452.4 L589.90 503.4 L590.20 422.4 L590.50 487.0 L590.80 421.5 L591.10 487.4 L591.40 454.7 L591.70 503.3 L592.00 457.6 L592.30 508.3 L592.60 447.2 L592.90 505.4 L593.20 455.4 L593.50 465.7 L593.80 422.3 L594.10 472.9 L594.40 446.4 L594.70 460.0 L595.00 438.1 L595.30 414.8 L595.60 420.7 L595.90 467.9 L596.20 426.4 L596.50 491.5 L596.80 423.4 L597.10 487.5 L597.40 423.5 L597.70 476.3 L598.00 414.0 L598.30 459.9 L598.60 435.2 L598.90 487.1 L599.20 443.6 L599.50 486.4 L599.80 429.0 L600.10 486.8 L600.40 430.5 L600.70 473.1 L601.00 428.1 L601.30 452.9 L601.60 422.0 L601.90 489.9 L602.20 419.6 L602.50 394.0 L602.80 425.6 L603.10 488.0 L603.40 436.2 L603.70 488.4 L604.00 392.2 L604.30 469.4 L604.60 411.5 L604.90 482.7 L605.20 401.4 L605.50 453.3 L605.80 432.3 L606.10 453.6 L606.40 401.2 L606.70 469.8 L607.00 408.8 L607.30 459.3 L607.60 436.0 L607.90 476.1 L608.20 398.7 L608.50 448.3 L608.80 400.7 L609.10 454.8 L609.40 397.4 L609.70 453.1 L610.00 404.2 L610.30 446.4 L610.60 394.8 L610.90 443.4 L611.20 413.0 L611.50 443.3 L611.80 397.3 L612.10 480.2 L612.40 430.0 L612.70 380.3 L613.00 406.6 L613.30 443.1 L613.60 393.6 L613.90 463.0 L614.20 422.4 L614.50 465.2 L614.80 410.5 L615.10 472.9 L615.40 403.3 L615.70 469.0 L616.00 411.0 L616.30 477.2 L616.60 393.2 L616.90 446.0 L617.20 413.6 L617.50 468.5 L617.80 382.2 L618.10 472.3 L618.40 425.3 L618.70 437.9 L619.00 403.2 L619.30 468.2 L619.60 410.3 L619.90 470.2 L620.20 421.9 L620.50 435.8 L620.80 386.6 L621.10 456.8 L621.40 407.6 L621.70 382.0 L622.00 411.3 L622.30 476.1 L622.60 413.3 L622.90 472.8 L623.20 400.7 L623.50 380.3 L623.80 406.4 L624.10 463.3 L624.40 432.5 L624.70 456.8 L625.00 420.5 L625.30 450.0 L625.60 410.3 L625.90 477.4 L626.20 419.3 L626.50 481.4 L626.80 401.5 L627.10 479.5 L627.40 414.7 L627.70 455.9 L628.00 416.0 L628.30 454.9 L628.60 422.5 L628.90 464.8 L629.20 418.9 L629.50 454.7 L629.80 417.7 L630.10 455.5 L630.40 437.7 L630.70 463.6 L631.00 418.9 L631.30 471.7 L631.60 413.5 L631.90 476.2 L632.20 426.0 L632.50 452.9 L632.80 411.8 L633.10 478.8 L633.40 418.5 L633.70 456.1 L634.00 409.4 L634.30 474.5 L634.60 422.0 L634.90 480.4 L635.20 433.5 L635.50 476.4 L635.80 411.2 L636.10 473.5 L636.40 394.0 L636.70 444.2 L637.00 408.9 L637.30 453.6 L637.60 433.1 L637.90 394.0 L638.20 423.9 L638.50 454.3 L638.80 427.7 L639.10 475.6 L639.40 438.9 L639.70 467.6 L640.00 428.4 L640.30 485.2 L640.60 442.9 L640.90 473.4 L641.20 448.2 L641.50 463.0 L641.80 429.5 L642.10 484.0 L642.40 448.4 L642.70 468.3 L643.00 442.7 L643.30 463.8 L643.60 440.7 L643.90 495.3 L644.20 445.3 L644.50 476.9 L644.80 449.7 L645.10 459.3 L645.40 448.7 L645.70 498.3 L646.00 431.3 L646.30 468.9 L646.60 417.3 L646.90 476.6 L647.20 414.7 L647.50 466.5 L647.80 452.1 L648.10 470.2 L648.40 424.9 L648.70 479.9 L649.00 443.1 L649.30 496.4 L649.60 461.3 L649.90 473.8 L650.20 425.9 L650.50 504.7 L650.80 457.2 L651.10 516.0 L651.40 447.6 L651.70 487.6 L652.00 466.7 L652.30 497.4 L652.60 439.1 L652.90 515.2 L653.20 428.2 L653.50 517.9 L653.80 459.6 L654.10 493.5 L654.40 456.2 L654.70 509.5 L655.00 430.8 L655.30 521.0 L655.60 439.8 L655.90 488.9 L656.20 462.9 L656.50 510.1 L656.80 459.8 L657.10 516.8 L657.40 470.1 L657.70 498.5 L658.00 430.9 L658.30 477.3 L658.60 426.3 L658.90 496.8 L659.20 433.4 L659.50 479.5 L659.80 429.9 L660.10 488.5 L660.40 431.3 L660.70 495.2 L661.00 426.2 L661.30 501.0 L661.60 447.2 L661.90 500.0 L662.20 426.9 L662.50 495.2 L662.80 420.5 L663.10 482.4 L663.40 414.5 L663.70 488.4 L664.00 421.2 L664.30 463.3 L664.60 437.0 L664.90 490.0 L665.20 439.9 L665.50 463.8 L665.80 451.6 L666.10 490.6 L666.40 446.3 L666.70 496.7 L667.00 447.0 L667.30 482.5 L667.60 424.5 L667.90 485.0 L668.20 427.4 L668.50 475.7 L668.80 428.0 L669.10 494.3 L669.40 428.6 L669.70 490.0 L670.00 434.3 L670.30 495.1 L670.60 439.3 L670.90 466.6 L671.20 400.3 L671.50 486.2 L671.80 450.7 L672.10 487.4 L672.40 444.1 L672.70 467.1 L673.00 452.9 L673.30 479.4 L673.60 424.1 L673.90 494.1 L674.20 434.6 L674.50 495.1 L674.80 432.7 L675.10 468.4 L675.40 449.4 L675.70 478.1 L676.00 430.7 L676.30 487.3 L676.60 449.0 L676.90 471.8 L677.20 434.5 L677.50 493.2 L677.80 432.4 L678.10 479.0 L678.40 456.1 L678.70 469.1 L679.00 454.6 L679.30 469.4 L679.60 446.5 L679.90 465.0 L680.20 429.9 L680.50 469.2 L680.80 439.6 L681.10 488.6 L681.40 448.2 L681.70 486.0 L682.00 439.2 L682.30 466.1 L682.60 445.1 L682.90 475.0 L683.20 425.5 L683.50 488.4 L683.80 440.1 L684.10 485.7 L684.40 430.1 L684.70 455.7 L685.00 425.5 L685.30 484.6 L685.60 408.3 L685.90 470.1 L686.20 440.5 L686.50 475.5 L686.80 409.4 L687.10 469.0 L687.40 440.9 L687.70 449.9 L688.00 421.7 L688.30 471.2 L688.60 431.4 L688.90 482.9 L689.20 409.8 L689.50 453.7 L689.80 418.7 L690.10 463.8 L690.40 408.9 L690.70 452.6 L691.00 435.8 L691.30 461.5 L691.60 407.2 L691.90 457.1 L692.20 432.1 L692.50 475.7 L692.80 431.3 L693.10 452.8 L693.40 438.7 L693.70 406.0 L694.00 415.8 L694.30 450.4 L694.60 426.6 L694.90 478.8 L695.20 428.0 L695.50 470.0 L695.80 409.0 L696.10 477.3 L696.40 420.0 L696.70 458.0 L697.00 417.5 L697.30 473.5 L697.60 434.8 L697.90 463.4 L698.20 433.0 L698.50 461.6 L698.80 420.9 L699.10 465.5 L699.40 433.5 L699.70 461.4 L700.00 423.8 L700.30 472.5 L700.60 431.8 L700.90 469.7 L701.20 428.5 L701.50 484.8 L701.80 447.1 L702.10 469.3 L702.40 433.5 L702.70 481.3 L703.00 451.3 L703.30 473.2 L703.60 434.3 L703.90 486.5 L704.20 427.9 L704.50 476.6 L704.80 453.7 L705.10 479.5 L705.40 431.7 L705.70 467.1 L706.00 447.7 L706.30 463.0 L706.60 435.7 L706.90 489.6 L707.20 427.4 L707.50 486.3 L707.80 443.1 L708.10 470.1 L708.40 446.3 L708.70 477.2 L709.00 448.7 L709.30 470.0 L709.60 425.3 L709.90 476.5 L710.20 419.7 L710.50 465.8 L710.80 435.6 L711.10 484.0 L711.40 459.8 L711.70 466.8 L712.00 439.2 L712.30 494.7 L712.60 450.3 L712.90 479.1 L713.20 447.7 L713.50 473.9 L713.80 461.9 L714.10 480.2 L714.40 445.9 L714.70 500.4 L715.00 436.5 L715.30 508.5 L715.60 462.8 L715.90 500.3 L716.20 464.9 L716.50 487.4 L716.80 449.5 L717.10 500.7 L717.40 434.1 L717.70 477.2 L718.00 461.0 L718.30 495.7 L718.60 453.2 L718.90 501.1 L719.20 454.0 L719.50 483.4 L719.80 446.3 L720.10 483.1 L720.40 464.9 L720.70 488.3 L721.00 443.1 L721.30 499.3 L721.60 442.8 L721.90 494.8 L722.20 446.8 L722.50 477.4 L722.80 461.8 L723.10 496.7 L723.40 440.0 L723.70 484.0 L724.00 445.6 L724.30 484.9 L724.60 448.8 L724.90 494.1 L725.20 459.4 L725.50 492.9 L725.80 435.6 L726.10 485.7 L726.40 448.3 L726.70 492.7 L727.00 450.2 L727.30 489.7 L727.60 460.5 L727.90 494.4 L728.20 460.8 L728.50 499.8 L728.80 448.1 L729.10 482.1 L729.40 459.1 L729.70 481.1 L730.00 448.4 L730.30 497.5 L730.60 466.2 L730.90 490.9 L731.20 445.6 L731.50 486.2 L731.80 456.6 L732.10 485.9 L732.40 444.9 L732.70 478.3 L733.00 448.4 L733.30 490.2 L733.60 447.0 L733.90 507.2 L734.20 465.5 L734.50 488.0 L734.80 448.4 L735.10 479.3 L735.40 450.4 L735.70 499.1 L736.00 445.0 L736.30 494.8 L736.60 449.0 L736.90 498.9 L737.20 458.9 L737.50 492.0 L737.80 463.8 L738.10 489.7 L738.40 453.3 L738.70 480.1 L739.00 448.9 L739.30 490.6 L739.60 459.8 L739.90 494.0 L740.20 443.2 L740.50 471.3 L740.80 435.5 L741.10 486.7 L741.40 453.1 L741.70 484.6 L742.00 450.3 L742.30 473.9 L742.60 437.9 L742.90 487.4 L743.20 457.8 L743.50 470.0 L743.80 445.4 L744.10 479.3 L744.40 428.3 L744.70 478.9 L745.00 437.2 L745.30 476.2 L745.60 441.4 L745.90 488.1 L746.20 446.0 L746.50 483.5 L746.80 442.4 L747.10 468.7 L747.40 437.3 L747.70 459.9 L748.00 444.7 L748.30 411.1 L748.60 417.6 L748.90 470.0 L749.20 444.6 L749.50 456.0 L749.80 433.8 L750.10 478.7 L750.40 410.4 L750.70 486.1 L751.00 412.4 L751.30 464.0 L751.60 415.3 L751.90 455.8 L752.20 444.1 L752.50 452.0 L752.80 415.3 L753.10 471.8 L753.40 415.9 L753.70 473.1 L754.00 413.4 L754.30 462.6 L754.60 404.2 L754.90 473.3 L755.20 433.2 L755.50 484.6 L755.80 412.0 L756.10 471.0 L756.40 427.5 L756.70 478.9 L757.00 436.6 L757.30 463.3 L757.60 432.4 L757.90 495.5 L758.20 449.1 L758.50 498.4 L758.80 461.0 L759.10 499.3 L759.40 469.3 L759.70 485.1 L760.00 471.4 L760.30 486.7 L760.60 471.8 L760.90 505.7 L761.20 476.3 L761.50 506.2 L761.80 467.6 L762.10 492.6 L762.40 463.4 L762.70 498.2 L763.00 468.5 L763.30 495.3 L763.60 474.8 L763.90 487.2 L764.20 462.5 L764.50 508.0 L764.80 441.5 L765.10 498.0 L765.40 477.2 L765.70 503.6 L766.00 476.5 L766.30 517.9 L766.60 445.8 L766.90 490.3 L767.20 467.0 L767.50 510.7 L767.80 450.9 L768.10 514.2 L768.40 445.6 L768.70 496.1 L769.00 464.3 L769.30 491.6 L769.60 450.8 L769.90 486.6 L770.20 468.1 L770.50 493.6 L770.80 452.5 L771.10 493.4 L771.40 459.0 L771.70 484.3 L772.00 451.2 L772.30 494.1 L772.60 466.1 L772.90 495.3 L773.20 448.6 L773.50 491.1 L773.80 448.1 L774.10 482.0 L774.40 452.7 L774.70 487.1 L775.00 443.9 L775.30 502.5 L775.60 466.7 L775.90 503.1 L776.20 463.3 L776.50 499.2 L776.80 442.3 L777.10 498.5 L777.40 440.6 L777.70 475.9 L778.00 453.5 L778.30 501.1 L778.60 445.1 L778.90 502.6 L779.20 423.1 L779.50 482.2 L779.80 449.5 L780.10 478.5 L780.40 444.9 L780.70 473.0 L781.00 422.9 L781.30 484.5 L781.60 456.9 L781.90 501.7 L782.20 440.4 L782.50 493.2 L782.80 422.2 L783.10 481.2 L783.40 441.3 L783.70 499.8 L784.00 441.1 L784.30 473.7 L784.60 443.0 L784.90 479.0 L785.20 419.7 L785.50 500.6 L785.80 436.0 L786.10 492.2 L786.40 444.6 L786.70 484.3 L787.00 435.5 L787.30 498.1 L787.60 442.2 L787.90 491.8 L788.20 458.3 L788.50 498.7 L788.80 434.8 L789.10 482.0 L789.40 455.8 L789.70 493.0 L790.00 425.5 L790.30 483.6 L790.60 429.1 L790.90 486.3 L791.20 420.8 L791.50 482.1 L791.80 421.7 L792.10 503.2 L792.40 443.9 L792.70 512.0 L793.00 445.6 L793.30 490.1 L793.60 448.0 L793.90 477.8 L794.20 428.9 L794.50 488.4 L794.80 430.5 L795.10 474.9 L795.40 463.1 L795.70 417.9 L796.00 435.3 L796.30 487.6 L796.60 463.0 L796.90 476.1 L797.20 464.0 L797.50 483.7 L797.80 461.6 L798.10 491.1 L798.40 464.5 L798.70 487.1 L799.00 448.3 L799.30 488.2 L799.60 461.7 L799.90 488.7 L800.20 446.0 L800.50 479.6 L800.80 460.5 L801.10 489.6 L801.40 456.6 L801.70 477.6 L802.00 464.5 L802.30 493.8 L802.60 445.4 L802.90 488.0 L803.20 464.5 L803.50 494.6 L803.80 465.5 L804.10 495.4 L804.40 461.7 L804.70 484.1 L805.00 444.0 L805.30 492.8 L805.60 454.9 L805.90 477.9 L806.20 454.9 L806.50 496.4 L806.80 461.0 L807.10 506.2 L807.40 462.9 L807.70 485.8 L808.00 466.0 L808.30 477.4 L808.60 442.5 L808.90 498.0 L809.20 466.8 L809.50 500.3 L809.80 440.4 L810.10 491.9 L810.40 451.6 L810.70 496.7 L811.00 449.7 L811.30 477.7 L811.60 445.4 L811.90 496.3 L812.20 467.2 L812.50 492.1 L812.80 463.2 L813.10 499.6 L813.40 448.5 L813.70 478.6 L814.00 463.6 L814.30 486.6 L814.60 469.9 L814.90 499.1 L815.20 448.7 L815.50 495.3 L815.80 457.6 L816.10 489.4 L816.40 456.0 L816.70 505.7 L817.00 456.2 L817.30 496.4 L817.60 473.2 L817.90 508.1 L818.20 474.8 L818.50 492.2 L818.80 450.9 L819.10 494.1 L819.40 466.0 L819.70 492.4 L820.00 454.5 L820.30 491.7 L820.60 469.7 L820.90 499.4 L821.20 450.2 L821.50 507.8 L821.80 480.2 L822.10 514.0 L822.40 453.9 L822.70 515.4 L823.00 470.9 L823.30 509.6 L823.60 449.7 L823.90 498.6 L824.20 459.4 L824.50 505.4 L824.80 458.7 L825.10 503.2 L825.40 468.8 L825.70 495.7 L826.00 457.4 L826.30 497.0 L826.60 485.9 L826.90 518.0 L827.20 470.9 L827.50 524.6 L827.80 466.9 L828.10 521.5 L828.40 486.2 L828.70 518.8 L829.00 466.4 L829.30 530.9 L829.60 489.1 L829.90 530.1 L830.20 459.1 L830.50 506.3 L830.80 471.3 L831.10 534.8 L831.40 464.4 L831.70 542.9 L832.00 462.1 L832.30 527.2 L832.60 494.8 L832.90 535.0 L833.20 489.3 L833.50 513.1 L833.80 466.2 L834.10 525.2 L834.40 491.3 L834.70 513.8 L835.00 477.5 L835.30 513.1" fill="none" stroke="#008000" stroke-width="1.35" stroke-linejoin="miter" stroke-miterlimit="2"/><rect x="308.20" y="19.30" width="81.50" height="21.20" fill="#fff" stroke="#999" stroke-width="1"/><line x1="308.70" y1="25.00" x2="328.20" y2="25.00" stroke="#ff22ee" stroke-width="2"/><line x1="308.70" y1="35.00" x2="328.20" y2="35.00" stroke="#009a2a" stroke-width="2"/><text x="330.10" y="27.90" font-size="7.9" style="font-family:'Liberation Sans',sans-serif;font-weight:bold;stroke:#000;stroke-width:0.1px">20XX_22217550</text><text x="330.10" y="37.90" font-size="7.9" style="font-family:'Liberation Sans',sans-serif;font-weight:bold;stroke:#000;stroke-width:0.1px">20XX_559495</text><rect x="746.60" y="10.20" width="84.00" height="21.40" fill="#fff" stroke="#999" stroke-width="1"/><line x1="747.20" y1="16.10" x2="767.00" y2="16.10" stroke="#ff22ee" stroke-width="2"/><line x1="747.20" y1="26.20" x2="767.00" y2="26.20" stroke="#009a2a" stroke-width="2"/><text x="769.10" y="19.00" font-size="7.9" style="font-family:'Liberation Sans',sans-serif;font-weight:bold;stroke:#000;stroke-width:0.1px">20XX_22217550</text><text x="769.10" y="29.10" font-size="7.9" style="font-family:'Liberation Sans',sans-serif;font-weight:bold;stroke:#000;stroke-width:0.1px">20XX_559495</text><rect x="307.80" y="345.60" width="81.80" height="20.60" fill="#fff" stroke="#999" stroke-width="1"/><line x1="308.40" y1="350.80" x2="327.90" y2="350.80" stroke="#ff22ee" stroke-width="2"/><line x1="308.40" y1="360.70" x2="327.90" y2="360.70" stroke="#009a2a" stroke-width="2"/><text x="329.70" y="353.70" font-size="7.9" style="font-family:'Liberation Sans',sans-serif;font-weight:bold;stroke:#000;stroke-width:0.1px">20XX_22217550</text><text x="329.70" y="363.60" font-size="7.9" style="font-family:'Liberation Sans',sans-serif;font-weight:bold;stroke:#000;stroke-width:0.1px">20XX_559495</text><rect x="748.40" y="347.60" width="84.30" height="21.50" fill="#fff" stroke="#999" stroke-width="1"/><line x1="749.10" y1="353.40" x2="768.90" y2="353.40" stroke="#ff22ee" stroke-width="2"/><line x1="749.10" y1="363.90" x2="768.90" y2="363.90" stroke="#009a2a" stroke-width="2"/><text x="770.90" y="356.30" font-size="7.9" style="font-family:'Liberation Sans',sans-serif;font-weight:bold;stroke:#000;stroke-width:0.1px">20XX_22217550</text><text x="770.90" y="366.80" font-size="7.9" style="font-family:'Liberation Sans',sans-serif;font-weight:bold;stroke:#000;stroke-width:0.1px">20XX_559495</text></svg>
</body></html>
